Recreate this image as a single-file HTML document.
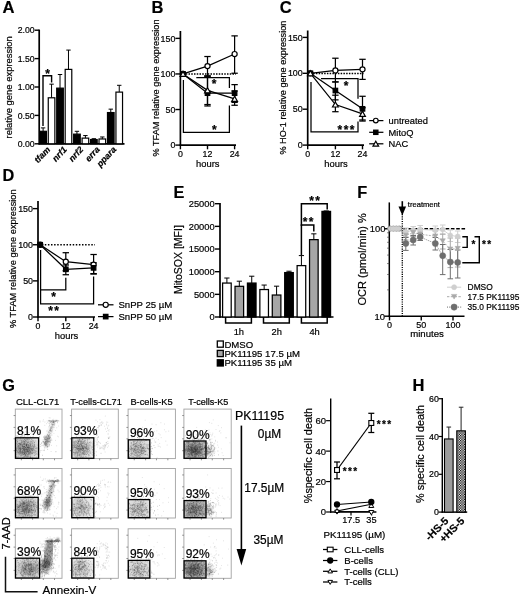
<!DOCTYPE html>
<html lang="en">
<head>
<meta charset="utf-8">
<title>Figure</title>
<style>
html,body{margin:0;padding:0;background:#fff;}
svg{display:block;font-family:"Liberation Sans", sans-serif;}
text{stroke:#000;stroke-width:0.2px;}
</style>
</head>
<body>
<svg width="520" height="595" viewBox="0 0 520 595">
<rect x="0" y="0" width="520" height="595" fill="#fff" stroke="none"/>
<defs>
<radialGradient id="rg"><stop offset="0" stop-color="#555" stop-opacity="0.95"/><stop offset="0.45" stop-color="#666" stop-opacity="0.6"/><stop offset="0.8" stop-color="#777" stop-opacity="0.18"/><stop offset="1" stop-color="#888" stop-opacity="0"/></radialGradient>
<filter id="bl" x="-5%" y="-5%" width="110%" height="110%"><feGaussianBlur stdDeviation="0.42"/></filter>
<filter id="bl2" x="-30%" y="-30%" width="160%" height="160%"><feGaussianBlur stdDeviation="1.1"/></filter>
<pattern id="chk" width="2.5" height="2.5" patternUnits="userSpaceOnUse"><rect width="2.5" height="2.5" fill="#fff"/><rect width="1.25" height="1.25" fill="#000"/><rect x="1.25" y="1.25" width="1.25" height="1.25" fill="#000"/></pattern>
</defs>
<text x="2.5" y="13.24" font-size="16.6" text-anchor="start" fill="#000" font-weight="bold">A</text>
<line x1="39.2" y1="29.6" x2="39.2" y2="144.5" stroke="#000" stroke-width="1.7"/>
<line x1="38.5" y1="143.8" x2="124.5" y2="143.8" stroke="#000" stroke-width="1.7"/>
<line x1="34.7" y1="143.8" x2="39.2" y2="143.8" stroke="#000" stroke-width="1.4"/>
<text x="34.6" y="146.91" font-size="8.7" text-anchor="end" fill="#000">0.00</text>
<line x1="34.7" y1="115.4" x2="39.2" y2="115.4" stroke="#000" stroke-width="1.4"/>
<text x="34.6" y="118.51" font-size="8.7" text-anchor="end" fill="#000">0.50</text>
<line x1="34.7" y1="87" x2="39.2" y2="87" stroke="#000" stroke-width="1.4"/>
<text x="34.6" y="90.11" font-size="8.7" text-anchor="end" fill="#000">1.00</text>
<line x1="34.7" y1="58.6" x2="39.2" y2="58.6" stroke="#000" stroke-width="1.4"/>
<text x="34.6" y="61.71" font-size="8.7" text-anchor="end" fill="#000">1.50</text>
<line x1="34.7" y1="30.2" x2="39.2" y2="30.2" stroke="#000" stroke-width="1.4"/>
<text x="34.6" y="33.31" font-size="8.7" text-anchor="end" fill="#000">2.00</text>
<text x="8.8" y="90.68" font-size="9.45" text-anchor="middle" fill="#000" transform="rotate(-90 8.8 87.3)">relative gene expression</text>
<line x1="43.1" y1="131.3" x2="43.1" y2="127.9" stroke="#000" stroke-width="1"/>
<line x1="40.9" y1="127.9" x2="45.3" y2="127.9" stroke="#000" stroke-width="1"/>
<rect x="39.8" y="131.3" width="6.6" height="12.5" fill="#000" stroke="#000" stroke-width="1.2"/>
<line x1="51.56" y1="97.79" x2="51.56" y2="84.16" stroke="#000" stroke-width="1"/>
<line x1="49.36" y1="84.16" x2="53.76" y2="84.16" stroke="#000" stroke-width="1"/>
<rect x="48.26" y="97.79" width="6.6" height="46.01" fill="#fff" stroke="#000" stroke-width="1.2"/>
<line x1="60.02" y1="88.14" x2="60.02" y2="74.5" stroke="#000" stroke-width="1"/>
<line x1="57.82" y1="74.5" x2="62.22" y2="74.5" stroke="#000" stroke-width="1"/>
<rect x="56.72" y="88.14" width="6.6" height="55.66" fill="#000" stroke="#000" stroke-width="1.2"/>
<line x1="68.48" y1="69.39" x2="68.48" y2="50.08" stroke="#000" stroke-width="1"/>
<line x1="66.28" y1="50.08" x2="70.68" y2="50.08" stroke="#000" stroke-width="1"/>
<rect x="65.18" y="69.39" width="6.6" height="74.41" fill="#fff" stroke="#000" stroke-width="1.2"/>
<line x1="76.94" y1="134.14" x2="76.94" y2="131.3" stroke="#000" stroke-width="1"/>
<line x1="74.74" y1="131.3" x2="79.14" y2="131.3" stroke="#000" stroke-width="1"/>
<rect x="73.64" y="134.14" width="6.6" height="9.66" fill="#000" stroke="#000" stroke-width="1.2"/>
<line x1="85.4" y1="138.12" x2="85.4" y2="135.56" stroke="#000" stroke-width="1"/>
<line x1="83.2" y1="135.56" x2="87.6" y2="135.56" stroke="#000" stroke-width="1"/>
<rect x="82.1" y="138.12" width="6.6" height="5.68" fill="#fff" stroke="#000" stroke-width="1.2"/>
<line x1="93.86" y1="139.54" x2="93.86" y2="138.69" stroke="#000" stroke-width="1"/>
<line x1="91.66" y1="138.69" x2="96.06" y2="138.69" stroke="#000" stroke-width="1"/>
<rect x="90.56" y="139.54" width="6.6" height="4.26" fill="#000" stroke="#000" stroke-width="1.2"/>
<line x1="102.32" y1="138.97" x2="102.32" y2="136.98" stroke="#000" stroke-width="1"/>
<line x1="100.12" y1="136.98" x2="104.52" y2="136.98" stroke="#000" stroke-width="1"/>
<rect x="99.02" y="138.97" width="6.6" height="4.83" fill="#fff" stroke="#000" stroke-width="1.2"/>
<line x1="110.78" y1="112.56" x2="110.78" y2="109.15" stroke="#000" stroke-width="1"/>
<line x1="108.58" y1="109.15" x2="112.98" y2="109.15" stroke="#000" stroke-width="1"/>
<rect x="107.48" y="112.56" width="6.6" height="31.24" fill="#000" stroke="#000" stroke-width="1.2"/>
<line x1="119.24" y1="92.11" x2="119.24" y2="85.3" stroke="#000" stroke-width="1"/>
<line x1="117.04" y1="85.3" x2="121.44" y2="85.3" stroke="#000" stroke-width="1"/>
<rect x="115.94" y="92.11" width="6.6" height="51.69" fill="#fff" stroke="#000" stroke-width="1.2"/>
<text x="50.73" y="150" font-size="8.8" font-style="italic" font-weight="bold" text-anchor="end" transform="rotate(-47 50.73 150)">tfam</text>
<text x="67.25" y="150" font-size="8.8" font-style="italic" font-weight="bold" text-anchor="end" transform="rotate(-47 67.25 150)">nrf1</text>
<text x="83.77" y="150" font-size="8.8" font-style="italic" font-weight="bold" text-anchor="end" transform="rotate(-47 83.77 150)">nrf2</text>
<text x="100.29" y="150" font-size="8.8" font-style="italic" font-weight="bold" text-anchor="end" transform="rotate(-47 100.29 150)">erra</text>
<text x="116.81" y="150" font-size="8.8" font-style="italic" font-weight="bold" text-anchor="end" transform="rotate(-47 116.81 150)">ppara</text>
<polyline points="43,126 43,75.8 51.6,75.8 51.6,82.5" fill="none" stroke="#000" stroke-width="1.4"/>
<text x="47.6" y="78.28" font-size="12" text-anchor="middle" fill="#000" font-weight="bold">*</text>
<text x="151.6" y="13.21" font-size="16.5" text-anchor="start" fill="#000" font-weight="bold">B</text>
<line x1="180.4" y1="31" x2="180.4" y2="145.8" stroke="#000" stroke-width="1.7"/>
<line x1="179.7" y1="145.1" x2="236" y2="145.1" stroke="#000" stroke-width="1.7"/>
<line x1="175.4" y1="145.1" x2="180.4" y2="145.1" stroke="#000" stroke-width="1.4"/>
<text x="175.4" y="148.29" font-size="8.9" text-anchor="end" fill="#000">0</text>
<line x1="175.4" y1="109.52" x2="180.4" y2="109.52" stroke="#000" stroke-width="1.4"/>
<text x="175.4" y="112.71" font-size="8.9" text-anchor="end" fill="#000">50</text>
<line x1="175.4" y1="73.95" x2="180.4" y2="73.95" stroke="#000" stroke-width="1.4"/>
<text x="175.4" y="77.14" font-size="8.9" text-anchor="end" fill="#000">100</text>
<line x1="175.4" y1="38.37" x2="180.4" y2="38.37" stroke="#000" stroke-width="1.4"/>
<text x="175.4" y="41.56" font-size="8.9" text-anchor="end" fill="#000">150</text>
<line x1="180.4" y1="145.1" x2="180.4" y2="149.3" stroke="#000" stroke-width="1.4"/>
<text x="180.4" y="157.45" font-size="8.8" text-anchor="middle" fill="#000">0</text>
<line x1="207.5" y1="145.1" x2="207.5" y2="149.3" stroke="#000" stroke-width="1.4"/>
<text x="207.5" y="157.45" font-size="8.8" text-anchor="middle" fill="#000">12</text>
<line x1="234.6" y1="145.1" x2="234.6" y2="149.3" stroke="#000" stroke-width="1.4"/>
<text x="234.6" y="157.45" font-size="8.8" text-anchor="middle" fill="#000">24</text>
<text x="207.8" y="166.57" font-size="9.4" text-anchor="middle" fill="#000">hours</text>
<text x="155.6" y="91.29" font-size="9.2" text-anchor="middle" fill="#000" transform="rotate(-90 155.6 88)">% TFAM relative gene expression</text>
<line x1="183" y1="73.95" x2="236" y2="73.95" stroke="#000" stroke-width="1.5" stroke-dasharray="1.5 1.25"/>
<polyline points="183.4,80 183.4,132.3 229.4,132.3 229.4,105.5" fill="none" stroke="#000" stroke-width="1.25"/>
<polyline points="196.3,77.6 229.4,77.6 229.4,88" fill="none" stroke="#000" stroke-width="1.25"/>
<text x="214.2" y="88.38" font-size="12" text-anchor="middle" fill="#000" font-weight="bold">*</text>
<text x="214.4" y="134.38" font-size="12" text-anchor="middle" fill="#000" font-weight="bold">*</text>
<polyline points="183,73.95 207.5,93.16 234.6,93.16" fill="none" stroke="#000" stroke-width="1.25"/>
<polyline points="183,73.95 207.5,90.31 234.6,98.85" fill="none" stroke="#000" stroke-width="1.25"/>
<polyline points="183,73.95 207.5,66.12 234.6,54.03" fill="none" stroke="#000" stroke-width="1.25"/>
<line x1="207.5" y1="76.08" x2="207.5" y2="104.54" stroke="#000" stroke-width="1.25"/>
<line x1="204.3" y1="76.08" x2="210.7" y2="76.08" stroke="#000" stroke-width="1.25"/>
<line x1="204.3" y1="104.54" x2="210.7" y2="104.54" stroke="#000" stroke-width="1.25"/>
<line x1="234.6" y1="84.62" x2="234.6" y2="102.41" stroke="#000" stroke-width="1.25"/>
<line x1="231.4" y1="84.62" x2="237.8" y2="84.62" stroke="#000" stroke-width="1.25"/>
<line x1="231.4" y1="102.41" x2="237.8" y2="102.41" stroke="#000" stroke-width="1.25"/>
<line x1="207.5" y1="76.08" x2="207.5" y2="105.97" stroke="#000" stroke-width="1.25"/>
<line x1="204.3" y1="76.08" x2="210.7" y2="76.08" stroke="#000" stroke-width="1.25"/>
<line x1="204.3" y1="105.97" x2="210.7" y2="105.97" stroke="#000" stroke-width="1.25"/>
<line x1="234.6" y1="91.03" x2="234.6" y2="105.26" stroke="#000" stroke-width="1.25"/>
<line x1="231.4" y1="91.03" x2="237.8" y2="91.03" stroke="#000" stroke-width="1.25"/>
<line x1="231.4" y1="105.26" x2="237.8" y2="105.26" stroke="#000" stroke-width="1.25"/>
<line x1="207.5" y1="56.52" x2="207.5" y2="76.08" stroke="#000" stroke-width="1.25"/>
<line x1="204.3" y1="56.52" x2="210.7" y2="56.52" stroke="#000" stroke-width="1.25"/>
<line x1="204.3" y1="76.08" x2="210.7" y2="76.08" stroke="#000" stroke-width="1.25"/>
<line x1="234.6" y1="35.88" x2="234.6" y2="73.24" stroke="#000" stroke-width="1.25"/>
<line x1="231.4" y1="35.88" x2="237.8" y2="35.88" stroke="#000" stroke-width="1.25"/>
<line x1="231.4" y1="73.24" x2="237.8" y2="73.24" stroke="#000" stroke-width="1.25"/>
<circle cx="183" cy="73.95" r="2.55" fill="#fff" stroke="#000" stroke-width="1.2"/>
<circle cx="207.5" cy="66.12" r="2.55" fill="#fff" stroke="#000" stroke-width="1.2"/>
<circle cx="234.6" cy="54.03" r="2.55" fill="#fff" stroke="#000" stroke-width="1.2"/>
<rect x="180.75" y="71.7" width="4.5" height="4.5" fill="#000" stroke="#000" stroke-width="1.2"/>
<rect x="205.25" y="90.91" width="4.5" height="4.5" fill="#000" stroke="#000" stroke-width="1.2"/>
<rect x="232.35" y="90.91" width="4.5" height="4.5" fill="#000" stroke="#000" stroke-width="1.2"/>
<polygon points="183,71.35 185.9,76.42 180.1,76.42" fill="#fff" stroke="#000" stroke-width="1.2"/>
<polygon points="207.5,87.71 210.4,92.79 204.6,92.79" fill="#fff" stroke="#000" stroke-width="1.2"/>
<polygon points="234.6,96.25 237.5,101.33 231.7,101.33" fill="#fff" stroke="#000" stroke-width="1.2"/>
<text x="279.8" y="13.21" font-size="16.5" text-anchor="start" fill="#000" font-weight="bold">C</text>
<line x1="307.7" y1="30.5" x2="307.7" y2="145.8" stroke="#000" stroke-width="1.7"/>
<line x1="307" y1="145.1" x2="364" y2="145.1" stroke="#000" stroke-width="1.7"/>
<line x1="302.7" y1="145.1" x2="307.7" y2="145.1" stroke="#000" stroke-width="1.4"/>
<text x="302.7" y="148.29" font-size="8.9" text-anchor="end" fill="#000">0</text>
<line x1="302.7" y1="109.2" x2="307.7" y2="109.2" stroke="#000" stroke-width="1.4"/>
<text x="302.7" y="112.39" font-size="8.9" text-anchor="end" fill="#000">50</text>
<line x1="302.7" y1="73.3" x2="307.7" y2="73.3" stroke="#000" stroke-width="1.4"/>
<text x="302.7" y="76.49" font-size="8.9" text-anchor="end" fill="#000">100</text>
<line x1="302.7" y1="37.4" x2="307.7" y2="37.4" stroke="#000" stroke-width="1.4"/>
<text x="302.7" y="40.59" font-size="8.9" text-anchor="end" fill="#000">150</text>
<line x1="307.7" y1="145.1" x2="307.7" y2="149.3" stroke="#000" stroke-width="1.4"/>
<text x="307.7" y="157.45" font-size="8.8" text-anchor="middle" fill="#000">0</text>
<line x1="335.4" y1="145.1" x2="335.4" y2="149.3" stroke="#000" stroke-width="1.4"/>
<text x="335.4" y="157.45" font-size="8.8" text-anchor="middle" fill="#000">12</text>
<line x1="362.5" y1="145.1" x2="362.5" y2="149.3" stroke="#000" stroke-width="1.4"/>
<text x="362.5" y="157.45" font-size="8.8" text-anchor="middle" fill="#000">24</text>
<text x="336" y="166.57" font-size="9.4" text-anchor="middle" fill="#000">hours</text>
<text x="283.1" y="90.88" font-size="9.15" text-anchor="middle" fill="#000" transform="rotate(-90 283.1 87.6)">% HO-1 relative gene expression</text>
<line x1="310.4" y1="73.4" x2="363.5" y2="73.4" stroke="#000" stroke-width="1.5" stroke-dasharray="1.5 1.25"/>
<polyline points="311,82 311,131.9 358,131.9 358,121.4" fill="none" stroke="#000" stroke-width="1.25"/>
<polyline points="321,78.6 358,78.6 358,98.8" fill="none" stroke="#000" stroke-width="1.25"/>
<text x="346" y="89.98" font-size="12" text-anchor="middle" fill="#000" font-weight="bold">*</text>
<text x="346.7" y="133.78" font-size="12" text-anchor="middle" fill="#000" font-weight="bold" letter-spacing="1.4">***</text>
<polyline points="310.4,73.3 335.4,90.53 362.5,108.84" fill="none" stroke="#000" stroke-width="1.25"/>
<polyline points="310.4,73.3 335.4,104.53 362.5,113.87" fill="none" stroke="#000" stroke-width="1.25"/>
<polyline points="310.4,73.3 335.4,70.43 362.5,69.35" fill="none" stroke="#000" stroke-width="1.25"/>
<line x1="335.4" y1="81.92" x2="335.4" y2="99.87" stroke="#000" stroke-width="1.25"/>
<line x1="332.2" y1="81.92" x2="338.6" y2="81.92" stroke="#000" stroke-width="1.25"/>
<line x1="332.2" y1="99.87" x2="338.6" y2="99.87" stroke="#000" stroke-width="1.25"/>
<line x1="362.5" y1="96.28" x2="362.5" y2="121.05" stroke="#000" stroke-width="1.25"/>
<line x1="359.3" y1="96.28" x2="365.7" y2="96.28" stroke="#000" stroke-width="1.25"/>
<line x1="359.3" y1="121.05" x2="365.7" y2="121.05" stroke="#000" stroke-width="1.25"/>
<line x1="335.4" y1="95.2" x2="335.4" y2="111.71" stroke="#000" stroke-width="1.25"/>
<line x1="332.2" y1="95.2" x2="338.6" y2="95.2" stroke="#000" stroke-width="1.25"/>
<line x1="332.2" y1="111.71" x2="338.6" y2="111.71" stroke="#000" stroke-width="1.25"/>
<line x1="362.5" y1="107.76" x2="362.5" y2="119.97" stroke="#000" stroke-width="1.25"/>
<line x1="359.3" y1="107.76" x2="365.7" y2="107.76" stroke="#000" stroke-width="1.25"/>
<line x1="359.3" y1="119.97" x2="365.7" y2="119.97" stroke="#000" stroke-width="1.25"/>
<line x1="335.4" y1="58.22" x2="335.4" y2="81.92" stroke="#000" stroke-width="1.25"/>
<line x1="332.2" y1="58.22" x2="338.6" y2="58.22" stroke="#000" stroke-width="1.25"/>
<line x1="332.2" y1="81.92" x2="338.6" y2="81.92" stroke="#000" stroke-width="1.25"/>
<line x1="362.5" y1="59.3" x2="362.5" y2="79.4" stroke="#000" stroke-width="1.25"/>
<line x1="359.3" y1="59.3" x2="365.7" y2="59.3" stroke="#000" stroke-width="1.25"/>
<line x1="359.3" y1="79.4" x2="365.7" y2="79.4" stroke="#000" stroke-width="1.25"/>
<circle cx="310.4" cy="73.3" r="2.55" fill="#fff" stroke="#000" stroke-width="1.2"/>
<circle cx="335.4" cy="70.43" r="2.55" fill="#fff" stroke="#000" stroke-width="1.2"/>
<circle cx="362.5" cy="69.35" r="2.55" fill="#fff" stroke="#000" stroke-width="1.2"/>
<rect x="308.15" y="71.05" width="4.5" height="4.5" fill="#000" stroke="#000" stroke-width="1.2"/>
<rect x="333.15" y="88.28" width="4.5" height="4.5" fill="#000" stroke="#000" stroke-width="1.2"/>
<rect x="360.25" y="106.59" width="4.5" height="4.5" fill="#000" stroke="#000" stroke-width="1.2"/>
<polygon points="310.4,70.7 313.3,75.77 307.5,75.77" fill="#fff" stroke="#000" stroke-width="1.2"/>
<polygon points="335.4,101.93 338.3,107.01 332.5,107.01" fill="#fff" stroke="#000" stroke-width="1.2"/>
<polygon points="362.5,111.27 365.4,116.34 359.6,116.34" fill="#fff" stroke="#000" stroke-width="1.2"/>
<line x1="369.2" y1="120.6" x2="383.4" y2="120.6" stroke="#000" stroke-width="1.25"/>
<circle cx="375.8" cy="120.6" r="2.35" fill="#fff" stroke="#000" stroke-width="1.2"/>
<text x="388.6" y="123.93" font-size="9.3" text-anchor="start" fill="#000">untreated</text>
<line x1="369.2" y1="132.3" x2="383.4" y2="132.3" stroke="#000" stroke-width="1.25"/>
<rect x="373.65" y="130.15" width="4.3" height="4.3" fill="#000" stroke="#000" stroke-width="1.2"/>
<text x="388.6" y="135.63" font-size="9.3" text-anchor="start" fill="#000">MitoQ</text>
<line x1="369.2" y1="143.8" x2="383.4" y2="143.8" stroke="#000" stroke-width="1.25"/>
<polygon points="375.8,141.2 378.6,146.1 373,146.1" fill="#fff" stroke="#000" stroke-width="1.2"/>
<text x="388.6" y="147.13" font-size="9.3" text-anchor="start" fill="#000">NAC</text>
<text x="2.6" y="181.34" font-size="16.3" text-anchor="start" fill="#000" font-weight="bold">D</text>
<line x1="38" y1="201" x2="38" y2="317.7" stroke="#000" stroke-width="1.7"/>
<line x1="37.3" y1="317" x2="95" y2="317" stroke="#000" stroke-width="1.7"/>
<line x1="33" y1="317" x2="38" y2="317" stroke="#000" stroke-width="1.4"/>
<text x="33" y="320.19" font-size="8.9" text-anchor="end" fill="#000">0</text>
<line x1="33" y1="280.88" x2="38" y2="280.88" stroke="#000" stroke-width="1.4"/>
<text x="33" y="284.06" font-size="8.9" text-anchor="end" fill="#000">50</text>
<line x1="33" y1="244.75" x2="38" y2="244.75" stroke="#000" stroke-width="1.4"/>
<text x="33" y="247.94" font-size="8.9" text-anchor="end" fill="#000">100</text>
<line x1="33" y1="208.62" x2="38" y2="208.62" stroke="#000" stroke-width="1.4"/>
<text x="33" y="211.81" font-size="8.9" text-anchor="end" fill="#000">150</text>
<line x1="38" y1="317" x2="38" y2="321.2" stroke="#000" stroke-width="1.4"/>
<text x="38" y="329.35" font-size="8.8" text-anchor="middle" fill="#000">0</text>
<line x1="65.8" y1="317" x2="65.8" y2="321.2" stroke="#000" stroke-width="1.4"/>
<text x="65.8" y="329.35" font-size="8.8" text-anchor="middle" fill="#000">12</text>
<line x1="93.6" y1="317" x2="93.6" y2="321.2" stroke="#000" stroke-width="1.4"/>
<text x="93.6" y="329.35" font-size="8.8" text-anchor="middle" fill="#000">24</text>
<text x="66.5" y="338.97" font-size="9.4" text-anchor="middle" fill="#000">hours</text>
<text x="13" y="262.03" font-size="9.3" text-anchor="middle" fill="#000" transform="rotate(-90 13 258.7)">% TFAM relative gene expression</text>
<line x1="41.7" y1="244.75" x2="95" y2="244.75" stroke="#000" stroke-width="1.5" stroke-dasharray="1.5 1.6"/>
<polyline points="40.6,250 40.6,303.8 93.6,303.8 93.6,276.5" fill="none" stroke="#000" stroke-width="1.25"/>
<polyline points="40.6,289.8 65.8,289.8 65.8,277.7" fill="none" stroke="#000" stroke-width="1.25"/>
<text x="53.6" y="301.18" font-size="12" text-anchor="middle" fill="#000" font-weight="bold">*</text>
<text x="54.3" y="314.78" font-size="12" text-anchor="middle" fill="#000" font-weight="bold" letter-spacing="1.4">**</text>
<polyline points="40.2,244.75 65.8,269.31 93.6,267.87" fill="none" stroke="#000" stroke-width="1.25"/>
<polyline points="40.2,244.75 65.8,261.73 93.6,264.62" fill="none" stroke="#000" stroke-width="1.25"/>
<line x1="65.8" y1="264.98" x2="65.8" y2="274.73" stroke="#000" stroke-width="1.25"/>
<line x1="62.6" y1="264.98" x2="69" y2="264.98" stroke="#000" stroke-width="1.25"/>
<line x1="62.6" y1="274.73" x2="69" y2="274.73" stroke="#000" stroke-width="1.25"/>
<line x1="93.6" y1="262.81" x2="93.6" y2="274.01" stroke="#000" stroke-width="1.25"/>
<line x1="90.4" y1="262.81" x2="96.8" y2="262.81" stroke="#000" stroke-width="1.25"/>
<line x1="90.4" y1="274.01" x2="96.8" y2="274.01" stroke="#000" stroke-width="1.25"/>
<line x1="65.8" y1="252.7" x2="65.8" y2="270.76" stroke="#000" stroke-width="1.25"/>
<line x1="62.6" y1="252.7" x2="69" y2="252.7" stroke="#000" stroke-width="1.25"/>
<line x1="62.6" y1="270.76" x2="69" y2="270.76" stroke="#000" stroke-width="1.25"/>
<line x1="93.6" y1="254.5" x2="93.6" y2="273.65" stroke="#000" stroke-width="1.25"/>
<line x1="90.4" y1="254.5" x2="96.8" y2="254.5" stroke="#000" stroke-width="1.25"/>
<line x1="90.4" y1="273.65" x2="96.8" y2="273.65" stroke="#000" stroke-width="1.25"/>
<circle cx="40.2" cy="244.75" r="2.55" fill="#fff" stroke="#000" stroke-width="1.2"/>
<circle cx="65.8" cy="261.73" r="2.55" fill="#fff" stroke="#000" stroke-width="1.2"/>
<circle cx="93.6" cy="264.62" r="2.55" fill="#fff" stroke="#000" stroke-width="1.2"/>
<rect x="37.95" y="242.5" width="4.5" height="4.5" fill="#000" stroke="#000" stroke-width="1.2"/>
<rect x="63.55" y="267.06" width="4.5" height="4.5" fill="#000" stroke="#000" stroke-width="1.2"/>
<rect x="91.35" y="265.62" width="4.5" height="4.5" fill="#000" stroke="#000" stroke-width="1.2"/>
<line x1="98" y1="304.8" x2="113.5" y2="304.8" stroke="#000" stroke-width="1.25"/>
<circle cx="105.7" cy="304.8" r="2.55" fill="#fff" stroke="#000" stroke-width="1.2"/>
<text x="118.4" y="308.24" font-size="9.6" text-anchor="start" fill="#000">SnPP 25 µM</text>
<line x1="98" y1="316.6" x2="113.5" y2="316.6" stroke="#000" stroke-width="1.25"/>
<rect x="103.45" y="314.35" width="4.5" height="4.5" fill="#000" stroke="#000" stroke-width="1.2"/>
<text x="118.4" y="320.04" font-size="9.6" text-anchor="start" fill="#000">SnPP 50 µM</text>
<text x="173.6" y="198.04" font-size="16.3" text-anchor="start" fill="#000" font-weight="bold">E</text>
<line x1="220" y1="203.1" x2="220" y2="317.7" stroke="#000" stroke-width="1.7"/>
<line x1="219.3" y1="317" x2="333.5" y2="317" stroke="#000" stroke-width="1.7"/>
<line x1="215" y1="317" x2="220" y2="317" stroke="#000" stroke-width="1.4"/>
<text x="214.6" y="320.33" font-size="9.3" text-anchor="end" fill="#000">0</text>
<line x1="215" y1="294.34" x2="220" y2="294.34" stroke="#000" stroke-width="1.4"/>
<text x="214.6" y="297.67" font-size="9.3" text-anchor="end" fill="#000">5000</text>
<line x1="215" y1="271.68" x2="220" y2="271.68" stroke="#000" stroke-width="1.4"/>
<text x="214.6" y="275.01" font-size="9.3" text-anchor="end" fill="#000">10000</text>
<line x1="215" y1="249.02" x2="220" y2="249.02" stroke="#000" stroke-width="1.4"/>
<text x="214.6" y="252.35" font-size="9.3" text-anchor="end" fill="#000">15000</text>
<line x1="215" y1="226.36" x2="220" y2="226.36" stroke="#000" stroke-width="1.4"/>
<text x="214.6" y="229.69" font-size="9.3" text-anchor="end" fill="#000">20000</text>
<line x1="215" y1="203.7" x2="220" y2="203.7" stroke="#000" stroke-width="1.4"/>
<text x="214.6" y="207.03" font-size="9.3" text-anchor="end" fill="#000">25000</text>
<text x="178.7" y="263.36" font-size="10.5" text-anchor="middle" fill="#000" transform="rotate(-90 178.7 259.6)">MitoSOX [MFI]</text>
<line x1="226.9" y1="283.06" x2="226.9" y2="278.02" stroke="#000" stroke-width="1"/>
<line x1="224.3" y1="278.02" x2="229.5" y2="278.02" stroke="#000" stroke-width="1"/>
<rect x="222.6" y="283.06" width="8.6" height="33.94" fill="#fff" stroke="#000" stroke-width="1.25"/>
<line x1="239.32" y1="286.32" x2="239.32" y2="281.2" stroke="#000" stroke-width="1"/>
<line x1="236.72" y1="281.2" x2="241.92" y2="281.2" stroke="#000" stroke-width="1"/>
<rect x="235.02" y="286.32" width="8.6" height="30.68" fill="#a6a6a6" stroke="#000" stroke-width="1.25"/>
<line x1="251.74" y1="283.06" x2="251.74" y2="276.21" stroke="#000" stroke-width="1"/>
<line x1="249.14" y1="276.21" x2="254.34" y2="276.21" stroke="#000" stroke-width="1"/>
<rect x="247.44" y="283.06" width="8.6" height="33.94" fill="#000" stroke="#000" stroke-width="1.25"/>
<line x1="264.16" y1="289.54" x2="264.16" y2="285.05" stroke="#000" stroke-width="1"/>
<line x1="261.56" y1="285.05" x2="266.76" y2="285.05" stroke="#000" stroke-width="1"/>
<rect x="259.86" y="289.54" width="8.6" height="27.46" fill="#fff" stroke="#000" stroke-width="1.25"/>
<line x1="276.58" y1="295.02" x2="276.58" y2="286.18" stroke="#000" stroke-width="1"/>
<line x1="273.98" y1="286.18" x2="279.18" y2="286.18" stroke="#000" stroke-width="1"/>
<rect x="272.28" y="295.02" width="8.6" height="21.98" fill="#a6a6a6" stroke="#000" stroke-width="1.25"/>
<line x1="289" y1="272.59" x2="289" y2="271.23" stroke="#000" stroke-width="1"/>
<line x1="286.4" y1="271.23" x2="291.6" y2="271.23" stroke="#000" stroke-width="1"/>
<rect x="284.7" y="272.59" width="8.6" height="44.41" fill="#000" stroke="#000" stroke-width="1.25"/>
<line x1="301.42" y1="265.61" x2="301.42" y2="255.59" stroke="#000" stroke-width="1"/>
<line x1="298.82" y1="255.59" x2="304.02" y2="255.59" stroke="#000" stroke-width="1"/>
<rect x="297.12" y="265.61" width="8.6" height="51.39" fill="#fff" stroke="#000" stroke-width="1.25"/>
<line x1="313.84" y1="239.64" x2="313.84" y2="233.84" stroke="#000" stroke-width="1"/>
<line x1="311.24" y1="233.84" x2="316.44" y2="233.84" stroke="#000" stroke-width="1"/>
<rect x="309.54" y="239.64" width="8.6" height="77.36" fill="#a6a6a6" stroke="#000" stroke-width="1.25"/>
<line x1="326.26" y1="211.4" x2="326.26" y2="210.95" stroke="#000" stroke-width="1"/>
<line x1="323.66" y1="210.95" x2="328.86" y2="210.95" stroke="#000" stroke-width="1"/>
<rect x="321.96" y="211.4" width="8.6" height="105.6" fill="#000" stroke="#000" stroke-width="1.25"/>
<polyline points="225.6,317 225.6,323 251.4,323 251.4,317" fill="none" stroke="#000" stroke-width="1.5"/>
<text x="238.8" y="334.63" font-size="9.3" text-anchor="middle" fill="#000">1h</text>
<polyline points="263.5,317 263.5,323 289.3,323 289.3,317" fill="none" stroke="#000" stroke-width="1.5"/>
<text x="276.7" y="334.63" font-size="9.3" text-anchor="middle" fill="#000">2h</text>
<polyline points="301.4,317 301.4,323 327.2,323 327.2,317" fill="none" stroke="#000" stroke-width="1.5"/>
<text x="314.6" y="334.63" font-size="9.3" text-anchor="middle" fill="#000">4h</text>
<rect x="217.3" y="341" width="6" height="6.2" fill="#fff" stroke="#000" stroke-width="1.3"/>
<text x="224.4" y="347.54" font-size="9.6" text-anchor="start" fill="#000">DMSO</text>
<rect x="217.3" y="350.4" width="6" height="6.2" fill="#a6a6a6" stroke="#000" stroke-width="1.3"/>
<text x="224.4" y="356.94" font-size="9.6" text-anchor="start" fill="#000">PK11195 17.5 µM</text>
<rect x="217.3" y="359.8" width="6" height="6.2" fill="#000" stroke="#000" stroke-width="1.3"/>
<text x="224.4" y="366.34" font-size="9.6" text-anchor="start" fill="#000">PK11195 35 µM</text>
<polyline points="301.4,255 301.4,225 313.8,225 313.8,231.4" fill="none" stroke="#000" stroke-width="1.5"/>
<polyline points="301.4,226 301.4,203.8 327.2,203.8 327.2,209.6" fill="none" stroke="#000" stroke-width="1.5"/>
<text x="308.7" y="226.38" font-size="12" text-anchor="middle" fill="#000" font-weight="bold" letter-spacing="1.4">**</text>
<text x="315.3" y="204.58" font-size="12" text-anchor="middle" fill="#000" font-weight="bold" letter-spacing="1.4">**</text>
<text x="357.2" y="198.04" font-size="16.3" text-anchor="start" fill="#000" font-weight="bold">F</text>
<line x1="389.3" y1="202.42" x2="389.3" y2="316.9" stroke="#000" stroke-width="1.5"/>
<line x1="388.6" y1="316.2" x2="464.5" y2="316.2" stroke="#000" stroke-width="1.6"/>
<line x1="384.3" y1="316.2" x2="389.3" y2="316.2" stroke="#000" stroke-width="1.4"/>
<line x1="384.3" y1="228.75" x2="389.3" y2="228.75" stroke="#000" stroke-width="1.4"/>
<line x1="387.1" y1="289.87" x2="389.3" y2="289.87" stroke="#444" stroke-width="0.7"/>
<line x1="387.1" y1="274.48" x2="389.3" y2="274.48" stroke="#444" stroke-width="0.7"/>
<line x1="387.1" y1="263.55" x2="389.3" y2="263.55" stroke="#444" stroke-width="0.7"/>
<line x1="387.1" y1="255.08" x2="389.3" y2="255.08" stroke="#444" stroke-width="0.7"/>
<line x1="387.1" y1="248.15" x2="389.3" y2="248.15" stroke="#444" stroke-width="0.7"/>
<line x1="387.1" y1="242.3" x2="389.3" y2="242.3" stroke="#444" stroke-width="0.7"/>
<line x1="387.1" y1="237.22" x2="389.3" y2="237.22" stroke="#444" stroke-width="0.7"/>
<line x1="387.1" y1="232.75" x2="389.3" y2="232.75" stroke="#444" stroke-width="0.7"/>
<text x="385.4" y="232.12" font-size="9.4" text-anchor="end" fill="#000">100</text>
<text x="384.9" y="319.57" font-size="9.4" text-anchor="end" fill="#000">10</text>
<line x1="389.5" y1="316.2" x2="389.5" y2="320.4" stroke="#000" stroke-width="1.4"/>
<text x="389.5" y="327.82" font-size="9" text-anchor="middle" fill="#000">0</text>
<line x1="421.25" y1="316.2" x2="421.25" y2="320.4" stroke="#000" stroke-width="1.4"/>
<text x="421.25" y="327.82" font-size="9" text-anchor="middle" fill="#000">50</text>
<line x1="453" y1="316.2" x2="453" y2="320.4" stroke="#000" stroke-width="1.4"/>
<text x="453" y="327.82" font-size="9" text-anchor="middle" fill="#000">100</text>
<text x="427" y="336.84" font-size="9.6" text-anchor="middle" fill="#000">minutes</text>
<text x="361.8" y="263.24" font-size="11" text-anchor="middle" fill="#000" transform="rotate(-90 361.8 259.3)">OCR (pmol/min) %</text>
<line x1="402.3" y1="214" x2="402.3" y2="316.2" stroke="#000" stroke-width="1.35" stroke-dasharray="1.15 1.15"/>
<line x1="403.2" y1="228.75" x2="466" y2="228.75" stroke="#000" stroke-width="1.65" stroke-dasharray="3.6 1.7"/>
<line x1="402.3" y1="201.2" x2="402.3" y2="209" stroke="#000" stroke-width="1.6"/>
<polygon points="398.5,206.4 406.1,206.4 402.3,215.4" fill="#000"/>
<text x="407.8" y="206.92" font-size="7.6" text-anchor="start" fill="#000">treatment</text>
<polyline points="401,228.7 405.8,243.5 413.2,240 420.2,237 435.3,243.5 442.7,255.7 450.3,262 457.7,262.4" fill="none" stroke="#6e6e6e" stroke-width="0.9" stroke-dasharray="1 1.2"/>
<polyline points="401,228.7 405.8,235.4 413.2,232.6 420.2,234.2 435.3,236.2 442.7,241 450.3,249.2 457.7,248.6" fill="none" stroke="#a9a9a9" stroke-width="0.9" stroke-dasharray="2 1.2"/>
<polyline points="401,228.7 405.8,232 413.2,230.2 420.2,229.4 435.3,230.3 442.7,229.6 450.3,235.4 457.7,236.5" fill="none" stroke="#cfcfcf" stroke-width="0.9"/>
<line x1="405.8" y1="228" x2="405.8" y2="236.5" stroke="#cfcfcf" stroke-width="1"/>
<line x1="403" y1="228" x2="408.6" y2="228" stroke="#cfcfcf" stroke-width="1"/>
<line x1="403" y1="236.5" x2="408.6" y2="236.5" stroke="#cfcfcf" stroke-width="1"/>
<line x1="413.2" y1="226.5" x2="413.2" y2="234" stroke="#cfcfcf" stroke-width="1"/>
<line x1="410.4" y1="226.5" x2="416" y2="226.5" stroke="#cfcfcf" stroke-width="1"/>
<line x1="410.4" y1="234" x2="416" y2="234" stroke="#cfcfcf" stroke-width="1"/>
<line x1="420.2" y1="225.5" x2="420.2" y2="233.5" stroke="#cfcfcf" stroke-width="1"/>
<line x1="417.4" y1="225.5" x2="423" y2="225.5" stroke="#cfcfcf" stroke-width="1"/>
<line x1="417.4" y1="233.5" x2="423" y2="233.5" stroke="#cfcfcf" stroke-width="1"/>
<line x1="435.3" y1="226" x2="435.3" y2="235" stroke="#cfcfcf" stroke-width="1"/>
<line x1="432.5" y1="226" x2="438.1" y2="226" stroke="#cfcfcf" stroke-width="1"/>
<line x1="432.5" y1="235" x2="438.1" y2="235" stroke="#cfcfcf" stroke-width="1"/>
<line x1="442.7" y1="225" x2="442.7" y2="234.5" stroke="#cfcfcf" stroke-width="1"/>
<line x1="439.9" y1="225" x2="445.5" y2="225" stroke="#cfcfcf" stroke-width="1"/>
<line x1="439.9" y1="234.5" x2="445.5" y2="234.5" stroke="#cfcfcf" stroke-width="1"/>
<line x1="450.3" y1="230" x2="450.3" y2="241.5" stroke="#cfcfcf" stroke-width="1"/>
<line x1="447.5" y1="230" x2="453.1" y2="230" stroke="#cfcfcf" stroke-width="1"/>
<line x1="447.5" y1="241.5" x2="453.1" y2="241.5" stroke="#cfcfcf" stroke-width="1"/>
<line x1="457.7" y1="231" x2="457.7" y2="242.5" stroke="#cfcfcf" stroke-width="1"/>
<line x1="454.9" y1="231" x2="460.5" y2="231" stroke="#cfcfcf" stroke-width="1"/>
<line x1="454.9" y1="242.5" x2="460.5" y2="242.5" stroke="#cfcfcf" stroke-width="1"/>
<line x1="405.8" y1="231" x2="405.8" y2="240" stroke="#a9a9a9" stroke-width="1"/>
<line x1="403" y1="231" x2="408.6" y2="231" stroke="#a9a9a9" stroke-width="1"/>
<line x1="403" y1="240" x2="408.6" y2="240" stroke="#a9a9a9" stroke-width="1"/>
<line x1="413.2" y1="229" x2="413.2" y2="236.5" stroke="#a9a9a9" stroke-width="1"/>
<line x1="410.4" y1="229" x2="416" y2="229" stroke="#a9a9a9" stroke-width="1"/>
<line x1="410.4" y1="236.5" x2="416" y2="236.5" stroke="#a9a9a9" stroke-width="1"/>
<line x1="420.2" y1="231" x2="420.2" y2="238" stroke="#a9a9a9" stroke-width="1"/>
<line x1="417.4" y1="231" x2="423" y2="231" stroke="#a9a9a9" stroke-width="1"/>
<line x1="417.4" y1="238" x2="423" y2="238" stroke="#a9a9a9" stroke-width="1"/>
<line x1="435.3" y1="231" x2="435.3" y2="242" stroke="#a9a9a9" stroke-width="1"/>
<line x1="432.5" y1="231" x2="438.1" y2="231" stroke="#a9a9a9" stroke-width="1"/>
<line x1="432.5" y1="242" x2="438.1" y2="242" stroke="#a9a9a9" stroke-width="1"/>
<line x1="442.7" y1="234" x2="442.7" y2="249" stroke="#a9a9a9" stroke-width="1"/>
<line x1="439.9" y1="234" x2="445.5" y2="234" stroke="#a9a9a9" stroke-width="1"/>
<line x1="439.9" y1="249" x2="445.5" y2="249" stroke="#a9a9a9" stroke-width="1"/>
<line x1="450.3" y1="238" x2="450.3" y2="267.6" stroke="#a9a9a9" stroke-width="1"/>
<line x1="447.5" y1="238" x2="453.1" y2="238" stroke="#a9a9a9" stroke-width="1"/>
<line x1="447.5" y1="267.6" x2="453.1" y2="267.6" stroke="#a9a9a9" stroke-width="1"/>
<line x1="457.7" y1="238" x2="457.7" y2="267" stroke="#a9a9a9" stroke-width="1"/>
<line x1="454.9" y1="238" x2="460.5" y2="238" stroke="#a9a9a9" stroke-width="1"/>
<line x1="454.9" y1="267" x2="460.5" y2="267" stroke="#a9a9a9" stroke-width="1"/>
<line x1="405.8" y1="237.5" x2="405.8" y2="250.4" stroke="#6e6e6e" stroke-width="1"/>
<line x1="403" y1="237.5" x2="408.6" y2="237.5" stroke="#6e6e6e" stroke-width="1"/>
<line x1="403" y1="250.4" x2="408.6" y2="250.4" stroke="#6e6e6e" stroke-width="1"/>
<line x1="413.2" y1="235.5" x2="413.2" y2="245" stroke="#6e6e6e" stroke-width="1"/>
<line x1="410.4" y1="235.5" x2="416" y2="235.5" stroke="#6e6e6e" stroke-width="1"/>
<line x1="410.4" y1="245" x2="416" y2="245" stroke="#6e6e6e" stroke-width="1"/>
<line x1="420.2" y1="233.5" x2="420.2" y2="240.5" stroke="#6e6e6e" stroke-width="1"/>
<line x1="417.4" y1="233.5" x2="423" y2="233.5" stroke="#6e6e6e" stroke-width="1"/>
<line x1="417.4" y1="240.5" x2="423" y2="240.5" stroke="#6e6e6e" stroke-width="1"/>
<line x1="435.3" y1="237.5" x2="435.3" y2="250" stroke="#6e6e6e" stroke-width="1"/>
<line x1="432.5" y1="237.5" x2="438.1" y2="237.5" stroke="#6e6e6e" stroke-width="1"/>
<line x1="432.5" y1="250" x2="438.1" y2="250" stroke="#6e6e6e" stroke-width="1"/>
<line x1="442.7" y1="244.5" x2="442.7" y2="274.6" stroke="#6e6e6e" stroke-width="1"/>
<line x1="439.9" y1="244.5" x2="445.5" y2="244.5" stroke="#6e6e6e" stroke-width="1"/>
<line x1="439.9" y1="274.6" x2="445.5" y2="274.6" stroke="#6e6e6e" stroke-width="1"/>
<line x1="450.3" y1="249.5" x2="450.3" y2="278.8" stroke="#6e6e6e" stroke-width="1"/>
<line x1="447.5" y1="249.5" x2="453.1" y2="249.5" stroke="#6e6e6e" stroke-width="1"/>
<line x1="447.5" y1="278.8" x2="453.1" y2="278.8" stroke="#6e6e6e" stroke-width="1"/>
<line x1="457.7" y1="250" x2="457.7" y2="278" stroke="#6e6e6e" stroke-width="1"/>
<line x1="454.9" y1="250" x2="460.5" y2="250" stroke="#6e6e6e" stroke-width="1"/>
<line x1="454.9" y1="278" x2="460.5" y2="278" stroke="#6e6e6e" stroke-width="1"/>
<circle cx="390.2" cy="228.6" r="2.6" fill="#cfcfcf" stroke="#8c8c8c" stroke-width="0.9"/>
<circle cx="393.4" cy="228.6" r="2.6" fill="#cfcfcf" stroke="#8c8c8c" stroke-width="0.9"/>
<circle cx="396.4" cy="228.6" r="2.6" fill="#cfcfcf" stroke="#8c8c8c" stroke-width="0.9"/>
<circle cx="399.2" cy="228.6" r="2.6" fill="#cfcfcf" stroke="#8c8c8c" stroke-width="0.9"/>
<rect x="390.2" y="226.4" width="9" height="4.4" fill="#cfcfcf" stroke="none" stroke-width="0"/>
<circle cx="405.8" cy="232" r="2.45" fill="#cfcfcf" stroke="#cfcfcf" stroke-width="0.6"/>
<circle cx="413.2" cy="230.2" r="2.45" fill="#cfcfcf" stroke="#cfcfcf" stroke-width="0.6"/>
<circle cx="420.2" cy="229.4" r="2.45" fill="#cfcfcf" stroke="#cfcfcf" stroke-width="0.6"/>
<circle cx="435.3" cy="230.3" r="2.45" fill="#cfcfcf" stroke="#cfcfcf" stroke-width="0.6"/>
<circle cx="442.7" cy="229.6" r="2.45" fill="#cfcfcf" stroke="#cfcfcf" stroke-width="0.6"/>
<circle cx="450.3" cy="235.4" r="2.45" fill="#cfcfcf" stroke="#cfcfcf" stroke-width="0.6"/>
<circle cx="457.7" cy="236.5" r="2.45" fill="#cfcfcf" stroke="#cfcfcf" stroke-width="0.6"/>
<polygon points="405.8,237.7 408.4,233.15 403.2,233.15" fill="#a9a9a9" stroke="#a9a9a9" stroke-width="0.5"/>
<polygon points="413.2,234.9 415.8,230.35 410.6,230.35" fill="#a9a9a9" stroke="#a9a9a9" stroke-width="0.5"/>
<polygon points="420.2,236.5 422.8,231.95 417.6,231.95" fill="#a9a9a9" stroke="#a9a9a9" stroke-width="0.5"/>
<polygon points="435.3,238.5 437.9,233.95 432.7,233.95" fill="#a9a9a9" stroke="#a9a9a9" stroke-width="0.5"/>
<polygon points="442.7,243.3 445.3,238.75 440.1,238.75" fill="#a9a9a9" stroke="#a9a9a9" stroke-width="0.5"/>
<polygon points="450.3,251.5 452.9,246.95 447.7,246.95" fill="#a9a9a9" stroke="#a9a9a9" stroke-width="0.5"/>
<polygon points="457.7,250.9 460.3,246.35 455.1,246.35" fill="#a9a9a9" stroke="#a9a9a9" stroke-width="0.5"/>
<circle cx="405.8" cy="243.5" r="3" fill="#6e6e6e" stroke="#6e6e6e" stroke-width="0.6"/>
<circle cx="413.2" cy="240" r="3" fill="#6e6e6e" stroke="#6e6e6e" stroke-width="0.6"/>
<circle cx="420.2" cy="237" r="3" fill="#6e6e6e" stroke="#6e6e6e" stroke-width="0.6"/>
<circle cx="435.3" cy="243.5" r="3" fill="#6e6e6e" stroke="#6e6e6e" stroke-width="0.6"/>
<circle cx="442.7" cy="255.7" r="3" fill="#6e6e6e" stroke="#6e6e6e" stroke-width="0.6"/>
<circle cx="450.3" cy="262" r="3" fill="#6e6e6e" stroke="#6e6e6e" stroke-width="0.6"/>
<circle cx="457.7" cy="262.4" r="3" fill="#6e6e6e" stroke="#6e6e6e" stroke-width="0.6"/>
<polyline points="462.3,236.8 467.2,236.8 467.2,247.4 462.3,247.4" fill="none" stroke="#000" stroke-width="1.4"/>
<polyline points="474.5,236.8 479.3,236.8 479.3,262.7 462.3,262.7" fill="none" stroke="#000" stroke-width="1.4"/>
<text x="473.4" y="248.18" font-size="10" text-anchor="middle" fill="#000" font-weight="bold">*</text>
<text x="487.3" y="248.18" font-size="10" text-anchor="middle" fill="#000" font-weight="bold" letter-spacing="1.4">**</text>
<line x1="447" y1="287.2" x2="461.2" y2="287.2" stroke="#cfcfcf" stroke-width="1"/>
<circle cx="454.1" cy="287.2" r="2.5" fill="#cfcfcf" stroke="#cfcfcf" stroke-width="0.6"/>
<text x="467.6" y="290.21" font-size="8.4" text-anchor="start" fill="#000">DMSO</text>
<line x1="447" y1="296.7" x2="461.2" y2="296.7" stroke="#a9a9a9" stroke-width="1" stroke-dasharray="2.4 1.4"/>
<polygon points="454.1,299.1 456.8,294.38 451.4,294.38" fill="#a9a9a9" stroke="#a9a9a9" stroke-width="0.5"/>
<text x="467.6" y="299.71" font-size="8.4" text-anchor="start" fill="#000">17.5 PK11195</text>
<line x1="447" y1="307.1" x2="461.2" y2="307.1" stroke="#6e6e6e" stroke-width="1" stroke-dasharray="1 1.2"/>
<circle cx="454.1" cy="307.1" r="3.1" fill="#6e6e6e" stroke="#6e6e6e" stroke-width="0.6"/>
<text x="467.6" y="310.11" font-size="8.4" text-anchor="start" fill="#000">35.0 PK11195</text>
<text x="2.2" y="390.94" font-size="16.3" text-anchor="start" fill="#000" font-weight="bold">G</text>
<text x="15.9" y="405.32" font-size="9.55" text-anchor="start" fill="#000">CLL-CL71</text>
<text x="70.2" y="405.19" font-size="9.2" text-anchor="start" fill="#000">T-cells-CL71</text>
<text x="130.4" y="405.21" font-size="9.25" text-anchor="start" fill="#000">B-cells-K5</text>
<text x="188.2" y="405.14" font-size="9.05" text-anchor="start" fill="#000">T-cells-K5</text>
<clipPath id="cp00"><rect x="15.8" y="409.6" width="45.7" height="48.5"/></clipPath>
<g clip-path="url(#cp00)" filter="url(#bl)">
<ellipse cx="24.55" cy="448.4" rx="15.38" ry="14.56" fill="url(#rg)" opacity="0.55"/>
<rect x="15.3" y="437.8" width="23.3" height="20.8" fill="#555" opacity="0.16"/>
<ellipse cx="46.9" cy="441.6" rx="4.8" ry="7.8" fill="url(#rg)" opacity="0.5" transform="rotate(12 46.9 441.6)"/>
<line x1="47.4" y1="438.6" x2="53.5" y2="422.7" stroke="#666" stroke-width="3.2" stroke-linecap="round" opacity="0.2" filter="url(#bl2)"/>
<line x1="48.8" y1="421.4" x2="57.8" y2="420.8" stroke="#666" stroke-width="2.4" stroke-linecap="round" opacity="0.28" filter="url(#bl2)"/>
<path d="M22.82 451.48h.01M23.02 446.5h.01M18.27 447.11h.01M32.06 450.96h.01M31.56 449.9h.01M27.22 449.52h.01M27.97 451.41h.01M18.54 445.58h.01M26.61 448.12h.01M28.07 444.53h.01M26.64 450.78h.01M28.31 455.62h.01M20.36 443.94h.01M22.23 447.76h.01M28.82 449.9h.01M21.53 442.63h.01M21.03 455.76h.01M19.09 449.88h.01M27.43 439.41h.01M24.88 456.28h.01M23.83 443.47h.01M27.91 448.02h.01M29.07 454.11h.01M34.28 450.59h.01M25.36 440.56h.01M28.71 444.71h.01M21.49 440.77h.01M18.01 445.2h.01M33.26 436.14h.01M34.3 451.89h.01M26.96 443.96h.01M16.98 454.3h.01M31.99 449.35h.01M26.21 451.02h.01M35.32 452.13h.01M28.05 451.7h.01M31 451.59h.01M30.24 437.47h.01M23.31 454.55h.01M28.28 447.49h.01M26.75 452.32h.01M25.36 455.31h.01M20.08 445.9h.01M31.59 448.56h.01M18.6 454.11h.01M34.45 445.72h.01M23.54 446.6h.01M34.04 442.21h.01M33.07 440.75h.01M19.23 452.21h.01M32.18 453.58h.01M26.88 449.26h.01M25.58 451.87h.01M23.36 450.07h.01M28.42 448.41h.01M29.71 451.81h.01M38.14 450.36h.01M21.66 446.15h.01M24.46 453.97h.01M22.28 450.73h.01M36.96 432.93h.01M16.96 449.87h.01M27.24 449.84h.01M21.64 452.35h.01M26.46 445.25h.01M40.97 450.54h.01M20.81 447.8h.01M23.03 448.02h.01M31.36 441.35h.01M24.1 454.15h.01M30.34 457.39h.01M22.25 452.16h.01M31.93 432.22h.01M31.91 439.67h.01M29.17 439.4h.01M25.74 455.61h.01M23.54 449.55h.01M29.94 449.25h.01M23.95 457.65h.01M31.63 446.63h.01M43.1 441.48h.01M30.73 446.8h.01M25.44 452.65h.01M26.05 452.25h.01M28.71 442.59h.01M17.61 439.53h.01M33.11 452.9h.01M34.5 442.74h.01M24.56 441.52h.01M31.23 447.33h.01M23.9 444.76h.01M27.25 450.87h.01M34.67 442.25h.01M32.23 457.37h.01M34.36 447.31h.01M19.52 454.54h.01M25.33 449.15h.01M34.17 446.81h.01M26.69 444.71h.01M24.49 453.42h.01M25.08 456.4h.01M24.14 454.68h.01M20.01 453.71h.01M16.23 448.32h.01M23.25 448.23h.01M20.55 449.81h.01M36.65 448.67h.01M28.14 454.44h.01M23.21 440.8h.01M20.8 454.88h.01M31.36 453.18h.01M24.6 453.26h.01M25.67 441.29h.01M30.78 444.99h.01M18.45 443.75h.01M16.58 450.6h.01M20.21 436.68h.01M29.45 446.74h.01M26.52 445.63h.01M29.82 452.91h.01M29.05 450.37h.01M33.56 452.38h.01M27.6 435.83h.01M30.61 456.3h.01M22.54 445.57h.01M37.66 437.79h.01M18.28 452.56h.01M37.3 447.67h.01M28.34 453.84h.01M18.43 447.86h.01M26.53 453.38h.01M24.32 447.22h.01M17.68 446.23h.01M30.58 449.01h.01M18.79 443.32h.01M42.57 455.28h.01M28.86 432.76h.01M28.75 451.3h.01M35.93 450.98h.01M24.09 451.55h.01M26.75 444.17h.01M26.52 449.51h.01M21.86 442.52h.01M38.88 454.66h.01M16.48 440.29h.01M36.06 454.37h.01M36.85 453.29h.01M18.66 449.97h.01M24.15 451.55h.01M19.63 447.65h.01M27.65 450.67h.01M28.86 449.66h.01M22.36 453.16h.01M24.88 443.42h.01M20.32 448.4h.01M23.81 449.35h.01M24.55 449.46h.01M23.64 440.81h.01M27.4 454.76h.01M27.49 447.26h.01M27.57 442.57h.01M18.26 452.86h.01M17.22 432.54h.01M21.97 440.14h.01M19.39 451.54h.01M27.91 449.47h.01M34.58 452.66h.01M24.41 452h.01M35.73 454.26h.01M31.47 441.87h.01M23.55 452.8h.01M22.55 454.85h.01M28.58 453.88h.01M32.93 447.1h.01M22.23 453.67h.01M31.17 448.44h.01M16.66 449.53h.01M26.98 455.21h.01M29.84 448.55h.01M30.32 451.66h.01M25.94 448.73h.01M22.91 452.54h.01M17.43 444.61h.01M24.58 439.57h.01M21.6 436.28h.01M19.94 451.83h.01M28.38 448.07h.01M22.98 439.85h.01M36.9 451.51h.01M31.94 443.08h.01M23.3 437.42h.01M29.82 454.04h.01M28.81 437.77h.01M20.3 439.94h.01M24.76 449.91h.01M28.83 452.63h.01M34.7 455.42h.01M17.39 441.91h.01M24 448.43h.01M27.86 438.83h.01M16.19 448.26h.01M23.2 446.52h.01M24.12 443.82h.01M29.29 450.54h.01M23.96 444.35h.01M23.37 431.98h.01M17.92 448.63h.01M25.55 440.09h.01M22.86 446.51h.01M27.66 452.09h.01M24.3 443.27h.01M23.58 448.01h.01M29.51 450.18h.01M19.67 440.23h.01M22.03 443.93h.01M17.04 447.7h.01M21.23 449.04h.01M28.09 445.91h.01M40.26 446.46h.01M31.99 449.13h.01M32.09 434.07h.01M19.47 449.89h.01M26.73 456.12h.01M29.73 454.11h.01M28 447.46h.01M27.99 441.9h.01M32.53 442.26h.01M23.04 448.52h.01M32.41 448.56h.01M19.09 449.96h.01M28.48 452.68h.01M35.81 448.51h.01M26.36 445.82h.01M34.11 444.15h.01M29.1 445.51h.01M19.86 452.73h.01M33.56 448.34h.01M19.97 453.29h.01M24.22 450.27h.01M34.84 455.23h.01M24.57 453.14h.01M20.18 448.13h.01M33.78 441.07h.01M32.49 445.63h.01M24.14 446.51h.01M23.73 441.84h.01M24.71 439.73h.01M24.07 450.26h.01M27.71 447h.01M18.44 449.36h.01M29.74 447.71h.01M21.37 444.16h.01M18.22 446.27h.01M26.54 451.51h.01M19.79 448.48h.01M43.43 437.14h.01M21.03 449.42h.01M25.59 450.86h.01M22.94 450.61h.01M24.91 453.05h.01M24.54 442.18h.01M17.49 452.19h.01M20.16 452.23h.01M29.59 450.25h.01M27.98 447.77h.01M27.62 445.21h.01M23.88 452.92h.01M18.62 452.26h.01M37.14 445.05h.01M25.54 447.49h.01M34.96 450.31h.01M30.62 444.24h.01M24.44 448.34h.01M30.63 437.85h.01M29.58 447.61h.01M27.58 450.61h.01M34.64 444.93h.01M17.64 440.2h.01M16.3 450.42h.01M35.99 450.99h.01M21.04 444.33h.01M28.12 451.71h.01M17.69 441.34h.01M26.52 449.89h.01M20.88 451.18h.01M23.76 447.88h.01M22.16 454.76h.01M33.95 446.19h.01M30.27 443.83h.01M25.04 452.92h.01M34.78 446.09h.01M24.05 449.58h.01M19.98 450.64h.01M16.91 436.48h.01M24.81 449.97h.01M20.84 453.76h.01M22.7 444.75h.01M27.78 438.94h.01M19.97 448.27h.01M30.29 447.42h.01M26.63 444.45h.01M20.2 448.5h.01M25.72 454.58h.01M16.19 435.73h.01M28.64 453.2h.01M25.93 449.93h.01M30.83 450.62h.01M35.79 440.93h.01M22.01 427.62h.01M30.04 446.15h.01M24.51 446.86h.01M21.17 443.35h.01M20.29 452.26h.01M24.8 448.8h.01M23.38 453.92h.01M27.89 447.54h.01M29.04 447.48h.01M16.76 457.18h.01M27.69 442.63h.01M31.84 450.48h.01M26.8 453.78h.01M25.89 447.5h.01M24.75 446.67h.01M26.92 448.87h.01M29.12 446.16h.01M24.3 435.5h.01M21.69 452.48h.01M33.58 446.2h.01M22.35 452.83h.01M35.89 448.64h.01M32.84 444.11h.01M25.95 447.93h.01M25.33 455.21h.01M40.7 444.39h.01M20.66 451.4h.01M17.42 451.4h.01M28.41 446.73h.01M28.14 439.05h.01M29.68 439.08h.01M19.84 445.05h.01M21.84 453.58h.01M25.1 446h.01M24.59 450.61h.01M32.93 450.02h.01M39.47 436.43h.01M24.29 450.92h.01M31.08 452.44h.01M22.71 442.04h.01M25.25 454.63h.01M17.19 442.2h.01M24.38 436.71h.01M22.79 445.77h.01M27.6 444.17h.01M18.59 446.02h.01M24.21 444.39h.01M24.63 452.93h.01M19.26 445.87h.01M19.65 448.2h.01M28.08 440.21h.01M27.68 448.24h.01M32.62 437.13h.01M30 449.66h.01M27.76 451.06h.01M33.36 447.05h.01M30.45 445.93h.01M29.47 443.49h.01M27.56 447.45h.01M16.81 443.63h.01M25.86 454.07h.01M27.43 451.56h.01M24.27 456.56h.01M21.91 445.08h.01M30.55 448.78h.01M22.67 444.92h.01M22.81 452.16h.01M26.94 441.1h.01M27.43 449.48h.01M17.79 453.06h.01M22.66 446.38h.01M29.93 456.37h.01M19.9 451.04h.01M21.21 455.61h.01M20.18 453.29h.01M39.54 433.07h.01M21.61 451.42h.01M23.92 444.37h.01M39.09 448.88h.01M20.65 449.27h.01M33.07 449.11h.01M32.54 452.87h.01M19.04 453.58h.01M27.91 452.31h.01M30.63 452.82h.01M30.51 433.58h.01M25.69 451.37h.01M41.79 442.65h.01M22.33 448.62h.01M30.54 445.73h.01M32.3 443.65h.01M26.35 445.22h.01M25.62 444.23h.01M26.6 445.03h.01M25.91 454.37h.01M17.95 447.73h.01M28.19 451.57h.01M22.28 435.69h.01M32.95 450.38h.01M24.64 446.72h.01M26.33 445.83h.01M17.63 443.94h.01M20.52 444.71h.01M16.72 452.24h.01M17.69 450.53h.01M33.83 449.63h.01M19.61 448.69h.01M25.55 437.94h.01M20.44 449.38h.01M21.38 448.88h.01M29.51 453.02h.01M30.67 451.95h.01M22.6 448.29h.01M22.72 446.51h.01M23.34 438h.01M22.3 448.25h.01M17.97 448.26h.01M28.03 447.41h.01M38.58 432.68h.01M23.16 437.39h.01M28.06 446.58h.01M28.28 434.87h.01M30.31 450.64h.01M24.7 444.86h.01M28.86 445.47h.01M26.06 445.32h.01M25.92 452.95h.01M18.63 448.2h.01M28.72 449.28h.01M18.41 436.81h.01M30.34 457.63h.01M30.78 453.31h.01M20.37 444.1h.01M30.55 442.9h.01M19.91 444h.01M26.11 443.88h.01M33.4 447.93h.01M17.21 456.3h.01M20.61 449.73h.01M24.46 446.5h.01M26.75 444.22h.01M24.39 448.73h.01M28.31 449.12h.01M19.19 444.12h.01M27.83 451.59h.01M23.73 447.35h.01M30.88 448.49h.01M29.54 451.91h.01M25.99 456.28h.01M20.68 446.24h.01M19.09 443.59h.01M24.7 451.83h.01M32.49 453.27h.01M32.69 440.78h.01M20.23 451.13h.01M34.25 449.03h.01M18.75 446.26h.01M20.09 443.22h.01M34.69 444.63h.01M32.56 450.43h.01M20.42 450.87h.01M35.51 452.16h.01M33.07 448.99h.01M28.04 447.19h.01M27.43 456.24h.01M26.17 444.96h.01M22.47 453.15h.01M38.08 452.2h.01M26.75 439.04h.01M37.57 448.86h.01M24.32 441.65h.01M24.17 441.79h.01M25.03 451.21h.01M24.76 450.09h.01M18.79 457.02h.01M20.14 437.43h.01M23.28 443.79h.01M17.73 446.26h.01M26.52 441.27h.01M23.62 457.01h.01M29.16 447.48h.01M25.41 447.68h.01M24.23 452.82h.01M23.92 433.9h.01M24.4 443.03h.01M28.95 444.72h.01M17.48 441.62h.01M20.24 437.13h.01M19.31 446.19h.01M26.78 456.58h.01M37.67 454.63h.01M25.52 449.51h.01M36.73 457.02h.01M22.45 451.16h.01M26.49 448.72h.01M21.17 440.4h.01M20.94 439.09h.01M32.82 451.64h.01M16.4 456.82h.01M30.58 436.89h.01M36.99 453.29h.01M38.5 440.97h.01M28.14 450.95h.01M25.91 449.43h.01M31.67 439.39h.01M16.16 439.99h.01M20.78 444.75h.01M27.03 450.01h.01M24.76 444.32h.01M21.56 454.15h.01M29.71 449.01h.01M22.37 457.77h.01M20.54 452.31h.01M32.34 446.8h.01M30.13 441.67h.01M31.39 449.6h.01M18.52 456.13h.01M19.96 447.41h.01M26.46 446.39h.01M26.3 445.06h.01M29.09 448.43h.01M25.98 431.8h.01M32.4 448.59h.01M27.71 454.86h.01M17.23 457.73h.01M23.56 452.5h.01M22.07 441.67h.01M31.96 453.87h.01M34.95 453.57h.01M20.68 438.37h.01M20.15 444.33h.01M19.04 451.91h.01M26.76 446.77h.01M25.72 447.52h.01M25.99 452.94h.01M31.03 444.26h.01M25.32 455.07h.01M24.73 439.7h.01M21.06 452.77h.01M18.71 439.95h.01M28.07 454.07h.01M25.85 440.55h.01M29.83 453.18h.01M28.29 445.46h.01M26.6 453.17h.01M20.77 437.28h.01M26.77 451.3h.01M24.64 453.76h.01M20.59 447.9h.01M22.49 451.85h.01M35.33 446.88h.01M38.44 457.62h.01M29.89 451.94h.01M36.52 447.31h.01M23.79 441.99h.01M27.74 456.51h.01M28.15 450.95h.01M23.19 449.42h.01M21.78 441.74h.01M19.47 443.43h.01M30.33 454.78h.01M30.55 444.91h.01M20.27 450.47h.01M22.13 436.17h.01M26.13 439.15h.01M30.67 441.12h.01M19.87 443.25h.01M20.88 456.23h.01M30.31 452.03h.01M26.71 439.06h.01M21.03 445.07h.01M17.95 451.47h.01M19.54 444.12h.01M17.49 435.99h.01M28.57 456.43h.01M25.73 442.51h.01M32.77 450.19h.01M30.81 457.32h.01M32.16 445.74h.01M31.66 453.08h.01M28.46 441.96h.01M27.1 457.27h.01M23.13 450.02h.01M23.51 454.42h.01M31.56 448.92h.01M45.95 443.98h.01M47.43 446.53h.01M49.19 439.24h.01M47.6 446.91h.01M45.82 443.41h.01M49.3 444.61h.01M47.95 436.99h.01M44.36 443.42h.01M47.68 449.36h.01M45.16 445.91h.01M48.45 435.67h.01M45.25 442.8h.01M45.91 441.51h.01M47.85 438.65h.01M47.84 439.2h.01M45.8 443.75h.01M45.74 442.98h.01M50.12 440.38h.01M46.61 444.05h.01M46.16 445.33h.01M44.31 444.61h.01M45.87 439.49h.01M50.47 437.45h.01M50.44 442.25h.01M49.83 437.31h.01M49.32 445.24h.01M46.67 441.29h.01M51.85 440.15h.01M46.05 439.95h.01M47.8 442.28h.01M47.26 446.91h.01M46.24 443.37h.01M49.84 437.22h.01M48.99 446.56h.01M44.17 439.23h.01M44.81 436.59h.01M47.81 435.34h.01M47.91 445.8h.01M43.64 441.92h.01M43.03 445.64h.01M45.41 441.36h.01M47.01 443.28h.01M46.2 441.93h.01M45.8 442.41h.01M44.54 442.76h.01M43 441.63h.01M50.76 440.28h.01M44.36 443.45h.01M44.94 437.16h.01M45.42 444.54h.01M47.67 440.98h.01M45.03 438.94h.01M49.62 441.27h.01M44.98 435.68h.01M44.14 450.57h.01M44.58 442.3h.01M47.32 440.93h.01M46.34 437.47h.01M44.78 447.82h.01M45.38 444.9h.01M43.49 442.12h.01M47.43 444.67h.01M44.64 444.41h.01M47.68 438.94h.01M47.86 438.36h.01M45.3 442.19h.01M41.43 443.48h.01M44.88 437.78h.01M46.04 444.37h.01M46.08 445.95h.01M44.56 438.39h.01M50.03 441.59h.01M48.81 438.2h.01M48.52 441.76h.01M48.21 441.15h.01M49.33 438.55h.01M44.96 437.7h.01M49.24 438.31h.01M44.8 439.47h.01M46 437.93h.01M46.31 439.85h.01M45.79 439.01h.01M46.97 440.11h.01M47.13 442.3h.01M47.59 434.38h.01M45.82 439.51h.01M48.46 435.96h.01M45.46 441.25h.01M46.22 445.02h.01M46.01 445.02h.01M43.95 437.05h.01M49.36 441.98h.01M47.88 441.59h.01M47.88 437.35h.01M48.81 439.14h.01M48.89 441.07h.01M54 427.36h.01M49.84 430.84h.01M51.49 428.35h.01M49.24 438.39h.01M48.63 436.44h.01M52.85 424.06h.01M51.88 428.31h.01M50.43 436.05h.01M52.9 425.07h.01M46.66 435.87h.01M51.01 430.45h.01M53.25 422.13h.01M46.25 436.63h.01M47.19 438.98h.01M49.27 434.78h.01M46.75 438.7h.01M49.79 430.61h.01M51.18 426.38h.01M50.25 428.52h.01M54.1 424.63h.01M50.75 429.41h.01M52.72 420.07h.01M46.93 431.03h.01M51.67 423.96h.01M50.87 430.63h.01M49.61 425.56h.01M52.31 425.02h.01M47.65 434.87h.01M52.63 424.59h.01M53.36 422.38h.01M50.55 431.16h.01M51.3 422.62h.01M50.78 433.48h.01M52.85 426.95h.01M53.24 424.42h.01M50.77 427.32h.01M48.97 432.25h.01M51.98 431.92h.01M52.27 427.06h.01M53.92 422.52h.01M49.68 430.15h.01M49.33 436.97h.01M48.54 432.01h.01M50.76 430.14h.01M53.1 422.14h.01M51.42 427.25h.01M50.26 429.66h.01M50.96 438.99h.01M51.2 424.09h.01M49.22 432.99h.01M53.4 420.49h.01M53.27 422.64h.01M48.83 435.64h.01M45.53 436.92h.01M52.59 430.03h.01M46.85 436.85h.01M48.99 436.35h.01M49.01 426.83h.01M50.5 428.06h.01M51.86 435.14h.01M49.61 435.07h.01M51.59 431.22h.01M54.44 425.04h.01M49.7 423.94h.01M50.13 422.43h.01M56.96 420.23h.01M54.14 420.67h.01M51.7 421.62h.01M53.42 421.63h.01M50.03 421.2h.01M55.33 421.17h.01M57.49 422.68h.01M56.94 420.6h.01M54.33 422.18h.01M55.77 420.26h.01M52.26 420.38h.01M54.81 421.47h.01M49.08 420.38h.01M50.54 420.86h.01M52.86 421.68h.01M56.11 421.31h.01M52.5 422.68h.01M50.1 421.29h.01M56.58 420.38h.01M52.96 421.72h.01M49 423.13h.01M58.11 420.64h.01M51.62 421.06h.01M54.74 423.1h.01M49.2 420.71h.01M51.57 421.33h.01M53.87 421.87h.01M57.21 421.87h.01M50.63 422.56h.01M55.31 421.28h.01M48.86 420.76h.01" stroke="#222" stroke-opacity="0.23" stroke-width="1.0" stroke-linecap="round" fill="none"/>
<path d="M44.78 425.34h.01M51.55 445.41h.01M55.53 440.42h.01M43.35 419.73h.01M53.95 433.42h.01M53.73 419.31h.01M55.51 430.51h.01M56.14 451.68h.01M49.16 417.72h.01M57.5 436.16h.01M56.74 427.75h.01M43.02 450.36h.01M46.64 423.64h.01M46.72 440.9h.01M39.39 437.89h.01M48.22 437.73h.01M41.72 445.68h.01M55.63 451.72h.01M45.72 445.55h.01M46.93 447.15h.01M40.52 452.01h.01M58.38 436.89h.01M49.57 438.32h.01M50.05 417.93h.01M58.65 426.05h.01M42.95 421.21h.01M44.31 449.79h.01M39.9 420.96h.01M53.28 424.9h.01M39.65 441.08h.01M50.83 438.02h.01M53.35 421.21h.01M56.69 445.78h.01M40.2 422.02h.01M49.17 437.13h.01M44.89 421.98h.01M47.41 422.58h.01M51.14 451.54h.01M42.24 440.01h.01M54.23 423.67h.01" stroke="#444" stroke-opacity="0.17" stroke-width="1.0" stroke-linecap="round" fill="none"/>
</g>
<rect x="15.3" y="409.1" width="46.7" height="49.5" fill="none" stroke="#a2a2a2" stroke-width="0.9"/>
<line x1="13.6" y1="415.54" x2="15.3" y2="415.54" stroke="#666" stroke-width="0.7"/>
<line x1="21.37" y1="458.6" x2="21.37" y2="460.3" stroke="#666" stroke-width="0.7"/>
<line x1="13.6" y1="427.42" x2="15.3" y2="427.42" stroke="#666" stroke-width="0.7"/>
<line x1="32.58" y1="458.6" x2="32.58" y2="460.3" stroke="#666" stroke-width="0.7"/>
<line x1="13.6" y1="438.8" x2="15.3" y2="438.8" stroke="#666" stroke-width="0.7"/>
<line x1="43.32" y1="458.6" x2="43.32" y2="460.3" stroke="#666" stroke-width="0.7"/>
<line x1="13.6" y1="450.68" x2="15.3" y2="450.68" stroke="#666" stroke-width="0.7"/>
<line x1="54.53" y1="458.6" x2="54.53" y2="460.3" stroke="#666" stroke-width="0.7"/>
<rect x="15.5" y="437.8" width="23.1" height="20.5" fill="none" stroke="#000" stroke-width="1.3"/>
<text x="17.1" y="435.4" font-size="12" text-anchor="start" fill="#000">81%</text>
<clipPath id="cp01"><rect x="15.8" y="469" width="45.7" height="48.5"/></clipPath>
<g clip-path="url(#cp01)" filter="url(#bl)">
<ellipse cx="25.95" cy="507.9" rx="15.11" ry="14.42" fill="url(#rg)" opacity="0.5"/>
<rect x="15.3" y="497.4" width="22.9" height="20.6" fill="#555" opacity="0.16"/>
<ellipse cx="47.2" cy="503.5" rx="5.6" ry="8.4" fill="url(#rg)" opacity="0.66" transform="rotate(12 47.2 503.5)"/>
<line x1="47.7" y1="500.5" x2="53.3" y2="482.7" stroke="#666" stroke-width="4.4" stroke-linecap="round" opacity="0.36" filter="url(#bl2)"/>
<line x1="48.3" y1="481.5" x2="58.8" y2="480.9" stroke="#666" stroke-width="2.4" stroke-linecap="round" opacity="0.5" filter="url(#bl2)"/>
<path d="M33.14 495.4h.01M20.64 511.92h.01M30.28 501.73h.01M26.97 502.55h.01M26.31 513.29h.01M30.86 495.47h.01M31.07 497.27h.01M33.52 510.28h.01M40.91 504.25h.01M25.98 514.16h.01M21.7 503.69h.01M23.48 507.46h.01M18.76 510.79h.01M29.56 508.33h.01M37.24 505.94h.01M34.63 504.63h.01M30.97 496.34h.01M27.26 506.85h.01M22.66 504.25h.01M23.64 503.6h.01M22.3 504.77h.01M18.93 507.09h.01M31.16 506.41h.01M22.68 516.01h.01M32.44 513.41h.01M33.62 505.95h.01M25.09 514.55h.01M22.27 507.19h.01M28.46 510.13h.01M24.11 513.78h.01M24.77 512.23h.01M33.06 511.84h.01M30.82 500.97h.01M17.24 504.2h.01M29.11 516.87h.01M17.83 509.73h.01M20.28 503.53h.01M24.11 512.03h.01M27.36 514.95h.01M19.4 513.21h.01M32.13 508.32h.01M29.12 504.53h.01M18.71 505.48h.01M27.29 509.76h.01M30.89 503.25h.01M32.04 510.15h.01M29.62 510.6h.01M36.48 505.42h.01M29.35 512.37h.01M19.97 515.07h.01M16.32 500.13h.01M29.42 501.39h.01M25.18 498.07h.01M26.41 501.13h.01M28.22 498.74h.01M28.93 506.31h.01M26.38 507.5h.01M26.82 500.01h.01M19.74 505.18h.01M28.78 496.04h.01M20.88 504.26h.01M18.93 509.85h.01M25.02 503h.01M19.41 512.72h.01M21.57 511.4h.01M28.93 496.59h.01M18.75 507.92h.01M28.22 512.56h.01M31.28 514.08h.01M23.47 506.64h.01M31.1 505.36h.01M32.97 498.41h.01M30.29 506.87h.01M28.02 508.03h.01M18.8 505.12h.01M35.99 502.96h.01M17.98 507.11h.01M23.34 502.45h.01M20.36 514.16h.01M22.34 501.37h.01M31.18 511.27h.01M19.02 512.37h.01M33.43 506.37h.01M17.3 510.97h.01M32.04 507.77h.01M28.73 512.49h.01M38.26 506.39h.01M22.75 507.67h.01M33.96 502.27h.01M34.62 491.48h.01M31.25 503.86h.01M29 512.01h.01M18.1 507.38h.01M27.55 511.41h.01M19.77 501.98h.01M24.67 506.57h.01M22.4 516.48h.01M31.61 508.03h.01M30.78 501.26h.01M23.79 504.46h.01M17.52 508h.01M24.99 516.48h.01M19.85 505.13h.01M28.75 510.31h.01M26.14 505.07h.01M29.23 510.05h.01M16.82 500.84h.01M26.92 508.26h.01M26.71 502.67h.01M24.61 502.45h.01M28.49 512.01h.01M37.61 515.46h.01M20.6 505.17h.01M19.72 509.73h.01M39.1 512.13h.01M17.37 510.98h.01M25.96 509.69h.01M37.78 502.96h.01M28.22 503.25h.01M26.24 513.83h.01M25.03 503.76h.01M26.12 511.58h.01M23.26 510.88h.01M31.37 507.02h.01M22.91 506.79h.01M19.54 506.66h.01M23.94 509.16h.01M34.82 515.71h.01M22.99 511.5h.01M27.91 512.45h.01M26.09 509.49h.01M22.84 503.21h.01M31.74 515.66h.01M30.35 510.5h.01M27.72 505.21h.01M27.27 504.59h.01M19.54 515.53h.01M21.18 507.77h.01M22.59 508.83h.01M24.56 503.43h.01M33.09 503.21h.01M22.58 511.21h.01M22.38 505.3h.01M28.31 505.7h.01M17.67 507.29h.01M18.66 513.69h.01M20.73 505.77h.01M23.78 509.52h.01M21.72 515.85h.01M32.56 512.75h.01M20.91 513.28h.01M25.24 510.01h.01M24.16 511.87h.01M33.35 514.66h.01M24.59 513.85h.01M35.59 502.31h.01M35.73 499.92h.01M29.55 511.45h.01M35.8 509.57h.01M22.76 503.14h.01M17.64 512.48h.01M24.38 503.61h.01M29.48 503.33h.01M23.05 505.16h.01M36.94 516.64h.01M24.9 498.51h.01M27.79 508.33h.01M28.27 511.28h.01M23.82 513.43h.01M31.51 509.16h.01M23.25 505.03h.01M30.55 501.33h.01M24.89 503.42h.01M16.7 511.51h.01M25.78 508.11h.01M31.76 498.98h.01M25.5 509.62h.01M31.48 501.42h.01M30.7 509.21h.01M34.95 514.7h.01M25.94 505.36h.01M23.69 502.28h.01M25.76 496.68h.01M25.39 510.44h.01M32.53 505.83h.01M35.17 504.01h.01M25.06 496.68h.01M20.89 503.17h.01M35.64 510.99h.01M18.79 511.01h.01M29.07 506.54h.01M26.1 506.12h.01M22.43 497.56h.01M25.36 515.39h.01M35.24 506.27h.01M21.11 506.67h.01M31.77 509.95h.01M22.16 510.01h.01M24.61 510.91h.01M23.31 499.32h.01M26.33 512.33h.01M18.78 507.27h.01M31.63 505.72h.01M31.32 513.88h.01M30.73 515.64h.01M19.94 504.04h.01M27.22 496.69h.01M30.08 511.15h.01M23.06 511.02h.01M30.96 509.7h.01M29.32 516.68h.01M22.87 508.84h.01M22.58 513.9h.01M23.32 510.65h.01M26.83 508.28h.01M37 507.41h.01M35.07 512.68h.01M34.44 506.95h.01M31.92 512.27h.01M22 509.46h.01M25.12 507.69h.01M34.31 503.74h.01M23.05 504.18h.01M26.04 511.16h.01M37.24 509.68h.01M28.92 503.66h.01M29.67 515.73h.01M34.54 496.64h.01M31.65 517.02h.01M31.24 499.29h.01M23.98 511.28h.01M28.61 503.23h.01M20.25 513.46h.01M17.41 516.15h.01M26.08 509.63h.01M17.42 504.47h.01M30.36 499.44h.01M39.19 499.83h.01M18.14 508.15h.01M29.03 512.11h.01M23.58 506.71h.01M24.44 504.6h.01M27.55 508.81h.01M21.94 509.34h.01M25.87 507.46h.01M33 498.01h.01M27.56 501.78h.01M23.92 516.5h.01M19.03 507.33h.01M22.18 513.35h.01M19.7 498.24h.01M29.23 505.87h.01M23.91 514.1h.01M20.29 505.76h.01M26.89 510.27h.01M22.65 513.84h.01M40.24 505.56h.01M37.87 495.8h.01M34.92 505.93h.01M26.83 505.95h.01M21.89 500.57h.01M23.43 515.34h.01M33.22 505.9h.01M22.58 503.87h.01M30.18 508.57h.01M22.82 502.04h.01M34.35 512.38h.01M19.88 513.57h.01M18.89 511.58h.01M19.82 505.52h.01M29.11 510.38h.01M32.4 503.1h.01M36.02 515.61h.01M25.88 510.57h.01M20.99 507.03h.01M17.53 508.41h.01M27.22 515.61h.01M31.99 512.57h.01M23.64 506.61h.01M23.78 509.17h.01M26.09 504.96h.01M36.55 507.34h.01M35.97 514.63h.01M22.78 510.2h.01M34.23 505.99h.01M26.51 504.7h.01M26.32 505.87h.01M26.48 513.65h.01M34.83 508.66h.01M27.24 512.81h.01M24.1 501.83h.01M33.03 502.54h.01M31.88 502.37h.01M37.62 501.91h.01M31.36 516.5h.01M19.82 516.42h.01M20.7 497.78h.01M30.55 511.92h.01M24.66 493.42h.01M25.6 506.15h.01M23.53 506.24h.01M37.43 516.77h.01M23.64 503.82h.01M28.48 513.99h.01M30.56 501.2h.01M26.98 508.7h.01M35.12 514.76h.01M29.29 514.87h.01M23.43 516.72h.01M23.23 510.17h.01M31.8 502.66h.01M21.47 497.82h.01M27 507.58h.01M23.87 510.76h.01M26.51 506.37h.01M23.11 502.51h.01M22.1 508.43h.01M29.69 502.96h.01M32.32 502.02h.01M31.22 510.35h.01M24.27 506.95h.01M28.99 512.85h.01M17.42 509.48h.01M21.22 511.51h.01M34.68 508.2h.01M25.27 508.95h.01M29.53 508.84h.01M23.43 503.71h.01M24.81 514.86h.01M25.3 515.63h.01M27.7 507.82h.01M33.92 500.49h.01M19.63 501.61h.01M22.43 511.59h.01M29.74 496.26h.01M35.26 504.5h.01M25.43 500.79h.01M21.88 503.73h.01M19.51 505.99h.01M31.54 509.91h.01M19.64 508.56h.01M26.15 512.27h.01M23.86 510.52h.01M39.38 508.45h.01M19.05 509.78h.01M20.83 505.78h.01M27.15 509.83h.01M24.14 512.77h.01M24.72 500.42h.01M31.55 505.81h.01M33.68 504.15h.01M29.6 509.71h.01M18.81 515.97h.01M32.91 510.74h.01M30.25 505.06h.01M25.88 509.19h.01M28.63 511.96h.01M24.63 503.88h.01M22.36 510.26h.01M23.32 504.73h.01M24.23 492.63h.01M23.78 506.46h.01M30.9 496.55h.01M24 510.62h.01M29.07 514.76h.01M32.68 501.88h.01M30.01 505.98h.01M20.83 516.7h.01M21.93 503h.01M23.35 503.01h.01M32.38 510.08h.01M34.89 510.26h.01M22.02 513.92h.01M21.77 505.24h.01M24.88 508.13h.01M33.58 504.42h.01M28.2 507.74h.01M17.91 501.61h.01M24.55 510.23h.01M28 510.66h.01M26.26 505.32h.01M28.68 502.13h.01M17.36 505.99h.01M16.8 504.94h.01M21.17 504.71h.01M25.66 503.29h.01M23.24 498.05h.01M26.88 502.83h.01M28.54 491.62h.01M20.82 509.3h.01M26.55 508.49h.01M16.37 509.22h.01M26.9 502.3h.01M30.72 507.62h.01M26.07 505.31h.01M29.46 508.46h.01M33.24 510.5h.01M21.99 506.61h.01M31.84 505.79h.01M28.4 510.91h.01M24.8 494.46h.01M26.8 509.13h.01M26.82 503.52h.01M33.71 507.12h.01M21.95 503.76h.01M28.25 501.6h.01M34.36 513.99h.01M34.72 511.34h.01M33.91 510.73h.01M34.73 505.06h.01M26.77 512.39h.01M25.4 514.25h.01M26.47 511.9h.01M26.5 499.34h.01M27.75 515.49h.01M29.52 504.45h.01M26.07 496.79h.01M24.74 513.15h.01M31.26 515.59h.01M19.98 504.12h.01M18.57 515.89h.01M28.7 505.03h.01M40.09 493.28h.01M25.51 509.17h.01M40.55 508.68h.01M32.28 515.82h.01M29.25 509.99h.01M24.77 505.53h.01M23.07 495.83h.01M27.65 507.7h.01M25.26 506.36h.01M21.13 507.77h.01M23.12 509.09h.01M46.12 510.18h.01M31.53 512.64h.01M30.57 512.66h.01M30.31 516.1h.01M32.45 515.74h.01M22.71 507.89h.01M21.24 513.47h.01M31.32 505.19h.01M33.94 501.41h.01M25.35 511.59h.01M25.72 510.15h.01M33.58 509.81h.01M18.85 512.06h.01M25.32 508.56h.01M22.29 499.86h.01M17.89 505.84h.01M19.03 492.1h.01M33.38 501.14h.01M21.26 510.99h.01M20.98 511.74h.01M22.83 509.68h.01M26.63 507.89h.01M25.68 516.1h.01M22.42 511h.01M27 510.71h.01M32.37 499.18h.01M27.73 506.87h.01M23.93 502.93h.01M20.86 501.91h.01M36.95 507.96h.01M30.75 502.22h.01M26.86 516.28h.01M25.68 502.08h.01M24.39 502.09h.01M16.93 506.55h.01M23.36 503.17h.01M20.22 502.49h.01M27.48 516.01h.01M18.47 506.96h.01M26.61 511.15h.01M33.26 504.67h.01M17.91 506.8h.01M27.85 503.83h.01M16.74 510.01h.01M32.53 496.71h.01M27.28 506.59h.01M16.74 515.56h.01M27.36 505.11h.01M28.82 511.64h.01M30.93 511.28h.01M28.6 501.05h.01M23.22 508.65h.01M23.49 501.76h.01M26.16 504.5h.01M23.25 502.73h.01M21.1 507.33h.01M21.78 511.85h.01M25.03 508.67h.01M28.57 515.3h.01M29.84 509.23h.01M24.89 503.21h.01M23.73 511.87h.01M27.42 505.64h.01M17.33 498.98h.01M28.03 513.88h.01M28.37 499.9h.01M24.57 509.19h.01M20.01 509.92h.01M24.65 503.04h.01M17.91 512.62h.01M28.26 502.73h.01M19.39 513.08h.01M29.81 506.13h.01M36.26 506.21h.01M19.12 514.26h.01M24.73 509.91h.01M26.2 502.07h.01M18.27 506.77h.01M35.04 502.06h.01M34.74 509.18h.01M18.76 509.45h.01M29.62 502.67h.01M18.77 510.46h.01M20.72 499.29h.01M24.39 508.9h.01M22.35 501.04h.01M27.32 497.73h.01M29.41 510.75h.01M36.79 513.03h.01M28.24 509.43h.01M26.13 500.2h.01M35.4 510.96h.01M24.1 501.24h.01M35.53 510.99h.01M18.3 511.8h.01M38.19 507.77h.01M28.53 505.49h.01M21.89 514.13h.01M45.82 508.58h.01M25.15 512.5h.01M23.98 512.13h.01M31.3 502h.01M19.03 507.47h.01M31.32 509.51h.01M33.95 499.92h.01M29.13 504.29h.01M26.6 509.77h.01M19.7 506.57h.01M18.45 509.44h.01M20.47 505.04h.01M27.36 504.11h.01M33.35 504.21h.01M31.42 509.54h.01M19.29 506.64h.01M20.56 505.8h.01M23.25 516.99h.01M28.83 500.33h.01M32.57 510.16h.01M24.6 506.45h.01M27.62 506.15h.01M22.51 505.76h.01M33.48 504.31h.01M28.39 501.24h.01M21.37 499.95h.01M24.68 511.85h.01M27.91 505.05h.01M29.88 505.89h.01M28.34 509.48h.01M29.43 493.57h.01M17.58 512.37h.01M24.44 504.71h.01M35.55 511.11h.01M38.15 510.85h.01M24.64 512.09h.01M20.89 505.32h.01M22.38 506.62h.01M30.95 505.12h.01M28.02 505.02h.01M31.62 491.98h.01M24.62 508.87h.01M44.75 507.77h.01M47.69 507.55h.01M49.39 504.8h.01M46.86 500.04h.01M46.7 502.17h.01M47.77 501.75h.01M54.15 495.62h.01M49.87 500.95h.01M46.65 506.76h.01M47.21 499.5h.01M48.14 502.5h.01M42.52 505.91h.01M44.8 501.94h.01M48.3 504.08h.01M46.54 510.91h.01M48.15 501.12h.01M47.74 502.9h.01M42.19 500.18h.01M44.04 511.5h.01M46.78 502.75h.01M45.92 507.22h.01M47.26 509.1h.01M48.99 508.25h.01M46.93 504.84h.01M46.22 503.31h.01M43.27 503.06h.01M45.04 502.16h.01M49.96 503.33h.01M49.98 505.28h.01M49.29 506.03h.01M45.83 506.66h.01M46.47 502.03h.01M49.91 509.61h.01M44.98 510.05h.01M49.08 500h.01M47.82 504.49h.01M48.05 502.01h.01M44.29 504.7h.01M49.15 505.35h.01M48.7 506.57h.01M44.95 504.2h.01M47.97 506.5h.01M47.55 505.07h.01M47.5 510.29h.01M42.25 505.27h.01M52.81 502.17h.01M43.05 505.5h.01M43.95 502.48h.01M47.71 508.95h.01M48.25 505.31h.01M49.51 503.29h.01M45.26 503.91h.01M47.96 502.3h.01M45.69 502.89h.01M43.8 501.4h.01M46.99 502.39h.01M47.28 508.09h.01M47.88 503.14h.01M44.54 500.95h.01M48.05 500.31h.01M48.17 499.6h.01M47.5 503.15h.01M49.46 501.36h.01M46.36 504.62h.01M47.32 509.01h.01M46.62 501.95h.01M46.48 505.33h.01M47.73 505.58h.01M44.07 512.82h.01M51.36 501.84h.01M44.46 505.04h.01M48.14 495.81h.01M47.23 498.63h.01M48.24 507.65h.01M49.54 497.67h.01M50.33 505.31h.01M46.38 505.46h.01M50.63 501.12h.01M47.16 501.67h.01M49.82 495.44h.01M50.41 499.11h.01M49.3 497.37h.01M45.08 502.33h.01M49.07 497.47h.01M48.56 500.9h.01M50.01 501.42h.01M48.3 502.52h.01M51.26 500.79h.01M47.14 510.04h.01M47.38 505.69h.01M45.53 504.78h.01M42.07 505.77h.01M45.74 499.11h.01M44 508.45h.01M48.17 498.15h.01M51.31 499.67h.01M46.37 504.62h.01M44.63 499.15h.01M45.51 508.02h.01M49.35 497.5h.01M49.92 502.59h.01M48.33 503.24h.01M48.14 499.86h.01M45.14 501.96h.01M46.37 505.85h.01M44.45 509.77h.01M45.77 502.1h.01M48.79 504.33h.01M46.43 500.27h.01M44.94 499.1h.01M49.79 506.09h.01M51.43 503.55h.01M47.95 505.71h.01M49.35 501.84h.01M48 510.28h.01M43.37 500.32h.01M45.02 506.79h.01M49.89 501.38h.01M48.72 502.77h.01M47.88 501.47h.01M47.14 503.51h.01M49.76 509.88h.01M43.09 506.79h.01M47.19 506.69h.01M49.6 505.17h.01M49.03 499.69h.01M43.34 510.44h.01M49.94 499.34h.01M50.12 504.6h.01M41.64 508.54h.01M44.96 508.17h.01M45.66 501.63h.01M43.7 504.1h.01M49.51 500.43h.01M42.99 512.14h.01M51.38 504.2h.01M45.98 499.97h.01M43.49 506.73h.01M52.34 481.13h.01M47.51 500.61h.01M53.72 482.03h.01M50.56 489.23h.01M49.86 490.86h.01M49.38 493.91h.01M46.9 492.36h.01M52.14 486.06h.01M52.26 492.77h.01M51.41 488.44h.01M52.21 487.19h.01M50.86 495.44h.01M53.97 486.21h.01M48.46 497.78h.01M46.3 497.68h.01M53.61 483.67h.01M53.44 484.08h.01M51.11 493.03h.01M46.84 495.78h.01M50.18 498.81h.01M51.4 490.11h.01M51.7 486.7h.01M49.95 486.64h.01M51.48 486.62h.01M51.42 492.72h.01M48.48 494.18h.01M54.89 486.76h.01M48.6 492.84h.01M49.21 496.11h.01M50.83 487.8h.01M50.28 492.02h.01M46.88 491.46h.01M50.28 486.03h.01M52.34 492.13h.01M47.38 495.87h.01M50.92 496.88h.01M48.34 490.19h.01M53.71 484.62h.01M46.47 500.23h.01M51.44 482.67h.01M48.83 492.34h.01M53.15 481.68h.01M47.29 495.32h.01M53.23 489.07h.01M52.85 484.46h.01M54.3 485.8h.01M50.67 486.44h.01M45.72 497.45h.01M49.49 496.46h.01M46.3 494.89h.01M50.63 487.32h.01M48.85 497.95h.01M47.12 499.81h.01M50.84 495.95h.01M50.97 489.65h.01M53.2 485.67h.01M50.46 489.87h.01M51.45 492.57h.01M50.4 494.13h.01M53.41 490.93h.01M46.2 499.92h.01M46.31 497.46h.01M49.44 490.62h.01M51.47 492.58h.01M54.62 477.97h.01M50.15 494.25h.01M51.54 492.81h.01M51.07 485.98h.01M50.21 495.57h.01M50.17 497.62h.01M49.62 491.19h.01M52.05 488.45h.01M49.55 485.91h.01M55.26 485.31h.01M51.64 486.36h.01M52 496.89h.01M50.9 486.02h.01M50.85 495.74h.01M53.09 482.31h.01M46.6 499.88h.01M51.5 485.58h.01M49.86 500.75h.01M53.82 491.43h.01M49.24 486h.01M50 499.38h.01M50.85 492.12h.01M49.91 498.75h.01M54.68 482.52h.01M49.64 488.66h.01M52.58 484.87h.01M47.57 495.69h.01M49.1 497.89h.01M54.78 481.67h.01M54.55 481.48h.01M55.55 480.52h.01M55.18 481.69h.01M57.53 481.21h.01M54.88 481.53h.01M52.11 480.64h.01M55.45 481.19h.01M56.76 481.36h.01M51.91 480.14h.01M50.09 480.36h.01M54.35 482.58h.01M55.14 481.37h.01M58.77 481.7h.01M57.08 480.01h.01M56.43 481.14h.01M58.62 480.7h.01M48.92 483.32h.01M49.74 479.74h.01M55.55 480.81h.01M51.25 481.56h.01M50.63 481.23h.01M50.43 480.94h.01M54.78 482.06h.01M57.69 480.94h.01M55.85 480.48h.01M52.79 480.46h.01M56.93 481.15h.01M53.82 481.95h.01M48.37 481.32h.01M57.35 480.18h.01M49.26 480.99h.01M54.49 482.64h.01M53.82 481.46h.01M56.88 479.8h.01M48.91 481.94h.01M56.96 481.92h.01M58.59 480.82h.01M50.02 482.26h.01M53.71 481.03h.01M51.69 480.51h.01M57.77 479.53h.01M58.55 479.87h.01M47.97 480.07h.01M53.19 480.89h.01M57.03 481.38h.01" stroke="#222" stroke-opacity="0.23" stroke-width="1.0" stroke-linecap="round" fill="none"/>
<path d="M44.35 488.52h.01M46.27 489.48h.01M41.19 494.22h.01M58.92 502.66h.01M57.94 506.99h.01M56.04 516.27h.01M54.35 487.47h.01M44.29 493h.01M39.72 485.73h.01M57.03 513.34h.01M45.87 507.32h.01M54.8 512.09h.01M55.19 497.78h.01M41.4 509.52h.01M45.57 501.58h.01M46.64 497.99h.01M58.61 482.94h.01M49.92 502.5h.01M50.07 514.02h.01M47.45 513.05h.01M53.1 515.2h.01M41.09 484.99h.01M45.05 512.76h.01M39.57 486.91h.01M53.62 516.09h.01M42.83 494.02h.01M53.04 504.13h.01M54.22 506.63h.01M44.27 486.79h.01M39.85 504.15h.01M43.48 486.88h.01M58.59 502.23h.01M51.12 502.74h.01M51.26 504.3h.01M45.38 479.06h.01M40.64 477.08h.01M46.53 482.19h.01M41.56 496.25h.01M58.69 504h.01M44.77 507.28h.01M42.86 480.5h.01M45.36 492.86h.01M53.09 494.3h.01M53.87 480.29h.01M57.95 490.19h.01M55.95 477.73h.01M55.88 485.55h.01M56.4 508.61h.01M52.71 487.61h.01M39.5 484.1h.01M57.4 482.82h.01M52.48 499.98h.01M52.52 483.72h.01M42.17 480.38h.01M58.95 491.82h.01M52.34 499.28h.01M43.77 479.09h.01" stroke="#444" stroke-opacity="0.17" stroke-width="1.0" stroke-linecap="round" fill="none"/>
</g>
<rect x="15.3" y="468.5" width="46.7" height="49.5" fill="none" stroke="#a2a2a2" stroke-width="0.9"/>
<line x1="13.6" y1="474.94" x2="15.3" y2="474.94" stroke="#666" stroke-width="0.7"/>
<line x1="21.37" y1="518" x2="21.37" y2="519.7" stroke="#666" stroke-width="0.7"/>
<line x1="13.6" y1="486.81" x2="15.3" y2="486.81" stroke="#666" stroke-width="0.7"/>
<line x1="32.58" y1="518" x2="32.58" y2="519.7" stroke="#666" stroke-width="0.7"/>
<line x1="13.6" y1="498.2" x2="15.3" y2="498.2" stroke="#666" stroke-width="0.7"/>
<line x1="43.32" y1="518" x2="43.32" y2="519.7" stroke="#666" stroke-width="0.7"/>
<line x1="13.6" y1="510.08" x2="15.3" y2="510.08" stroke="#666" stroke-width="0.7"/>
<line x1="54.53" y1="518" x2="54.53" y2="519.7" stroke="#666" stroke-width="0.7"/>
<rect x="15.5" y="497.4" width="22.7" height="20.3" fill="none" stroke="#000" stroke-width="1.3"/>
<text x="17.1" y="495" font-size="12" text-anchor="start" fill="#000">68%</text>
<clipPath id="cp02"><rect x="15.8" y="529.3" width="45.7" height="48.5"/></clipPath>
<g clip-path="url(#cp02)" filter="url(#bl)">
<ellipse cx="29.25" cy="568.45" rx="16.04" ry="14.07" fill="url(#rg)" opacity="0.45"/>
<rect x="15.3" y="558.2" width="24.3" height="20.1" fill="#555" opacity="0.16"/>
<ellipse cx="45.9" cy="565.3" rx="8.5" ry="10.5" fill="url(#rg)" opacity="0.72" transform="rotate(12 45.9 565.3)"/>
<line x1="46.4" y1="562.3" x2="51.1" y2="543.8" stroke="#666" stroke-width="9.5" stroke-linecap="round" opacity="0.62" filter="url(#bl2)"/>
<line x1="45.8" y1="541.3" x2="59.8" y2="540.7" stroke="#666" stroke-width="2.4" stroke-linecap="round" opacity="0.5" filter="url(#bl2)"/>
<circle cx="57.8" cy="539.3" r="3.2" fill="url(#rg)" opacity="0.45"/>
<path d="M42.98 569.51h.01M21.86 575.51h.01M37.26 576.29h.01M29.18 574.02h.01M25.86 568.04h.01M27.73 574.02h.01M29.72 564.32h.01M30.96 572.3h.01M24.23 572.15h.01M24.23 563.34h.01M30.8 567.08h.01M22.33 558.95h.01M29.41 569.87h.01M26.01 569.54h.01M18.49 570.74h.01M32.18 570.07h.01M24.93 568.91h.01M30.17 574.68h.01M31.2 569.93h.01M24.15 573.47h.01M37.51 565.57h.01M33.75 570.25h.01M28.92 560.96h.01M41.63 557.58h.01M31.38 566.26h.01M37.31 565.99h.01M29.53 572.01h.01M32.46 565.42h.01M34.05 570.73h.01M36.21 565.48h.01M28.93 566.17h.01M23.35 569.93h.01M32.13 576.71h.01M26.96 570.7h.01M37.29 567.79h.01M29.69 569.23h.01M24.4 562.7h.01M37.1 569.46h.01M28.73 561.23h.01M30.08 575.27h.01M21.17 563.27h.01M37.04 576.76h.01M40.15 565.24h.01M33.46 564.09h.01M32.91 566.33h.01M30.63 576.24h.01M31.62 567.05h.01M29.64 569.99h.01M25.65 569.65h.01M33.46 577.49h.01M20.58 573.53h.01M46.35 569.57h.01M30.1 575.05h.01M25.69 565.64h.01M31.63 565.07h.01M37.03 568.43h.01M26.11 573.81h.01M23.46 575.67h.01M36 569.26h.01M38.89 568.46h.01M28.87 574.86h.01M18.96 564.97h.01M32.64 571.74h.01M31.52 571h.01M20.04 567.38h.01M31.08 567.14h.01M29.67 571.96h.01M22.61 565.17h.01M16.84 575.06h.01M21.89 558.62h.01M34.62 567.22h.01M35.99 566.32h.01M44.07 572.57h.01M30.3 569.12h.01M27.82 573.12h.01M43.19 566.02h.01M21.67 571.89h.01M36.69 559.85h.01M24.43 562.71h.01M33.17 571.36h.01M24.14 561.96h.01M34.01 556.61h.01M33.73 567.56h.01M42.61 574.17h.01M25.22 566.87h.01M27.32 564.26h.01M29.82 574h.01M18.77 567.14h.01M39.63 572.72h.01M23.59 563.82h.01M23.31 559.23h.01M37.24 568.85h.01M24.41 560.21h.01M26.58 565.51h.01M41.2 565.81h.01M30.05 574.6h.01M33.88 567.41h.01M33.4 565.96h.01M28.63 562.97h.01M23.02 559.94h.01M32.73 571.42h.01M30.46 572.92h.01M32.97 569.15h.01M23.13 571.84h.01M37.47 572.07h.01M37.89 565.74h.01M22.47 575.62h.01M25.21 569.84h.01M27.93 568.58h.01M27.38 565.36h.01M30.66 557.44h.01M22.98 562.01h.01M24.12 553.88h.01M27.55 572.7h.01M33.4 561.33h.01M37.67 558.82h.01M25.28 566.4h.01M37.93 569.13h.01M28.39 563.86h.01M29.87 568.69h.01M34.29 576.42h.01M34.34 568.55h.01M30.64 568.36h.01M41.65 577.4h.01M33.18 567.83h.01M24.87 574.54h.01M26.12 573.93h.01M23.85 569.05h.01M32.03 569.28h.01M30.86 570.63h.01M21.51 562.12h.01M28.39 563.17h.01M24.7 568.64h.01M37.4 565.22h.01M33.11 569.52h.01M26.8 563.07h.01M28.2 564.33h.01M32.95 558.42h.01M37.02 572.77h.01M33.24 576.98h.01M33.4 558.72h.01M29.62 571.01h.01M24.55 562.01h.01M32.23 571.36h.01M26.32 567.07h.01M25.76 565.22h.01M28.85 574.56h.01M18.18 566.51h.01M40.35 570.26h.01M30.31 573.2h.01M22.35 561.57h.01M17.84 560.16h.01M30.96 573.28h.01M26.39 564.59h.01M32.03 571.94h.01M31.01 557.63h.01M25.51 554.06h.01M30.92 563.63h.01M24.75 576.99h.01M38.33 571.19h.01M31.14 569.43h.01M25.23 568.16h.01M42.37 563.48h.01M24.71 569.37h.01M35.37 573.18h.01M22.62 567.71h.01M27.43 561.45h.01M29.78 565.72h.01M35.56 570.91h.01M23.9 568.91h.01M26.8 564.85h.01M25.91 574.49h.01M26.42 558.73h.01M23.94 573.03h.01M44 562.48h.01M26.81 566.59h.01M19.61 570.73h.01M28.9 570.03h.01M44.59 566.94h.01M34.69 573.18h.01M24.89 565.09h.01M39.92 572.51h.01M30.23 562.25h.01M35.3 571.44h.01M44.31 576.81h.01M34.76 569.97h.01M29.68 565.33h.01M31.37 569.83h.01M33.72 574.61h.01M31.39 565.37h.01M34.78 577.25h.01M23.53 570.83h.01M33.01 571.49h.01M32.71 567.94h.01M41.12 560.51h.01M24.63 565.52h.01M18.33 570.45h.01M28.88 565.39h.01M39.35 575.1h.01M26.43 572.18h.01M28.99 575.01h.01M33.24 568.25h.01M33.04 564.39h.01M34.68 576.97h.01M26.78 571.6h.01M17.85 573.76h.01M35.26 562.67h.01M41.19 569.1h.01M17.41 560.7h.01M35.24 566.91h.01M36.81 559.67h.01M28.58 573.99h.01M24.61 572.3h.01M26.79 570.4h.01M20.77 572.86h.01M38.23 562.09h.01M36.44 551.66h.01M27.63 558.77h.01M31.33 564.34h.01M25.41 563.71h.01M31.27 565.81h.01M23.06 567.17h.01M32.03 563.6h.01M36.86 559.05h.01M32.04 566.25h.01M40.02 564.81h.01M24.71 560.85h.01M42.85 571.95h.01M21.82 566.55h.01M22.7 577.08h.01M32.11 556.92h.01M30.69 573.63h.01M29.26 571.13h.01M28.5 569.63h.01M30.71 564.44h.01M31.63 569.39h.01M28.99 564.58h.01M22.31 569.85h.01M34.91 554.76h.01M25.59 576.12h.01M35.52 564.41h.01M38.51 562.86h.01M26.26 567.22h.01M17.95 562.72h.01M21.2 567.67h.01M16.68 574.47h.01M26.81 565.02h.01M24.91 572.66h.01M39.76 566.14h.01M38.45 570.14h.01M19.04 572.27h.01M26.45 569.55h.01M16.34 566.85h.01M30.85 563.14h.01M30.83 564.57h.01M45.6 556.24h.01M22.95 570.77h.01M25.2 555.44h.01M31.03 573.17h.01M23.8 576.77h.01M32.68 575.21h.01M18.78 568.43h.01M38.29 568.45h.01M30.51 564.89h.01M36.79 564.5h.01M30.1 556.73h.01M29.66 569.67h.01M43.48 559.95h.01M25.6 567.26h.01M20.61 560.74h.01M20.76 572.09h.01M28.92 573.13h.01M21.83 571.81h.01M26.21 568.96h.01M35.67 568.64h.01M26.83 558.98h.01M29.69 572.91h.01M24.9 568.07h.01M17.07 560.84h.01M32.03 575.84h.01M27.11 558.92h.01M26.63 559.53h.01M31.31 567.58h.01M36.4 566.28h.01M31.54 569.59h.01M32.33 560.06h.01M34.16 573.49h.01M23.06 576.98h.01M29.39 572.33h.01M33.08 573.53h.01M24.84 565.1h.01M31.85 571.93h.01M33.22 570.39h.01M25.9 574.78h.01M32.51 574.54h.01M24.64 569.14h.01M25.95 566.67h.01M30.59 570.44h.01M23.71 553.93h.01M23.84 571.56h.01M23.4 570.91h.01M26.69 563.03h.01M28.53 568.16h.01M35.91 560.82h.01M23.19 574.96h.01M35.51 565.61h.01M23.84 570.47h.01M19.46 565.58h.01M27.64 554.28h.01M33.36 572.85h.01M36.68 560.17h.01M20.3 563.75h.01M22.44 566.64h.01M30.69 571.08h.01M39.37 562.17h.01M35.39 569.31h.01M21.07 569.32h.01M24.15 574.27h.01M38.34 564.88h.01M22.98 569.21h.01M21.92 573.65h.01M30.48 564.04h.01M24.46 572.65h.01M23.76 567.32h.01M35.02 575.99h.01M33.82 568.97h.01M41.12 572.3h.01M32.31 571.79h.01M34.41 570.07h.01M28.08 559.2h.01M43.69 560.91h.01M42.82 575.53h.01M25.03 569.99h.01M29.08 556.92h.01M26.9 570.15h.01M37.48 561.46h.01M31.57 568.92h.01M30.3 569.31h.01M26.67 560.51h.01M32.44 570.7h.01M33.31 575.7h.01M20.53 554.84h.01M22.82 570.77h.01M29.14 572.69h.01M51.85 565.44h.01M28.05 564.97h.01M30.98 571.48h.01M22.42 576.12h.01M37.33 571.04h.01M28.47 567.07h.01M17.67 572.27h.01M22.38 565.52h.01M36.27 563.09h.01M25.57 573.45h.01M42.33 564.43h.01M37.03 564.64h.01M31.98 571.27h.01M21.23 574.43h.01M41.93 568.75h.01M31.15 561.62h.01M41.85 568.82h.01M20.26 572.91h.01M18.95 564.45h.01M44.83 564.75h.01M24.64 565.08h.01M25.27 571.68h.01M39.53 562.58h.01M32.35 557.94h.01M39.99 567.94h.01M24.32 577.37h.01M28.5 576.43h.01M23.61 568.78h.01M31.85 567.32h.01M39.98 564.29h.01M36.31 576.4h.01M22.88 565.27h.01M32 567.44h.01M29.81 565.77h.01M28.67 571.27h.01M34.5 563.9h.01M28.45 564.01h.01M27.99 560.08h.01M35.98 572.36h.01M28.39 564.46h.01M26.03 564.57h.01M52.43 561.28h.01M21.03 571.82h.01M33.52 559.28h.01M25.76 568.95h.01M29.23 565.19h.01M28.25 566.7h.01M38.02 567.92h.01M29.02 565.36h.01M24.78 564.16h.01M37.11 569.83h.01M41.01 574.36h.01M30.71 567.49h.01M21.52 569.9h.01M27.02 559.21h.01M30.76 571.35h.01M30.66 565.74h.01M32.5 574.77h.01M27.07 571.44h.01M36.47 565.63h.01M30.44 564.14h.01M33.5 566.3h.01M37.33 564h.01M41.15 566.64h.01M23.33 563.18h.01M33.92 563.46h.01M41.97 575.93h.01M32.9 560.16h.01M29.08 564.22h.01M16.48 570.93h.01M44.76 565.33h.01M34.95 575.93h.01M22.48 566.47h.01M31.14 571.2h.01M21.18 569.71h.01M28.5 574h.01M17.99 565.16h.01M25.7 566.6h.01M34.34 564.79h.01M48.54 564.33h.01M35.17 574.39h.01M36.05 567.26h.01M23.4 566.96h.01M33.94 569.16h.01M33.35 571.8h.01M23.02 563h.01M39.41 565.62h.01M23.38 563.01h.01M36.07 561.85h.01M23.11 574.56h.01M30.16 568.77h.01M24.73 567.15h.01M25.72 568.31h.01M34.69 561.04h.01M22.78 556.25h.01M39.85 568.02h.01M29.15 568.11h.01M36.33 570.32h.01M35.24 567.47h.01M28.4 568.13h.01M16.13 574.8h.01M18.13 562.65h.01M33.98 568.77h.01M42.37 576.51h.01M23.05 567.95h.01M36.27 567.21h.01M28.4 566.39h.01M38.87 554.07h.01M38.22 574.63h.01M28.74 571.72h.01M22.43 574.92h.01M50.82 563.09h.01M39.09 568.12h.01M26.87 565.61h.01M27.91 561.15h.01M29.13 571.67h.01M31.44 571.23h.01M18.5 562.92h.01M33.71 574.27h.01M21.18 565.08h.01M21.72 572.26h.01M31.68 568.64h.01M24.67 570.45h.01M29.48 564.12h.01M31.6 564.58h.01M35.96 572.1h.01M24.4 571.87h.01M29.72 564.34h.01M22.81 558.76h.01M21.28 570.47h.01M37.76 564.79h.01M30.37 570.46h.01M34.75 571.03h.01M37.9 572.92h.01M23.88 570.76h.01M29.39 571.83h.01M27.12 573.3h.01M38.56 563.56h.01M25.42 569.97h.01M32.71 569.29h.01M35.11 561.56h.01M34.72 575.25h.01M37.07 570.94h.01M27.58 570.78h.01M28.72 559.2h.01M24.98 568.21h.01M25.62 563.01h.01M27.62 566.28h.01M29.74 568.17h.01M30.46 574.24h.01M30.21 570.82h.01M20.64 551.27h.01M26.43 572.4h.01M26.86 564.82h.01M20.51 573.65h.01M25.53 569.88h.01M37.22 571.57h.01M45.06 567.68h.01M35.99 572.49h.01M24.63 568.73h.01M25.27 562.48h.01M31.36 563.93h.01M41.09 564.13h.01M25.41 568.98h.01M25.6 568.76h.01M24.97 560.16h.01M39.97 571.04h.01M30.33 565.74h.01M28.23 570.19h.01M19.46 563.8h.01M22.97 575.79h.01M21.8 575.28h.01M28.7 568.64h.01M38.77 573.55h.01M35.87 562.22h.01M28.53 565.63h.01M21.56 574.38h.01M31.32 568.49h.01M35.42 568.33h.01M39.65 562.9h.01M35.46 562.63h.01M39.19 566.85h.01M37.87 566.03h.01M32.06 575.11h.01M22.89 569.01h.01M23.34 573.42h.01M25 566.28h.01M27.82 575.24h.01M21.91 568.3h.01M26.93 565.25h.01M23.7 567.52h.01M30.63 559.43h.01M30.9 561.55h.01M22.43 568.07h.01M27.46 574.17h.01M25.91 558.04h.01M17.9 569.48h.01M31.03 574.67h.01M25.47 572.33h.01M42.1 572h.01M45.65 562.48h.01M46.54 572.54h.01M42.88 560.94h.01M42.28 561.49h.01M45.72 566.85h.01M45.31 566.32h.01M50.13 562.76h.01M41.43 556.92h.01M46.76 562.13h.01M45.01 567.32h.01M47.55 558.1h.01M42.48 566.67h.01M45.39 570.36h.01M44.11 557.04h.01M50.08 557.03h.01M42.44 568.03h.01M42.12 577.09h.01M46.75 567.32h.01M44.34 575.25h.01M47.83 561.64h.01M50.38 556.7h.01M43.81 567.18h.01M46.39 561.05h.01M51.54 569.84h.01M42.56 567.92h.01M43.64 564.15h.01M49.42 564.75h.01M45.51 565.86h.01M41.72 571.81h.01M43.22 571.72h.01M44.26 563.86h.01M51.2 564.48h.01M43.62 563.72h.01M48.06 572.62h.01M48.09 562.94h.01M41.9 563.66h.01M45.48 566.48h.01M43.56 571.49h.01M42.48 563.31h.01M47.68 566.81h.01M44.51 569.84h.01M40.87 573.83h.01M53.71 571.23h.01M46.33 573.57h.01M46.09 570.92h.01M45.19 566.35h.01M47.77 557.26h.01M45.16 572.86h.01M35.47 570.17h.01M49.19 565.68h.01M46.59 571.01h.01M47.1 556.85h.01M42.53 565.08h.01M46.42 563.23h.01M45.53 572.54h.01M35.43 573.45h.01M49.24 566.84h.01M45.95 565.56h.01M47.2 565.93h.01M43.32 569.43h.01M42.95 566.04h.01M44.62 560.78h.01M48.06 564.34h.01M41.74 566.25h.01M40.98 572.94h.01M47.74 573.2h.01M43.88 568.93h.01M42.45 562.74h.01M45.58 567.15h.01M49.19 563.14h.01M49.83 568.2h.01M42.78 565.5h.01M42.64 573.57h.01M43.94 569.67h.01M49.15 563.21h.01M44.17 567.3h.01M43.14 560.77h.01M42.46 567.8h.01M46.58 572.59h.01M39.4 569.45h.01M41.8 571.48h.01M48.37 565.08h.01M51.14 562.1h.01M44.02 561.41h.01M43.57 566.51h.01M48.29 570h.01M44.95 562.49h.01M44.71 563.85h.01M44.24 564.1h.01M42.81 566.03h.01M44.08 565.15h.01M40.98 567.43h.01M47.93 567.42h.01M43.95 561.06h.01M41.28 561.75h.01M43.62 564.69h.01M39.61 570.08h.01M40.45 564.08h.01M43.34 569.6h.01M52.42 561.79h.01M44.93 563.94h.01M45.19 564.8h.01M54.64 557.99h.01M45.51 562.08h.01M47.16 562.71h.01M47.94 560.1h.01M53.37 563.88h.01M39.65 570.19h.01M44.24 560.93h.01M47.46 562.63h.01M48.51 562.18h.01M49.09 564.94h.01M47.16 565.58h.01M44.61 564.17h.01M47.5 567.8h.01M44.46 575.19h.01M51.87 558.62h.01M49.74 563.82h.01M46.72 561.72h.01M51.73 560.03h.01M45.61 562.34h.01M52.72 568.48h.01M41.25 564.84h.01M47.19 563.09h.01M44.65 561.16h.01M46.78 560.44h.01M48.84 574.49h.01M44.75 572.58h.01M47.22 562.08h.01M44.69 561.64h.01M46.31 568.12h.01M49.18 563.12h.01M41.7 566.29h.01M51.79 564.67h.01M45.68 556.65h.01M44.38 568.06h.01M42.57 572h.01M43.91 562.26h.01M43.86 565.55h.01M49.42 561.85h.01M39.63 566.92h.01M47.74 571.21h.01M41.95 572.74h.01M48.28 566.48h.01M43.2 562.44h.01M42.54 570.26h.01M46.67 569.55h.01M52.29 563.42h.01M45.73 573.4h.01M41.31 564.85h.01M44.6 564.13h.01M46.41 561.65h.01M49.98 558.34h.01M43.04 559.12h.01M40.98 569.3h.01M48.11 563.81h.01M48.87 566.99h.01M43.87 565.78h.01M47.19 573.33h.01M44.35 567.35h.01M47.82 569.82h.01M47.39 569.35h.01M42.16 565.37h.01M39.1 567.21h.01M54.09 563.8h.01M46.21 566.34h.01M46.41 559.63h.01M43.47 565.34h.01M46.49 561.53h.01M45.53 562.37h.01M41.27 564h.01M43.07 569.7h.01M50.6 566.29h.01M45.16 563.23h.01M40.39 564.83h.01M51.39 568.45h.01M46.69 564.06h.01M45.91 567.08h.01M45.87 567.12h.01M43.2 566.35h.01M44.67 570.2h.01M41.55 572.08h.01M45.6 563.32h.01M45.98 565.82h.01M45.08 567.35h.01M43.87 558.9h.01M48.34 564.47h.01M51.75 565.13h.01M38.88 572.67h.01M43.49 568.36h.01M53.69 567.47h.01M42.06 566.13h.01M40.26 569.85h.01M47.87 560.45h.01M47.49 568.73h.01M48.73 561.67h.01M43.47 561.42h.01M41.37 568.04h.01M46.04 570.71h.01M46.86 563.69h.01M40.9 573.3h.01M46.48 565.03h.01M42.38 562.06h.01M48.12 560.6h.01M47.95 567.31h.01M44.56 559.01h.01M47.34 570.73h.01M43.01 560.98h.01M49.72 564.75h.01M43.71 571.11h.01M44.93 567.51h.01M44.49 562.65h.01M46.67 561.53h.01M39.68 565.02h.01M50.23 568.56h.01M53.52 567.11h.01M51.56 564.63h.01M44.38 567.74h.01M42.57 569.42h.01M44.33 566.9h.01M42.91 565.71h.01M49.33 563.38h.01M43.54 567.24h.01M48.99 563.61h.01M41.81 560.15h.01M41.21 571.2h.01M45.59 567.42h.01M49.66 565.36h.01M47.59 562.73h.01M40.26 569.69h.01M45.56 567.83h.01M42.17 565.91h.01M52.96 559.69h.01M46.24 570.66h.01M45.09 566.11h.01M38.44 570.86h.01M44.36 571.14h.01M45.58 563.9h.01M47.43 563.89h.01M44.1 572.28h.01M49.34 564.74h.01M48.73 567.88h.01M47.93 564.91h.01M46.15 566.96h.01M47.88 566.2h.01M43.97 565.64h.01M47.5 560.81h.01M45.87 568.48h.01M46.49 564h.01M45.82 563.39h.01M49.34 562.75h.01M40.08 562.19h.01M46.95 565.89h.01M44.25 560.48h.01M45.38 562.07h.01M43.61 566.06h.01M43.22 567.46h.01M43.32 564.25h.01M45.1 571.6h.01M51.41 567.53h.01M43.33 566.18h.01M49.09 567.68h.01M40.21 566.89h.01M42 558.79h.01M54.86 556.1h.01M53.53 542.07h.01M48.47 544.93h.01M47.35 537.86h.01M55.01 554.69h.01M46.95 563.6h.01M42.05 559.78h.01M46 559.07h.01M45.56 548.82h.01M49.74 569.55h.01M45.29 556.18h.01M49.37 543.78h.01M44.56 552.71h.01M55.69 555.87h.01M53.88 546.96h.01M50.67 551.56h.01M55.76 545.92h.01M49.87 551.14h.01M47.38 556.06h.01M53.79 541.21h.01M50.5 550.99h.01M49.8 554.23h.01M49.94 564.79h.01M49.21 555.44h.01M49.51 548.3h.01M51.9 554.88h.01M54.96 555.43h.01M56.85 555.01h.01M47.46 558.6h.01M45.74 555.99h.01M48.84 555.28h.01M43.79 550.81h.01M55.27 549.69h.01M44.99 555.85h.01M43.71 546.81h.01M44.52 558.62h.01M50.21 559.52h.01M49.97 546.39h.01M54.74 547.67h.01M45.45 558.21h.01M50.61 556.91h.01M54.19 546.46h.01M54.99 547.1h.01M42.88 554.99h.01M51.56 559.13h.01M50.26 551.71h.01M51.88 546.22h.01M44.49 559.9h.01M45.36 544.9h.01M53.6 558.08h.01M50.55 560.62h.01M42.98 562.38h.01M45.18 547.13h.01M47.91 545.79h.01M44.41 556.54h.01M46.42 549.61h.01M51.55 550.42h.01M49.49 555.87h.01M40.9 564.25h.01M56.05 547.32h.01M48.68 550.61h.01M47.85 559.57h.01M43.51 560.15h.01M47.4 553.6h.01M51.27 543.65h.01M41.32 556h.01M51.09 542.02h.01M49.13 542.8h.01M54.07 537.91h.01M44.61 555.92h.01M48.13 551.81h.01M40.39 553.73h.01M52.85 548.96h.01M54.8 543.64h.01M47.69 542.62h.01M44.53 550.81h.01M46.59 543.94h.01M43.47 568.35h.01M46.89 560.31h.01M50.23 547.26h.01M48.98 560.15h.01M46.49 550.12h.01M54.86 549.18h.01M50.95 547.86h.01M44.71 559.86h.01M41.72 556.77h.01M53.5 544.37h.01M50.6 551.89h.01M46.91 548.5h.01M53.57 545.41h.01M49.07 561.43h.01M48.17 547.79h.01M48.27 546.58h.01M51.28 544.14h.01M51.73 541.69h.01M50.7 557.55h.01M47.47 554.54h.01M54.28 541.35h.01M51.82 549.25h.01M45.77 551.44h.01M47.88 544.63h.01M45.8 556.9h.01M52.39 543.91h.01M48.87 547.16h.01M50.36 544.21h.01M45.69 566.15h.01M49.4 551.35h.01M42.8 565.94h.01M52.28 561.69h.01M46.12 559.28h.01M43.97 551.53h.01M47.51 554.59h.01M48.3 561.68h.01M50.66 544.26h.01M52.04 551.08h.01M46.65 562.08h.01M46.14 560.6h.01M47.94 542.46h.01M55.32 551.06h.01M42.29 550.75h.01M47.52 558.89h.01M48.99 550.53h.01M52.34 553.64h.01M52.04 548.74h.01M51.64 558.37h.01M54.33 545.53h.01M45.04 556.04h.01M41.1 555.1h.01M54.15 542.89h.01M55.88 549.4h.01M51.87 547.28h.01M57.61 544.02h.01M45.73 550.88h.01M47.46 554.29h.01M50.35 560.08h.01M57.85 553.06h.01M44.93 560.48h.01M55.47 545.82h.01M48.29 551.17h.01M42.23 560.42h.01M52.01 553.19h.01M46.22 556.49h.01M47.22 541.67h.01M48.4 556.97h.01M39.73 555.83h.01M49.35 552.41h.01M43.77 564.12h.01M51.09 550.89h.01M44.37 552.7h.01M51.24 563.52h.01M44.04 554.1h.01M49.85 547.52h.01M47.62 549.5h.01M45.71 561.52h.01M47.91 545.97h.01M48.73 555.79h.01M48.76 555.32h.01M46.19 553.42h.01M47.26 547.87h.01M52.4 559.94h.01M44.78 548.2h.01M45.62 562.48h.01M54.06 546.16h.01M51.59 540.03h.01M48.41 561.73h.01M47.27 553.35h.01M44.34 544.68h.01M43.78 550.02h.01M47.05 561.52h.01M44.49 555.45h.01M49.43 561.94h.01M49.13 547.61h.01M46.89 559.21h.01M51.27 553.11h.01M49.96 544.47h.01M51.88 539.85h.01M47.63 540.94h.01M56.23 541.52h.01M51.21 541.51h.01M55.58 540.63h.01M57.03 541.75h.01M48.37 541.56h.01M52.8 542.64h.01M58.66 542.04h.01M54.97 540.65h.01M59.22 540.7h.01M50.19 541.58h.01M51.96 540.94h.01M57.45 540.92h.01M58.32 541.31h.01M47.16 541.53h.01M48.32 542.24h.01M51.72 541.95h.01M56.52 540.11h.01M58.92 539.76h.01M52.25 541.39h.01M57.91 540.54h.01M58.92 540.61h.01M55.68 541.87h.01M56.92 541.56h.01M55.51 541.95h.01M52.27 540.99h.01M56.37 541.04h.01M48.03 542.02h.01M48.34 540.85h.01M54.79 540.61h.01M48.93 540.27h.01M58.43 541.43h.01M58.05 542.46h.01M58.58 541.72h.01M60.13 541.78h.01M56.63 539.75h.01M47.56 541.14h.01M56.65 540.14h.01M54.26 541.6h.01M47.13 540.95h.01M55.6 541.08h.01M49.84 541.07h.01M54.04 541.76h.01M53.35 541.88h.01M59.37 540.64h.01M55.5 539.8h.01M46.78 540.89h.01M54.38 540.35h.01M46.77 540.99h.01M48.07 543.24h.01M56.27 541.29h.01M57.83 539.85h.01M45.98 542.22h.01M45.61 541.43h.01M57.55 540.56h.01M54.61 540.92h.01M46.4 541.1h.01M48.24 540.63h.01M49.59 542.03h.01M53.34 540.2h.01M50.57 540.8h.01M49.52 541.25h.01M50.78 541.7h.01M47.09 540.84h.01M57.68 539.55h.01M56.01 542.07h.01M47.67 540.81h.01M57.02 541.47h.01M58.08 538.72h.01M47.55 541.6h.01M55.9 539.71h.01M55.69 540.73h.01M58 539.81h.01M52.7 541h.01M54.4 541.57h.01M50.76 541.47h.01M50.21 541.62h.01M51.34 541.02h.01M45.89 540.5h.01M51.44 540.61h.01M50.77 541.31h.01M58.75 541.61h.01M51.91 541.71h.01M57.54 541.41h.01M55.84 540.02h.01M51.37 542.49h.01" stroke="#222" stroke-opacity="0.23" stroke-width="1.0" stroke-linecap="round" fill="none"/>
<path d="M56.57 571.12h.01M41.59 560.55h.01M59 565.41h.01M48.48 542.6h.01M40.51 566.07h.01M40.67 569.16h.01M52.61 555.74h.01M57.13 574.1h.01M51.63 540.79h.01M51.07 553.64h.01M44.29 573.95h.01M53.91 541.67h.01M43.88 550.5h.01M50.76 549.79h.01M48.09 569.34h.01M42.94 565.6h.01M45.91 574.58h.01M58.34 549.9h.01M51.42 541.23h.01M47.51 561.73h.01M52.06 550.5h.01M39.98 541.77h.01M50.51 543.65h.01M45.42 561.54h.01M57.31 557.41h.01M44.39 560.24h.01M44.81 568.09h.01M42.42 547.28h.01M48.07 573.13h.01M42.61 544.49h.01M41.93 545.35h.01M45.94 552.6h.01M54.49 552.95h.01M48.8 552.66h.01M54.78 572.93h.01M47.81 573.65h.01M44.31 575.91h.01M49.81 564.08h.01M46.93 547.66h.01M42 572.21h.01M46.49 564.74h.01M48.51 557.87h.01M43.44 543.88h.01M46.03 564.06h.01M50.17 536.9h.01M53.52 554.13h.01M40.68 547.2h.01M43.53 569.71h.01M50.3 549.87h.01M44.27 548.45h.01M44.9 550.65h.01M55.11 568.34h.01M53.26 572.2h.01M52.38 541.34h.01M40.19 543.37h.01M44.46 557.93h.01M55.74 560.23h.01M47.89 546.49h.01M58.93 566.93h.01M46.12 538.64h.01M58.94 547.04h.01M56.25 541.49h.01M52.36 551.06h.01M57.08 548.68h.01M41.32 544.75h.01M55.41 575.94h.01M52.16 564.07h.01M44.94 547.7h.01M41.03 576.19h.01M40.17 561.3h.01M46.3 544.27h.01M48.02 574.03h.01M44.25 543.38h.01M51.89 563.08h.01M49.51 543.98h.01M56.78 541.23h.01M42.78 546.47h.01M49.58 555.85h.01M50.37 565.88h.01M57.18 555.53h.01M40.14 570.03h.01M39.67 549.52h.01M42.16 560.89h.01M54.94 541.95h.01M45.19 570.84h.01M53.08 541.14h.01M53.03 568.56h.01M47.47 543.01h.01M52.48 549.57h.01M41.98 543.39h.01M47.35 541.88h.01M47 558.86h.01M50.34 552.95h.01M55.3 540.31h.01M45.9 574.13h.01M56.59 573.63h.01M54.61 558.23h.01M55.05 559.7h.01M41.65 547.02h.01M41.25 571.81h.01M45.74 553.1h.01M50.06 540.84h.01M53.42 568.62h.01M55.22 572.04h.01M45.65 542.62h.01M54.53 564.53h.01M46.73 550.53h.01M42.37 570.08h.01M48.51 569.28h.01M46.09 549.65h.01" stroke="#444" stroke-opacity="0.17" stroke-width="1.0" stroke-linecap="round" fill="none"/>
</g>
<rect x="15.3" y="528.8" width="46.7" height="49.5" fill="none" stroke="#a2a2a2" stroke-width="0.9"/>
<line x1="13.6" y1="535.23" x2="15.3" y2="535.23" stroke="#666" stroke-width="0.7"/>
<line x1="21.37" y1="578.3" x2="21.37" y2="580" stroke="#666" stroke-width="0.7"/>
<line x1="13.6" y1="547.12" x2="15.3" y2="547.12" stroke="#666" stroke-width="0.7"/>
<line x1="32.58" y1="578.3" x2="32.58" y2="580" stroke="#666" stroke-width="0.7"/>
<line x1="13.6" y1="558.5" x2="15.3" y2="558.5" stroke="#666" stroke-width="0.7"/>
<line x1="43.32" y1="578.3" x2="43.32" y2="580" stroke="#666" stroke-width="0.7"/>
<line x1="13.6" y1="570.38" x2="15.3" y2="570.38" stroke="#666" stroke-width="0.7"/>
<line x1="54.53" y1="578.3" x2="54.53" y2="580" stroke="#666" stroke-width="0.7"/>
<rect x="15.5" y="558.2" width="24.1" height="19.8" fill="none" stroke="#000" stroke-width="1.3"/>
<text x="17.1" y="555.8" font-size="12" text-anchor="start" fill="#000">39%</text>
<clipPath id="cp10"><rect x="72.1" y="409.6" width="45.7" height="48.5"/></clipPath>
<g clip-path="url(#cp10)" filter="url(#bl)">
<ellipse cx="80.4" cy="448.4" rx="14.65" ry="14.56" fill="url(#rg)" opacity="0.45"/>
<rect x="71.6" y="437.8" width="22.2" height="20.8" fill="#555" opacity="0.1"/>
<path d="M84.85 444.62h.01M78.12 442.65h.01M87.41 440.61h.01M74.66 446.45h.01M82.13 443.51h.01M84.05 450.42h.01M82.18 448.02h.01M83.31 441.52h.01M72.84 445.9h.01M73.45 452.52h.01M92.61 455.66h.01M83.21 450.39h.01M76.09 440.77h.01M83.85 439.72h.01M82.3 447.57h.01M85.12 448.7h.01M81.07 444.99h.01M84.78 454.54h.01M89.07 442.56h.01M74.51 452.52h.01M82.38 439.48h.01M76.91 457.62h.01M77.59 442.35h.01M94.12 448.98h.01M78.73 441.58h.01M82.55 445.63h.01M75.07 456.53h.01M83.17 443.18h.01M89.71 448.08h.01M83.57 449.27h.01M87.82 452.02h.01M78.21 452.62h.01M77.94 449.19h.01M90.73 442.16h.01M73.89 446.04h.01M77.26 456.05h.01M90.38 445.76h.01M81.57 446.28h.01M84.63 452.29h.01M85.14 452.9h.01M92.56 447.4h.01M84.81 447.31h.01M80.65 449.69h.01M80.07 450.43h.01M75.04 447.5h.01M76.59 441.53h.01M75.95 445.48h.01M79.46 439.22h.01M78.78 441.76h.01M75.25 449.51h.01M87.38 450.08h.01M77.32 445.82h.01M88.84 438.85h.01M87.58 439.57h.01M76.41 448.67h.01M83.51 448.12h.01M86.41 448.62h.01M75.33 455.01h.01M89.84 455.94h.01M77.78 452.92h.01M87.83 451.31h.01M78.43 431.17h.01M83.18 447.3h.01M80.37 449.77h.01M85.15 446.83h.01M74.75 446.28h.01M92.85 444.35h.01M87.04 449.12h.01M85.03 446.81h.01M74.69 454.3h.01M78.75 446.19h.01M82.57 447.28h.01M78.44 443.13h.01M82.01 450.31h.01M91.94 448.25h.01M94.84 445.8h.01M75.35 447.42h.01M79.21 439.49h.01M84.04 443.24h.01M88.29 449.55h.01M77.17 446.86h.01M86.51 445.35h.01M83.03 454.1h.01M74.68 444.93h.01M83.23 448.45h.01M79.62 445.28h.01M88.98 438.88h.01M80.7 448.95h.01M80.63 440.25h.01M79.58 449.28h.01M76.1 450.25h.01M81.04 450.71h.01M79.35 445.69h.01M81.57 454.79h.01M86.08 447.93h.01M77.46 454.67h.01M83.82 453.61h.01M78.65 443.32h.01M81.58 444.71h.01M87.66 453.45h.01M88.82 454.53h.01M77.41 443.32h.01M86.53 454.39h.01M80.78 441.59h.01M75.18 444.38h.01M83.21 454.6h.01M88.61 448.15h.01M78.23 452.17h.01M73.2 441.18h.01M80.54 457.64h.01M86.82 448.37h.01M86.79 445.98h.01M72.95 438.51h.01M82.11 453.72h.01M82.75 448.18h.01M77.87 454.84h.01M80.11 439.89h.01M89.07 444.57h.01M82.88 448.42h.01M87.06 449.86h.01M88.15 449.65h.01M77.49 445.4h.01M84.51 443.5h.01M86.27 446.99h.01M74.53 443.24h.01M85.28 448.52h.01M78.64 448.39h.01M77.72 456.28h.01M81.52 445.7h.01M81.57 442.5h.01M73.75 447.45h.01M92.97 441.83h.01M79.51 439.08h.01M81.49 449.66h.01M85.08 440.52h.01M76.6 444.58h.01M79.14 448.16h.01M77.19 453.11h.01M96.61 455.27h.01M90.09 442.06h.01M87.09 448.57h.01M88.31 454.66h.01M84.54 438.49h.01M81.25 445.44h.01M83.23 448.62h.01M87.04 438.92h.01M75.72 447.95h.01M82.43 446.01h.01M80.22 448.73h.01M87.03 447.73h.01M81.93 437.65h.01M82.66 434.76h.01M82.99 447.83h.01M80.42 444.08h.01M77.74 453.32h.01M82.66 448.25h.01M77.31 449.66h.01M87.94 448.29h.01M78.08 441.42h.01M81.03 442.97h.01M76.45 436.34h.01M79.72 440.55h.01M73.42 452.66h.01M82.98 449.67h.01M79.16 451.27h.01M90.15 451.29h.01M79.36 440.11h.01M83.22 457.68h.01M84.5 440.95h.01M81.57 456.1h.01M76.38 451.33h.01M82.77 452.57h.01M78.16 448.28h.01M77.81 455.52h.01M80.25 448.56h.01M91.73 447.09h.01M82.59 450.5h.01M82.03 457.1h.01M81.28 449.29h.01M79.69 448.42h.01M80.05 454.31h.01M80.53 448.81h.01M80.1 452.9h.01M77.4 453.97h.01M76.77 452.52h.01M92.58 449.78h.01M79.85 441.39h.01M85.09 448.48h.01M86.17 444.5h.01M82.95 446.46h.01M84.58 451.96h.01M73.31 442.29h.01M74.2 442.34h.01M78.65 449.98h.01M92.61 449.56h.01M89.63 438.57h.01M90.19 453.15h.01M83.2 453.3h.01M85.52 438.05h.01M79.87 456.27h.01M78.22 444.5h.01M78.22 450.28h.01M81.59 444.71h.01M83.81 452.07h.01M74.57 441.77h.01M80.47 444.26h.01M76.57 447.61h.01M80.59 451.8h.01M85.69 451.01h.01M87.51 442.63h.01M84.26 450.62h.01M73.76 444.37h.01M83.22 448.85h.01M72.41 445.11h.01M90.1 453.42h.01M80.92 456.43h.01M74.63 447.38h.01M86.5 446.4h.01M73.29 451.89h.01M90.59 433.28h.01M81.38 440.95h.01M78.5 439.99h.01M96.94 444.35h.01M80.68 444.2h.01M74.1 445.69h.01M82.23 457.73h.01M73.62 448.83h.01M77.62 439.07h.01M104.12 446.95h.01M81.96 443.91h.01M76.74 442.23h.01M86.92 446h.01M79.48 449.48h.01M72.6 449.79h.01M79.31 451.06h.01M77.95 448.63h.01M83.7 454.16h.01M76.02 454.19h.01M74.13 447.27h.01M81.23 449.27h.01M79.23 453.91h.01M75.92 457.41h.01M83.83 448.51h.01M82.08 453.97h.01M75.27 451.92h.01M87.16 447.01h.01M74.97 442.09h.01M83.14 443.6h.01M96.18 451.8h.01M90.12 452.45h.01M73.92 454.57h.01M76.89 451.96h.01M83.99 445.75h.01M79.42 455.31h.01M83.57 448.04h.01M86.33 451.24h.01M82.5 439.08h.01M81.26 445.5h.01M85.06 444.78h.01M83.25 442.13h.01M86.1 444.06h.01M80.22 451.84h.01M78.34 448.44h.01M84.7 454h.01M77.38 448.96h.01M79.13 441.3h.01M88.69 446.08h.01M92.8 452.2h.01M82.84 452.24h.01M85.43 453.88h.01M74.19 445.08h.01M76.91 449.02h.01M78.81 441.06h.01M93.9 443.3h.01M82.82 448.18h.01M75.02 452.65h.01M83.31 446.55h.01M85.8 444.15h.01M86.02 452.47h.01M82.44 452.89h.01M81.38 448.31h.01M78.2 446.67h.01M80.42 442.07h.01M84.48 446.46h.01M83.72 445.38h.01M83.01 449.16h.01M86.07 451.15h.01M86.33 447.41h.01M80.05 446.84h.01M72.42 447.65h.01M87.32 452.99h.01M74.99 450.19h.01M85.18 440.31h.01M82.62 450.36h.01M85.16 449.92h.01M93.02 446.05h.01M88.5 455.93h.01M80.96 441.6h.01M89.1 448.18h.01M83.71 451.25h.01M86.47 454.43h.01M81.3 448.45h.01M85.35 447.6h.01M89.14 455.29h.01M86.99 443.71h.01M79.86 447.99h.01M73.44 443.23h.01M81.42 441.18h.01M83.85 451.21h.01M78.9 446.39h.01M84.23 451.25h.01M82.72 441.13h.01M76.25 446.23h.01M75.74 453.14h.01M77.78 445.48h.01M75.47 445.78h.01M88 449.31h.01M76.99 455.9h.01M83.5 442.29h.01M76.76 444.78h.01M80.11 455.6h.01M75.92 447.53h.01M81.12 441.33h.01M77.37 452.04h.01M87.6 437.29h.01M84.9 446.67h.01M88.6 452.09h.01M92.93 450.24h.01M77.88 443.47h.01M83.68 453.26h.01M82.63 439.53h.01M77.82 446.96h.01M81.42 452.95h.01M89.42 450.09h.01M72.78 449.82h.01M78.99 455.01h.01M87.27 445.7h.01M86.41 448.48h.01M83.3 456.38h.01M73.1 448h.01M90.19 443.88h.01M81.77 449.18h.01M77.76 440.66h.01M76.04 442.59h.01M87.28 449.87h.01M84.87 441.37h.01M83.59 449.25h.01M87.07 444.13h.01M85.56 456.52h.01M91.87 442.9h.01M73.26 439.74h.01M86.52 451.92h.01M82.58 443.28h.01M80.18 447.69h.01M87.97 451.4h.01M88.96 446.01h.01M82.56 446.4h.01M76.78 446.65h.01M78.6 451.39h.01M78.47 448.82h.01M75.26 441.16h.01M89.49 442.59h.01M91.94 453.96h.01M77.75 448.52h.01M79.27 444.83h.01M88.37 447.65h.01M86.53 444.35h.01M76.02 456.28h.01M78.61 441.92h.01M79.32 454.62h.01M79.38 444.16h.01M84.45 454.21h.01M79.09 446.52h.01M79.47 450.8h.01M80.74 446.53h.01M77.81 440.36h.01M76.35 447.88h.01M79.26 445.42h.01M73.39 445.4h.01M78.53 441.6h.01M74.31 453.49h.01M86.33 449.18h.01M101.02 453.29h.01M88.25 443.59h.01M75.29 441.72h.01M80.13 443.65h.01M84.47 441.89h.01M80.95 436.87h.01M80.21 454.6h.01M78.74 450.25h.01M87.35 441.94h.01M82.18 446.83h.01M74.25 455.56h.01M73.03 446.87h.01M80.15 452.68h.01M77.58 443.57h.01M93.22 443.42h.01M85.49 447.5h.01M77.39 448.14h.01M78.79 450.24h.01M80.88 442.68h.01M92.16 452.18h.01M81.9 446.61h.01M89.24 445.77h.01M75.21 452.48h.01M74.28 443.75h.01M89.63 438.94h.01M80.01 449.11h.01M82.07 439.83h.01M78.98 446.44h.01M92.64 454.32h.01M75.62 453.55h.01M84.58 447.74h.01M78.88 446.79h.01M86.37 456.91h.01M92.21 446.19h.01M84.34 434.24h.01M78.72 440.97h.01M85.66 438.64h.01M73.81 441.9h.01M82.94 453.34h.01M81.45 443.5h.01M82.65 448.32h.01M85.71 450.43h.01M94.34 455.29h.01M76.37 453.04h.01M85.27 442.52h.01M75.67 443.65h.01M79.06 455.66h.01M76.88 448.85h.01M85.04 454.1h.01M82.46 442.28h.01M94.43 453.52h.01M89.35 450.85h.01M83.44 452.12h.01" stroke="#222" stroke-opacity="0.23" stroke-width="1.0" stroke-linecap="round" fill="none"/>
<path d="M97.52 439.57h.01M96.89 438.22h.01M105.67 446.74h.01M108.5 438.38h.01M108.12 430.41h.01M100.89 448.42h.01M102.38 423.25h.01M99.12 426.6h.01M107 444.35h.01M99.64 447.88h.01M103.24 446.08h.01M103.1 448.2h.01M96.01 441.55h.01M100.38 443.56h.01M99.13 425.46h.01M97.92 445.04h.01M105.24 445.61h.01M108.89 431.08h.01M105.48 429.06h.01M98.1 427.64h.01M98.52 441.76h.01M104.41 426.16h.01M100.69 448.62h.01M98.5 425.97h.01M108.32 443.38h.01M104.14 449.8h.01M102.94 448.68h.01M97.74 437.45h.01M109.05 429.62h.01M108.77 438h.01M100.53 447.32h.01M97.46 443.75h.01M105.1 451.94h.01M109.39 437.71h.01M95.94 420.19h.01M109.81 436.77h.01M107.73 422.28h.01M99.9 442.77h.01M102.94 445.78h.01M101.84 421.62h.01M100.94 422.73h.01M96.87 430.38h.01M108.07 434.55h.01M106.5 422.07h.01M97.13 440.15h.01M108.9 438.57h.01M106.23 443.1h.01M106.14 442.56h.01M96.68 445.08h.01M96.66 433.68h.01M101.25 425.27h.01M96.87 433.29h.01M108.49 446.05h.01M102.97 422.83h.01M106.61 424.97h.01M97.47 442.27h.01M98.68 441.42h.01M98.91 442.69h.01M108.15 433.42h.01M104.74 448.55h.01M104.85 447.51h.01M98.18 436.49h.01M107.45 428.5h.01M97.44 434.21h.01M98.94 430.01h.01M97.55 427.56h.01M100.92 425.01h.01M98.46 437.04h.01M101.63 424.78h.01M95.68 437.66h.01M104.55 444.64h.01M108.24 437.33h.01M107.78 441.44h.01M105.29 445.51h.01M106.43 442.41h.01M99.67 425.72h.01M107.99 426.21h.01M97.36 435.11h.01M104.88 446.35h.01M96.61 428.73h.01M106.39 424.02h.01M96.61 442.71h.01M107.58 447.33h.01M97.87 431.84h.01M95.82 439.98h.01M101.62 447.31h.01M106.04 444.53h.01M101.81 422.61h.01M108.54 438.27h.01M96.47 435.4h.01M106.5 431.51h.01M99.62 448.86h.01M108.73 425.3h.01M97.65 421.77h.01M105.29 416.12h.01M98.95 426.13h.01M98.6 437.21h.01M99.87 419.68h.01M98.38 427.85h.01M103.84 448.92h.01M102.22 447.31h.01M107.35 427.8h.01M97.69 447.03h.01M107.35 443.46h.01M105.89 445.18h.01M104.22 445.46h.01M96.42 433.88h.01M99.94 423.27h.01M99.21 446h.01M97.59 438.01h.01" stroke="#444" stroke-opacity="0.17" stroke-width="1.0" stroke-linecap="round" fill="none"/>
</g>
<rect x="71.6" y="409.1" width="46.7" height="49.5" fill="none" stroke="#a2a2a2" stroke-width="0.9"/>
<line x1="69.9" y1="415.54" x2="71.6" y2="415.54" stroke="#666" stroke-width="0.7"/>
<line x1="77.67" y1="458.6" x2="77.67" y2="460.3" stroke="#666" stroke-width="0.7"/>
<line x1="69.9" y1="427.42" x2="71.6" y2="427.42" stroke="#666" stroke-width="0.7"/>
<line x1="88.88" y1="458.6" x2="88.88" y2="460.3" stroke="#666" stroke-width="0.7"/>
<line x1="69.9" y1="438.8" x2="71.6" y2="438.8" stroke="#666" stroke-width="0.7"/>
<line x1="99.62" y1="458.6" x2="99.62" y2="460.3" stroke="#666" stroke-width="0.7"/>
<line x1="69.9" y1="450.68" x2="71.6" y2="450.68" stroke="#666" stroke-width="0.7"/>
<line x1="110.83" y1="458.6" x2="110.83" y2="460.3" stroke="#666" stroke-width="0.7"/>
<rect x="71.8" y="437.8" width="22" height="20.5" fill="none" stroke="#000" stroke-width="1.3"/>
<text x="73.4" y="435.4" font-size="12" text-anchor="start" fill="#000">93%</text>
<clipPath id="cp11"><rect x="72.1" y="469" width="45.7" height="48.5"/></clipPath>
<g clip-path="url(#cp11)" filter="url(#bl)">
<ellipse cx="80.4" cy="507.9" rx="14.65" ry="14.42" fill="url(#rg)" opacity="0.3"/>
<rect x="71.6" y="497.4" width="22.2" height="20.6" fill="#555" opacity="0.1"/>
<path d="M77.12 508.89h.01M82.99 505.88h.01M80.35 497.27h.01M77.18 514.74h.01M89.31 507.49h.01M77.92 513.71h.01M76.65 515.85h.01M87.67 501.75h.01M79.1 500.91h.01M82.2 505.59h.01M82 499.09h.01M87.18 510.51h.01M79.36 516.02h.01M74.74 511.88h.01M84.45 504.81h.01M79.76 511.67h.01M89.92 515.45h.01M83.32 506.4h.01M92.1 495.42h.01M85.87 507.66h.01M84.86 509.74h.01M79.27 507.88h.01M80.23 514.66h.01M78.85 504.75h.01M84.52 511.64h.01M83.17 509.55h.01M89.6 514.37h.01M81.78 506.69h.01M84.56 497.06h.01M77.23 503.8h.01M81.53 505.67h.01M95.73 512.19h.01M80.45 506.05h.01M88.1 512.72h.01M86.2 514.93h.01M78.21 504.07h.01M76 508.5h.01M86.67 501.8h.01M77.15 500.14h.01M92.85 512.55h.01M81.82 500.84h.01M74.08 504.15h.01M80.67 500.53h.01M79.06 514.99h.01M80.54 508.48h.01M79.56 503.88h.01M74.12 504.73h.01M86.09 503.01h.01M82.47 499.09h.01M84.04 511.06h.01M78.06 513.05h.01M75.03 508.18h.01M90.88 507.77h.01M73.51 514.61h.01M83.78 506.29h.01M82.27 502.95h.01M87.59 516.43h.01M75.24 510.71h.01M91.69 499.69h.01M80.81 504.2h.01M79.88 508.41h.01M82.19 513.09h.01M83.63 514h.01M86.73 514.3h.01M76.29 510.29h.01M78.15 503h.01M92.55 509.6h.01M80.74 495.64h.01M79.03 512.4h.01M79.2 504.73h.01M89.56 506.09h.01M78.4 507.32h.01M79 514.03h.01M83.97 507.49h.01M78.23 506.59h.01M90.9 506.12h.01M84.49 498.72h.01M82.44 511.91h.01M88.3 509.75h.01M84.03 509.78h.01M81.7 503.15h.01M84.13 507.26h.01M84.41 512.42h.01M81.4 505.34h.01M82.35 500.63h.01M82.15 502.74h.01M83.24 508.61h.01M79.12 500.9h.01M80.77 503.94h.01M79.59 511.95h.01M86.34 500.39h.01M86.23 515.84h.01M87.4 509.51h.01M78.49 499.01h.01M81.02 509.57h.01M74.08 500.81h.01M92.67 508.56h.01M85.27 504.5h.01M88.73 504.01h.01M78.74 508h.01M74.04 506.09h.01M77.11 513.05h.01M81.4 512.98h.01M80.15 495.47h.01M85.87 513h.01M80.01 497.49h.01M77.44 510.26h.01M88.96 505.9h.01M77.01 503.38h.01M86.74 512.97h.01M74.8 499.33h.01M72.81 503.98h.01M81.44 510.33h.01M77.53 498.66h.01M77.93 503.93h.01M89.82 513.39h.01M89.39 508.6h.01M77.93 507.4h.01M82.13 506.13h.01M90.5 516.35h.01M85.87 505.85h.01M81.32 511.14h.01M81.67 514.01h.01M76.37 494.37h.01M87.11 507.91h.01M83.79 508.35h.01M81.54 505.15h.01M77.98 514.85h.01M78.82 507.66h.01M87.84 513.64h.01M78.06 509.38h.01M74.24 508.67h.01M82.42 507.89h.01M81.48 510.03h.01M80.94 505.03h.01M74.53 506.52h.01M90.39 506.57h.01M76.47 505.1h.01M73.14 510.73h.01M74.4 513.22h.01M86.08 511.25h.01M86.88 507.4h.01M84.41 498.88h.01M72.94 514.3h.01M83.18 515.77h.01M84.59 508.29h.01M83.12 512.86h.01M80.3 506.68h.01M82.41 506.06h.01M95.35 503.43h.01M86.94 505.54h.01M81.46 506.65h.01M82.19 499.43h.01M81.01 504.55h.01M87.19 511.53h.01M72.7 502.25h.01M83.99 514.88h.01M85.22 507.01h.01M87.35 494.13h.01M77.17 502.21h.01M74.1 511.19h.01M82.2 509.56h.01M79.66 511.52h.01M85.33 504.56h.01M86.27 502.48h.01M91.39 500.29h.01M78.71 501.58h.01M80.73 515.59h.01M89.23 510.15h.01M76.83 513.19h.01M86.45 507.67h.01M95.9 503.95h.01M88.34 503.96h.01M77.65 500.81h.01M85.25 512.76h.01M84.16 509.34h.01M86.65 507.19h.01M84.95 512.69h.01M88.58 510.91h.01M81.01 512.04h.01M90.56 508.71h.01M73.93 504.5h.01M79.55 508.32h.01M75.72 513.74h.01M84.66 498.03h.01M72.84 508.26h.01M82.19 505.41h.01M80.56 508.85h.01M73.33 508.26h.01M94.71 504.11h.01M74.14 511.8h.01M88.91 514.02h.01M76.53 507.47h.01M81.76 506.67h.01M82.99 514.27h.01M83.92 507.84h.01M85.11 508.42h.01M88.12 513.26h.01M93.59 497.35h.01M81.12 506.09h.01M75.91 508.34h.01M83.86 510.99h.01M79.61 500.12h.01M84 511.48h.01M93.85 513.39h.01M80.59 501.15h.01M97.67 503.93h.01M81.73 512.31h.01M83.66 515.74h.01M73.96 503.84h.01M81.59 500.65h.01M76.62 516.06h.01M82.36 507.3h.01M76.88 508.18h.01M80.28 501.55h.01M85.48 500.36h.01M88.6 505.91h.01M82.31 502.77h.01M91.96 516.06h.01M93.84 513.17h.01M89.06 504.33h.01M88.75 505.32h.01M80.17 499.86h.01M80.85 510.28h.01M80.09 501.36h.01M86.24 513.3h.01M79.93 512.54h.01M86.76 502.08h.01M80.26 496.89h.01M73.9 510.44h.01M74.89 510.23h.01M82.79 495.69h.01M77.39 516.89h.01M80.57 508.63h.01M75.99 498.41h.01M79.31 502.74h.01M81.19 496.41h.01M75.68 509.82h.01M74.72 512.99h.01M75.1 507.05h.01M88.85 511.01h.01M78.39 498.88h.01M83.77 508.24h.01M88.53 508.77h.01M75.82 507.28h.01M79.86 507.82h.01M96.47 511.35h.01M82.24 506.41h.01M76.12 501.99h.01M74.45 495.83h.01M89.31 515.32h.01M84.72 492.87h.01M80.61 501.96h.01M87.89 510.55h.01M75.59 514.73h.01M79.85 502.07h.01M74.6 496.16h.01M75.04 513.24h.01M79.74 512.77h.01M73.1 513.33h.01M79.11 508.64h.01M74.09 513.02h.01M95.58 516.89h.01M74.3 504.45h.01M85.16 508.71h.01M75.54 515.28h.01M83.8 514.02h.01M79.32 515.54h.01M77.45 501.22h.01M80.41 499.56h.01M88.54 512.28h.01M85.93 505.76h.01M83.14 504.41h.01M80 507.39h.01M83.57 502.11h.01M73.15 509.87h.01M77.16 511h.01M77.19 500.06h.01M85.22 509.49h.01M85.17 505.87h.01M78.12 515.46h.01M83.77 507.56h.01M81.02 511.51h.01M75.45 509.56h.01M74.27 496.84h.01M81.74 508.5h.01M84.63 511.23h.01M84.96 512.63h.01M73.61 515.18h.01M97.76 504.51h.01M86.36 513.96h.01M90.36 499.6h.01M82.87 510.68h.01M88.52 502.56h.01M80.59 505.68h.01M79.38 507.03h.01M79.45 497.31h.01M80.19 508.31h.01M77.93 486.64h.01M75.93 503.98h.01M86.42 506.79h.01M74.15 510.74h.01M76.54 516.81h.01M87.6 507.16h.01M84.39 503.13h.01M91.02 506.08h.01M77.02 497.15h.01M94.33 500.71h.01M74.15 506.73h.01M88.27 508.22h.01M80.3 508.02h.01M85.91 507.68h.01M81.44 507.46h.01M73.23 515.96h.01M75.93 499.99h.01M77.59 508.09h.01M85.73 499.08h.01M82.9 501.32h.01M73.08 508.95h.01M79.49 498.19h.01" stroke="#222" stroke-opacity="0.23" stroke-width="1.0" stroke-linecap="round" fill="none"/>
<path d="M99.23 503.92h.01M108.94 486.84h.01M99.42 503.49h.01M98.37 492.29h.01M108.38 481.87h.01M102.29 480.36h.01M105.34 484.77h.01M95.55 495.54h.01M95.97 502.67h.01M104.94 504.04h.01M96.33 486.01h.01M98.23 504.75h.01M98.99 488.63h.01M96.91 491.66h.01M110.72 482.33h.01M104.93 484.86h.01M99.86 504.71h.01M107.87 492.9h.01M100.88 487.32h.01M97.15 496.68h.01M105.09 484.96h.01M107.06 497.31h.01M104.7 507.22h.01M97.98 505.08h.01M97.68 505.32h.01M98.49 483.98h.01M108.96 493.58h.01M107.54 486.71h.01M98.82 486.16h.01M105.24 486.92h.01M108.42 494.83h.01M104.8 507.05h.01M100.01 485.62h.01M98.23 489.5h.01M106.85 500.71h.01M105.3 506.27h.01M109.72 505.1h.01M97.72 484.6h.01M99.23 484.93h.01M96.81 499h.01M99.68 506.82h.01M104.49 484.31h.01M100.32 511.76h.01M103.87 505.42h.01M104.28 504.2h.01M108.08 482.3h.01M98.81 499.09h.01M99.54 504.68h.01M101.03 505.41h.01M104.27 479.85h.01M103.59 508.85h.01M100.62 483.27h.01M108.26 503.34h.01M98.9 485.82h.01M95.85 503.7h.01M95.49 489.13h.01M100.52 482.94h.01M100.47 490.7h.01M98.4 497.59h.01M100.67 481.21h.01" stroke="#444" stroke-opacity="0.17" stroke-width="1.0" stroke-linecap="round" fill="none"/>
</g>
<rect x="71.6" y="468.5" width="46.7" height="49.5" fill="none" stroke="#a2a2a2" stroke-width="0.9"/>
<line x1="69.9" y1="474.94" x2="71.6" y2="474.94" stroke="#666" stroke-width="0.7"/>
<line x1="77.67" y1="518" x2="77.67" y2="519.7" stroke="#666" stroke-width="0.7"/>
<line x1="69.9" y1="486.81" x2="71.6" y2="486.81" stroke="#666" stroke-width="0.7"/>
<line x1="88.88" y1="518" x2="88.88" y2="519.7" stroke="#666" stroke-width="0.7"/>
<line x1="69.9" y1="498.2" x2="71.6" y2="498.2" stroke="#666" stroke-width="0.7"/>
<line x1="99.62" y1="518" x2="99.62" y2="519.7" stroke="#666" stroke-width="0.7"/>
<line x1="69.9" y1="510.08" x2="71.6" y2="510.08" stroke="#666" stroke-width="0.7"/>
<line x1="110.83" y1="518" x2="110.83" y2="519.7" stroke="#666" stroke-width="0.7"/>
<rect x="71.8" y="497.4" width="22" height="20.3" fill="none" stroke="#000" stroke-width="1.3"/>
<text x="73.4" y="495" font-size="12" text-anchor="start" fill="#000">90%</text>
<clipPath id="cp12"><rect x="72.1" y="529.3" width="45.7" height="48.5"/></clipPath>
<g clip-path="url(#cp12)" filter="url(#bl)">
<ellipse cx="80.4" cy="568.45" rx="14.65" ry="14.07" fill="url(#rg)" opacity="0.3"/>
<rect x="71.6" y="558.2" width="22.2" height="20.1" fill="#555" opacity="0.1"/>
<path d="M85.84 570.26h.01M85.12 575.55h.01M80.69 569.82h.01M83.01 571.18h.01M73.53 566.84h.01M79.42 568.65h.01M75.55 567.66h.01M82.25 569.53h.01M84.2 573.24h.01M83.99 574.08h.01M85.82 576.58h.01M84.45 564.83h.01M95.41 575.04h.01M88.46 572.71h.01M80.7 561.76h.01M83.22 566.37h.01M77.81 555.96h.01M90.39 561.62h.01M73.3 571.16h.01M84.06 563.81h.01M80.35 569.92h.01M81.41 571.53h.01M85.4 566.3h.01M77.91 562.65h.01M85.24 571.87h.01M80.15 570.25h.01M82.45 567.09h.01M82.45 560.83h.01M86.07 566.06h.01M76.66 559.67h.01M79.62 567.4h.01M76.26 559.32h.01M81.4 570.9h.01M87.76 571.45h.01M90.21 575.45h.01M79.72 562.32h.01M83.19 574.05h.01M84.84 565.21h.01M89.81 569.71h.01M76.84 560.68h.01M84.26 558.38h.01M78.96 566.2h.01M84.92 575.73h.01M79.06 575.06h.01M79.01 560.99h.01M93 564.44h.01M80.37 561.13h.01M84.77 569.57h.01M78.53 566.09h.01M76.7 564.24h.01M86.17 560.31h.01M72.87 570.83h.01M95.03 567.25h.01M78.36 566.97h.01M82 567.42h.01M87.4 574.19h.01M78.9 565.22h.01M99.64 557.14h.01M82.7 562.19h.01M87.25 556.17h.01M79.51 566.15h.01M73.41 574.98h.01M77.81 571.08h.01M76.98 569.32h.01M77.5 568.88h.01M79.75 564.46h.01M83.22 567.36h.01M74.12 562.3h.01M83.25 576.22h.01M83.31 574.54h.01M85 561.51h.01M80.63 573.7h.01M81.94 567.13h.01M72.75 569.41h.01M79.98 568.63h.01M90.11 575.39h.01M75.26 569.8h.01M78.39 569.02h.01M90.95 573.8h.01M80.66 564.6h.01M79.34 570.57h.01M77.17 574.89h.01M80.53 561.53h.01M93.62 551.48h.01M78.65 567.74h.01M86.79 574.96h.01M82.45 569.11h.01M86.98 568.29h.01M84.68 572.02h.01M73.25 575.45h.01M82.4 559.66h.01M83.42 574.33h.01M83.84 566.63h.01M75.22 575.01h.01M81.86 568.41h.01M77.81 562.4h.01M87.56 572.91h.01M75.99 577.38h.01M78.92 562.56h.01M86.72 576.55h.01M77.88 561.3h.01M79.98 554.24h.01M80.74 577.36h.01M82.17 564.16h.01M84.98 565.56h.01M88.58 566.35h.01M93.58 566.39h.01M81.63 562.95h.01M82.67 562.76h.01M84.02 566.03h.01M76.83 568.02h.01M82.95 572.7h.01M88.39 570.68h.01M75.69 564.44h.01M82.79 561.45h.01M79.29 566.2h.01M79.76 569.51h.01M86.11 574.35h.01M73.49 574.51h.01M88.77 560.53h.01M96.72 565.13h.01M80.81 563.76h.01M76.7 574.71h.01M82.06 566.25h.01M87.84 562.96h.01M74.91 565.16h.01M75.57 572.48h.01M78.91 562.29h.01M77.43 556.84h.01M81.47 569.04h.01M84.34 567.07h.01M82.97 562.99h.01M80.56 569.35h.01M72.55 571.87h.01M81.32 568.75h.01M80.4 563.96h.01M74.91 571.9h.01M79.04 563.84h.01M75.72 573.9h.01M80.95 574.6h.01M80.29 561.54h.01M86 570.31h.01M76.17 566.64h.01M74.13 573.29h.01M77.71 571.24h.01M82.08 566.93h.01M82.79 567h.01M72.78 566.02h.01M72.79 572.85h.01M84.6 565.03h.01M84.4 569.88h.01M86.68 563h.01M80.56 562.66h.01M75.99 576.43h.01M83.54 572.97h.01M75.34 556.61h.01M87.51 573.74h.01M75.67 576.33h.01M79.19 572.03h.01M77.06 555.93h.01M78.37 569.56h.01M82.19 564.26h.01M78.91 561.83h.01M78.89 568.95h.01M83.18 561.7h.01M80.85 568.41h.01M73.94 572.65h.01M92.69 572.37h.01M85.4 574.66h.01M79.57 574.12h.01M75.2 569.49h.01M84.93 576.06h.01M78.55 566.75h.01M83.41 567.98h.01M81.28 573.12h.01M75.48 573.54h.01M82.84 566.91h.01M80.11 573.91h.01M81.64 561.88h.01M85.9 570.75h.01M83.2 562.77h.01M73.29 573.72h.01M89.4 570.57h.01M79.16 565.83h.01M79.79 575.59h.01M75.78 574.55h.01M75.82 571.84h.01M89.2 564.37h.01M86.21 568.41h.01M74.39 569.61h.01M84.53 564.31h.01M78.69 565.16h.01M75.48 567.24h.01M85.67 565.58h.01M88.36 566.25h.01M75.99 574.65h.01M89.38 564.68h.01M84.14 561.72h.01M77.8 566.28h.01M84.92 561.19h.01M77.13 564.47h.01M81.04 561.34h.01M81.76 559.75h.01M85.72 560.85h.01M88.37 563.6h.01M73.44 571.19h.01M93.35 571.91h.01M84.61 561.6h.01M86.85 569.24h.01M80.37 576.43h.01M75.04 574.77h.01M85.69 564.85h.01M81.18 569.08h.01M84.1 562.82h.01M78.92 568.97h.01M80.58 568.57h.01M81.99 567.34h.01M77.22 574.39h.01M76.31 566.61h.01M74.8 561.85h.01M83.24 568.2h.01M79.55 571.05h.01M79.3 572.36h.01M91.87 570.45h.01M84.88 558.88h.01M88.85 569.66h.01M85.81 561.82h.01M75.02 564.72h.01M83.9 561.99h.01M75.9 573.92h.01M76.32 569.12h.01M74.7 558.68h.01M79.87 567.76h.01M85.59 573.52h.01M77.16 561.87h.01M79.82 569.39h.01M79.29 565.08h.01M74.09 564.23h.01M79.87 565.65h.01M90.94 566.86h.01M83.26 565.78h.01M79.23 562.86h.01M77.33 559.87h.01M73.72 570.92h.01M79.6 565.19h.01M84.99 565.26h.01M83.14 566.33h.01M86.53 573.92h.01M80.81 574.72h.01M83.58 577.35h.01M79.62 559.6h.01M81.73 569.8h.01M78.1 567.26h.01M78.69 561.28h.01M91.23 564.01h.01M73.63 559.4h.01M75.07 568.22h.01M89.7 571.87h.01M75.8 561.33h.01M73.33 567.97h.01M85.87 565.7h.01M81.39 556.07h.01M87.27 567.88h.01M84.6 574.08h.01M74.04 568.81h.01M81.5 564.14h.01M84.77 567.7h.01M79.41 574.36h.01M75.64 569.28h.01M87.2 556.03h.01M83.77 566.89h.01M87.24 569.46h.01M79.91 561.13h.01M98.89 564.23h.01M78.35 564.31h.01M78.47 569.69h.01M78.73 571.86h.01M78.51 566.22h.01M76.18 570.2h.01M82.94 562.84h.01M78.36 574.54h.01M85.87 567.84h.01M75.79 575.52h.01M77.59 570.55h.01M76.66 572.36h.01M91.38 569.35h.01M73.12 567.42h.01M79.73 566.38h.01M87.6 575.03h.01M92.96 571.42h.01M84.57 563.83h.01M76.59 573.62h.01M81.27 562.01h.01M76.7 550.84h.01M80.34 561.45h.01M80.03 561.65h.01M74.53 565.49h.01M97.86 561.65h.01M72.91 565.36h.01M87.03 572.99h.01M84.73 566.58h.01M81.16 564.03h.01M79.22 563.83h.01M92.48 570.7h.01M75.64 567.81h.01M77.52 575.39h.01M80.17 564.81h.01M84.62 570.25h.01M76.06 564.02h.01M81.24 559.09h.01" stroke="#222" stroke-opacity="0.23" stroke-width="1.0" stroke-linecap="round" fill="none"/>
<path d="M98.76 562.74h.01M102.83 568.25h.01M109.71 552.2h.01M101.26 542.79h.01M99.46 546.9h.01M107.67 547.01h.01M108.21 555.4h.01M106.62 569.3h.01M107.63 557h.01M97.01 557.76h.01M106.76 548.12h.01M98.32 554.1h.01M105.07 547.62h.01M108.4 561.04h.01M97.82 552.29h.01M97.96 565.1h.01M103.13 565.12h.01M105.03 568.61h.01M98.18 565.21h.01M102.5 544.11h.01M106.79 548.68h.01M105.9 542.93h.01M100.12 543.92h.01M102.79 565.48h.01M105.75 548.66h.01M105.21 545.74h.01M108.73 557.92h.01M99.6 548.77h.01M106.49 546.31h.01M106.28 560.84h.01M103.59 567.02h.01M98.31 551.5h.01M99.31 549.74h.01M105.51 563.2h.01M95.75 553.31h.01M104.92 544.78h.01M107.89 547.64h.01M103.71 565.52h.01M103.5 544.35h.01M106.46 557.94h.01M103.47 545.65h.01M105.39 545.64h.01M97.28 554.94h.01M104.12 562.84h.01M97.94 550.35h.01M98.79 565.74h.01M107.81 547.14h.01M106.85 551.19h.01M102.98 566.19h.01M97.74 551.03h.01M99.82 547.89h.01M109.07 565.92h.01M107.88 547.11h.01M106.4 558.35h.01M101.1 546.33h.01M102.07 564.44h.01M105.17 567.08h.01M96.48 561.57h.01M101.23 569.73h.01M96.96 549.97h.01M105.08 566.54h.01M106.13 552.19h.01M105.86 549h.01M104.69 567.38h.01M98.79 552.11h.01M109.42 556.16h.01M107.27 555.75h.01M98.24 555.89h.01M106.3 554.95h.01M96.5 554.3h.01M106.02 560.58h.01M100.6 566.95h.01M107.62 544.05h.01M97.75 565.8h.01M107.97 552.14h.01M99.37 541.27h.01M102.09 546.08h.01M105.16 568.09h.01M98.28 567.06h.01M96.93 561.27h.01M96.63 554.33h.01M107.2 562.73h.01M97.9 561.7h.01M96.55 547.23h.01M100.93 543.64h.01M97.76 567.65h.01M108.48 555.19h.01M97.23 562.31h.01M103.64 543.94h.01M107.49 558.22h.01M107.4 549.78h.01M98.19 563.68h.01M103.37 563.7h.01M106.91 557.46h.01M97.47 547.89h.01M96.81 548.62h.01M95.45 551.43h.01M97.24 543.68h.01M99.71 574.87h.01" stroke="#444" stroke-opacity="0.17" stroke-width="1.0" stroke-linecap="round" fill="none"/>
</g>
<rect x="71.6" y="528.8" width="46.7" height="49.5" fill="none" stroke="#a2a2a2" stroke-width="0.9"/>
<line x1="69.9" y1="535.23" x2="71.6" y2="535.23" stroke="#666" stroke-width="0.7"/>
<line x1="77.67" y1="578.3" x2="77.67" y2="580" stroke="#666" stroke-width="0.7"/>
<line x1="69.9" y1="547.12" x2="71.6" y2="547.12" stroke="#666" stroke-width="0.7"/>
<line x1="88.88" y1="578.3" x2="88.88" y2="580" stroke="#666" stroke-width="0.7"/>
<line x1="69.9" y1="558.5" x2="71.6" y2="558.5" stroke="#666" stroke-width="0.7"/>
<line x1="99.62" y1="578.3" x2="99.62" y2="580" stroke="#666" stroke-width="0.7"/>
<line x1="69.9" y1="570.38" x2="71.6" y2="570.38" stroke="#666" stroke-width="0.7"/>
<line x1="110.83" y1="578.3" x2="110.83" y2="580" stroke="#666" stroke-width="0.7"/>
<rect x="71.8" y="558.2" width="22" height="19.8" fill="none" stroke="#000" stroke-width="1.3"/>
<text x="73.4" y="555.8" font-size="12" text-anchor="start" fill="#000">84%</text>
<clipPath id="cp20"><rect x="128.6" y="409.6" width="46.3" height="48.5"/></clipPath>
<g clip-path="url(#cp20)" filter="url(#bl)">
<ellipse cx="138.15" cy="449.4" rx="14.32" ry="13.16" fill="url(#rg)" opacity="0.22"/>
<rect x="128.1" y="439.8" width="21.7" height="18.8" fill="#555" opacity="0.17"/>
<path d="M130.8 448.26h.01M141.87 444.44h.01M141.49 445.58h.01M140.15 442.33h.01M139.15 455.81h.01M143.67 448.51h.01M134.13 449.41h.01M139.91 441.35h.01M139.83 443.22h.01M142.57 448.1h.01M136.99 455.52h.01M140.63 456.99h.01M133.66 445.42h.01M139.78 454.71h.01M144.84 449.9h.01M131.89 453.18h.01M140.74 446.91h.01M145.86 448.48h.01M139.03 452.62h.01M150.84 448.76h.01M135.57 448.16h.01M144.29 448.17h.01M138.32 455.32h.01M134.5 449.28h.01M139.74 437.98h.01M131.83 447.29h.01M131.51 453.81h.01M140.06 444.48h.01M134.94 449.82h.01M140.46 454.77h.01M131.17 447.54h.01M144.91 451.52h.01M135.63 446.66h.01M134.83 457.49h.01M131.79 454.47h.01M136.17 444.6h.01M137.89 441.38h.01M134.33 454.7h.01M134.17 443.05h.01M144.09 450.7h.01M133.23 444.1h.01M145.59 451.56h.01M142.3 450.3h.01M131.42 449.2h.01M140.9 452.22h.01M141.52 446.55h.01M143.07 447.21h.01M134.21 450.26h.01M150.93 451.93h.01M134.07 439.1h.01M139.06 450.76h.01M133.9 442.17h.01M139.07 453.46h.01M138.48 448.97h.01M140.82 444.45h.01M137.15 457.12h.01M143.44 450.22h.01M131.49 450.65h.01M137.77 454.99h.01M135.69 450.95h.01M143 456.89h.01M143.57 446.59h.01M143.34 447.97h.01M149.49 446.49h.01M134.05 449.2h.01M134.13 451.78h.01M130.03 450.15h.01M129.48 457.77h.01M137.27 442.3h.01M140.04 445.32h.01M136.05 446.02h.01M148.72 455.25h.01M131.28 442.67h.01M144.18 441.66h.01M131.96 449.11h.01M140.03 450.49h.01M131.62 447.99h.01M139.43 437.75h.01M138.55 447.87h.01M148.38 449.85h.01M128.92 446h.01M135.45 446.1h.01M130.73 455.82h.01M136.58 442.16h.01M148.99 445.87h.01M134.1 447.55h.01M135.22 453.65h.01M150.26 439.85h.01M140.74 450.75h.01M145.08 450.19h.01M149.44 444.93h.01M134.54 446.59h.01M141.03 451.45h.01M147.49 448.42h.01M140.88 444.89h.01M142.69 454.76h.01M137.69 437.43h.01M147.76 448.31h.01M131.29 446.28h.01M140.84 452.94h.01M143.97 447.76h.01M135.85 446.07h.01M138.72 445.38h.01M134.7 444.59h.01M141.64 452.71h.01M140.21 442.26h.01M151.31 453.86h.01M135.07 441.5h.01M135.86 446.91h.01M143.43 448.29h.01M131.02 442.93h.01M141.27 453.98h.01M142.89 448.49h.01M141.81 441.01h.01M136.65 443.07h.01M136.95 446.64h.01M132.38 453.16h.01M137.65 456.46h.01M138.57 447.6h.01M132.33 445.38h.01M141.57 449.82h.01M149.29 452.28h.01M134.29 443.84h.01M135.39 455.41h.01M145.68 433.06h.01M130.85 449.2h.01M141.18 450.36h.01M135.35 448.1h.01M134.54 448.9h.01M144.77 443.46h.01M136.23 450.7h.01M147.88 444.82h.01M142.78 447.89h.01M142.32 447.98h.01M142.9 453.56h.01M150.02 444.33h.01M143.71 452.48h.01M129.37 456.87h.01M133.15 444.48h.01M148.55 448.54h.01M136.92 443.34h.01M144.93 436.66h.01M133.95 452.02h.01M137.44 449.72h.01M137.91 450.1h.01M135.58 443.52h.01M138.17 456.38h.01M142.05 450.31h.01M133.8 449.68h.01M148.95 448.36h.01M137.93 444.84h.01M152.3 448.67h.01M143.28 438.56h.01M142.13 451.36h.01M132.37 448.75h.01M136.86 454.23h.01M140.56 447.4h.01M141.43 450.12h.01M140.09 451.3h.01M139.46 447.8h.01M146.22 446.92h.01M133.85 444.52h.01M137.61 447.1h.01M136.7 449.31h.01M138.05 452.7h.01M136.14 446.08h.01M136.79 445.38h.01M139.84 443.4h.01M129.68 457.65h.01M140.35 446.73h.01M142.32 434.75h.01M141.73 446.15h.01M145.77 448.55h.01M148.13 444.7h.01M138.28 448.9h.01M146.09 454.17h.01M141.28 448.68h.01M136.65 452.77h.01M136.35 455.05h.01M136.58 443.04h.01M133.74 454.89h.01M142.11 449.37h.01M142.8 447.83h.01M138.05 449.65h.01M135.24 445.45h.01M136.2 456.4h.01M151.42 442.95h.01M131.14 443.89h.01M133.12 450.77h.01M136.52 446.63h.01M141.21 444.91h.01M134.56 452.89h.01M135.96 447.94h.01M152.1 448.35h.01M131.6 443.19h.01M145.46 454.59h.01M146.24 450.84h.01M144.39 450.18h.01M137.08 455.89h.01M149.92 451.3h.01M133.41 451.66h.01M130.28 449.56h.01M147.75 446.8h.01M139.93 454.55h.01M130.1 449.63h.01M144.79 447.25h.01M132.62 449.08h.01M145.84 451.72h.01M137.29 449.33h.01M136.26 457.2h.01M138.63 451.8h.01M141.42 453.62h.01M137.49 441.57h.01M148.12 448.6h.01M135.86 452.94h.01M135.22 452.28h.01M137.7 454.69h.01M133.71 445.95h.01M137.77 440.22h.01M138.93 435.07h.01M132.05 437.87h.01M135.22 455.35h.01M145.8 440.26h.01M130.5 446.27h.01M144.17 451.01h.01M133.69 442.1h.01M146.95 445.63h.01M139.2 445.94h.01M140.51 447.16h.01M140.4 454.66h.01M136.15 452.43h.01M143.75 449.64h.01M138.14 447.7h.01M141.14 451.49h.01M142.58 447.91h.01M136.55 453.28h.01M133.2 450.57h.01M140.72 444.41h.01M137.25 446.79h.01M138.13 445.43h.01M144.05 454.95h.01M141.9 453.33h.01M131.07 454.7h.01M144.6 452.02h.01M139.88 456.09h.01M138.61 451.34h.01M147.33 454.4h.01M145.61 451.46h.01M131.7 445.14h.01M135.34 452.87h.01M129.45 456.91h.01M142.76 453.36h.01M143.72 451.95h.01M144.77 444.43h.01M129.68 448.57h.01M140.03 437.9h.01M142.44 442.22h.01M135.34 450.16h.01M133.2 448.69h.01M141.99 447.65h.01M130.1 455.49h.01M129.88 447.76h.01M141.51 447.95h.01M135.6 445.02h.01M138.31 442.94h.01M143.48 444.35h.01M143.1 446.07h.01M132.25 456.29h.01M131.42 448.37h.01M139.65 452.49h.01M133.05 450.84h.01M144.73 454.36h.01M129.28 451.9h.01M141.24 451.76h.01M148.2 449.34h.01M151.34 446.37h.01M140.32 446.82h.01M139.9 450.26h.01M137.21 444.79h.01M141.22 453.15h.01M137.3 439.67h.01M131.37 448.35h.01M130.1 440.77h.01M137.43 437.62h.01M150.34 449.59h.01M131.35 451.99h.01M133.93 443.85h.01M143.36 453.39h.01M137.27 453.98h.01M130.61 453.44h.01M135.59 443.5h.01M131.66 453.53h.01M130.61 446.03h.01M136.82 434.53h.01M136.15 450.91h.01M137.54 448.07h.01M142.54 451.29h.01M134.81 449.75h.01M134.01 441.58h.01M152.4 454.48h.01M144.04 447.98h.01M148.59 456.88h.01M142.02 448.75h.01M153.94 445.54h.01M140.83 441.33h.01M135.93 449.19h.01M131.99 452.89h.01M150.76 446.8h.01M133.15 456.5h.01M142.13 453.15h.01M139.85 452.6h.01M139.31 449.34h.01M133.19 453.79h.01M137.71 452.11h.01M131.42 455.93h.01M147.25 455.33h.01M134.53 450.29h.01M140.61 448.86h.01M154.96 447.59h.01M142.81 447.97h.01M137.89 451.73h.01M139.6 457.43h.01M131.4 449.73h.01M133.84 456.88h.01M141.68 448.29h.01M134.35 455.08h.01M132.76 448.55h.01M137.02 451.6h.01M149.01 452.97h.01M138.51 455.93h.01M141.67 455.59h.01M146.55 440.32h.01M129.44 451.26h.01M143.74 450.74h.01M132.71 453.97h.01M135.99 446.47h.01M134.69 448.65h.01M133.09 441.69h.01M142.89 450.81h.01M135.1 451.15h.01M142 450.29h.01M145.48 454.48h.01M138.33 445.99h.01M135.25 450.45h.01M133.97 441.67h.01M141.55 450.82h.01M147.29 448.01h.01M139.31 455.65h.01M143.78 453.02h.01M129.62 454.66h.01M131.08 451.26h.01M133.78 451.51h.01M142.07 451.67h.01M139.72 445.88h.01M141.44 439.95h.01M133.6 448.03h.01M151.4 451.19h.01M134.6 446.34h.01M135.92 452.93h.01M139.91 449.59h.01M139.98 456.61h.01M138.76 452.7h.01M133.39 444.63h.01M146.23 444.62h.01M137.07 450.98h.01M140.67 446.61h.01" stroke="#222" stroke-opacity="0.23" stroke-width="1.0" stroke-linecap="round" fill="none"/>
<path d="M153.46 432.1h.01M151.12 428.5h.01M152.74 438.71h.01M156.08 424.75h.01M159.22 446.32h.01M159.69 443.45h.01M142.44 427.29h.01M167.17 445.1h.01M160.85 422.69h.01M156.81 430.79h.01M145.19 420.24h.01M150.55 436.22h.01M155.48 442.11h.01M164.5 423.96h.01M147.24 428.62h.01M154.85 442.03h.01M168.74 431.04h.01M156.01 438.23h.01M136 449.41h.01M151.96 424.15h.01M158.98 433.71h.01M154.55 431.48h.01M153.04 438.37h.01M165.85 431.74h.01M161.2 437.65h.01M155.82 442.12h.01M138.55 435.65h.01M141.56 443.96h.01M160.49 446.96h.01M139.95 428.41h.01M145.99 440.55h.01M154.47 440.08h.01M150.83 438.9h.01M160.18 434.82h.01M140.34 452.99h.01M138.4 438.18h.01M158.1 444.89h.01M157.07 457.42h.01M164.37 429.78h.01M158.33 439.59h.01M165.8 441.11h.01M158.2 446.35h.01" stroke="#444" stroke-opacity="0.17" stroke-width="1.0" stroke-linecap="round" fill="none"/>
</g>
<rect x="128.1" y="409.1" width="47.3" height="49.5" fill="none" stroke="#a2a2a2" stroke-width="0.9"/>
<line x1="126.4" y1="415.54" x2="128.1" y2="415.54" stroke="#666" stroke-width="0.7"/>
<line x1="134.25" y1="458.6" x2="134.25" y2="460.3" stroke="#666" stroke-width="0.7"/>
<line x1="126.4" y1="427.42" x2="128.1" y2="427.42" stroke="#666" stroke-width="0.7"/>
<line x1="145.6" y1="458.6" x2="145.6" y2="460.3" stroke="#666" stroke-width="0.7"/>
<line x1="126.4" y1="438.8" x2="128.1" y2="438.8" stroke="#666" stroke-width="0.7"/>
<line x1="156.48" y1="458.6" x2="156.48" y2="460.3" stroke="#666" stroke-width="0.7"/>
<line x1="126.4" y1="450.68" x2="128.1" y2="450.68" stroke="#666" stroke-width="0.7"/>
<line x1="167.83" y1="458.6" x2="167.83" y2="460.3" stroke="#666" stroke-width="0.7"/>
<rect x="128.3" y="439.8" width="21.5" height="18.5" fill="none" stroke="#000" stroke-width="1.3"/>
<text x="129.9" y="437.4" font-size="12" text-anchor="start" fill="#000">96%</text>
<clipPath id="cp21"><rect x="128.6" y="469" width="46.3" height="48.5"/></clipPath>
<g clip-path="url(#cp21)" filter="url(#bl)">
<ellipse cx="138.15" cy="509" rx="14.32" ry="12.88" fill="url(#rg)" opacity="0.18"/>
<rect x="128.1" y="499.6" width="21.7" height="18.4" fill="#555" opacity="0.17"/>
<path d="M144.06 507.52h.01M146.15 508.17h.01M133.75 513.35h.01M143.72 504.31h.01M142.19 506.83h.01M140.93 515.17h.01M145.22 503.59h.01M130.98 504.88h.01M132.37 512.9h.01M151.31 503.22h.01M136.73 508.63h.01M144.26 514.41h.01M137.38 509.91h.01M135.09 505.55h.01M135.23 509.45h.01M143.48 502.9h.01M143.63 500.14h.01M145.02 514.9h.01M148.38 500.28h.01M142.48 505.75h.01M141.13 514.98h.01M132.64 507.88h.01M130.61 505.71h.01M142.44 516.51h.01M130.17 513.36h.01M133.82 497.91h.01M146.04 509.95h.01M141.78 511.14h.01M142.86 504.44h.01M141.21 507.61h.01M138.57 505.53h.01M144.43 514.77h.01M140.56 515.43h.01M134 507.9h.01M138.2 515.51h.01M141.16 511.63h.01M133.43 515.1h.01M145.96 503.18h.01M136.43 513.71h.01M143.9 501.48h.01M133.72 510.73h.01M136.71 511.29h.01M133.31 504.77h.01M141.07 511.03h.01M131.8 514.45h.01M141.24 509.57h.01M139.05 513.96h.01M140.08 508.81h.01M138.22 516.51h.01M148.42 494.63h.01M133.36 496.21h.01M134.04 507.1h.01M132.34 511.87h.01M139.25 511.07h.01M129.2 508.07h.01M141.74 501.16h.01M159.57 505.44h.01M137.24 512.47h.01M147.19 512.24h.01M136.3 509.22h.01M141.64 509.98h.01M142.5 505.58h.01M140.45 506.94h.01M134.17 508.43h.01M144.67 509.84h.01M139.93 509.44h.01M138.48 508.22h.01M136.38 497.9h.01M139.84 505.57h.01M134.61 504.4h.01M141.98 508.24h.01M140.04 510.65h.01M141.06 510.25h.01M143.6 514.9h.01M143.38 510.98h.01M145.3 506.81h.01M131.24 508.48h.01M139.55 516.91h.01M140.7 506.02h.01M142.01 511.91h.01M140.14 513.69h.01M133.67 514.9h.01M142.65 511.97h.01M135.13 498.79h.01M129.59 503.52h.01M134.84 516.5h.01M133.78 509.27h.01M140.08 498.34h.01M134.68 512.79h.01M136.93 513.19h.01M137.21 510.83h.01M137.73 505.33h.01M143.93 513.3h.01M134.57 509.71h.01M145.65 515.73h.01M134.66 511.45h.01M135.15 497.1h.01M137.51 500.44h.01M133.34 511.04h.01M131.79 505.95h.01M129.19 502.99h.01M140.98 513.06h.01M137.65 505.98h.01M131.03 511.36h.01M134.41 504.98h.01M139.15 511.76h.01M138.27 513.49h.01M144.69 509.77h.01M132.44 515.22h.01M142.15 504.74h.01M133.75 508.36h.01M143.91 510.08h.01M149.6 502.79h.01M144.89 505.33h.01M136.77 507.53h.01M147.36 516.78h.01M142.16 511.81h.01M140.53 502.58h.01M144.7 515.16h.01M133.91 512.16h.01M143 511.68h.01M142.15 503.38h.01M134.8 511.02h.01M142.61 514.98h.01M132.76 505.22h.01M134.85 506.26h.01M148.3 516.74h.01M139.01 516.29h.01M135.72 510.34h.01M138.64 509.74h.01M134.22 502.16h.01M142.45 507.01h.01M133.53 504.12h.01M139.4 504.73h.01M147.56 509.67h.01M141.19 501.99h.01M150.9 507.73h.01M130.24 509.23h.01M132.29 509.87h.01M136.07 510.92h.01M138.29 506.99h.01M142.18 512.68h.01M132.85 512.67h.01M132.29 505.62h.01M142.27 514.62h.01M133.07 511.2h.01M136.96 499.55h.01M142.39 510.11h.01M140.05 509.61h.01M140.69 508.48h.01M138 506.23h.01M136.75 512.12h.01M139.85 507.23h.01M134.91 506.2h.01M139.55 514.15h.01M142.09 499.03h.01M134.93 513.99h.01M138.29 515.09h.01M141.64 511.43h.01M143.01 516.58h.01M136.4 505.43h.01M130.67 511.43h.01M147.27 511.27h.01M137.64 511.6h.01M133.25 511.35h.01M146.91 510.91h.01M135.09 511.05h.01M145.16 510.79h.01M145.33 510.21h.01M138.06 505.78h.01M140 512.56h.01M145.41 514.69h.01M135.85 501.28h.01M141.56 515.3h.01M133.86 511.23h.01M135.77 509.65h.01M135.09 510.83h.01M140.51 505.42h.01M143.12 502.1h.01M141.69 504.56h.01M141.44 508.95h.01M138.79 508.69h.01M148.23 511.46h.01M129.02 503.88h.01M140.5 510.49h.01M142.5 516.1h.01M138.03 503.56h.01M142.57 504.55h.01M138.39 504.08h.01M130.26 507.6h.01M144.89 511.3h.01M153.46 513.01h.01M143.59 514.91h.01M138.68 508.12h.01M138.42 512.64h.01M144.19 504.52h.01M139.02 513.45h.01M140.01 507.56h.01M140.56 505.95h.01M135.55 500.77h.01M136.19 515.24h.01M138.81 501.63h.01M134.32 512.48h.01M142.3 504.83h.01M144.29 509.94h.01M134.51 508.07h.01M141.7 510.07h.01M148.17 498.52h.01M137.62 508.17h.01M145.1 509.14h.01M146.55 507.15h.01M130.23 505.03h.01M135.41 510.01h.01M137.78 512.96h.01M136.08 509.29h.01M153.22 502.31h.01M140.35 504.55h.01M128.9 504.47h.01M150.31 505.75h.01M146.89 513.16h.01M145.66 503.63h.01M157.45 506.31h.01M132.79 511.57h.01M137.41 508.85h.01M129.05 514.89h.01M155.63 515.14h.01M143.39 506.34h.01M137.28 515.39h.01M134.85 505.93h.01M134.82 511.69h.01M142.75 512.49h.01M139.06 503.69h.01M138.31 509.19h.01M134.68 510.76h.01M145.52 507.22h.01M133.1 509.74h.01M141.28 505.59h.01M142.8 510.15h.01M133.69 504.25h.01M146.92 509.4h.01M135.73 507.24h.01M142.85 505.45h.01M139.23 511.53h.01M131.97 515.71h.01M146.7 516.29h.01M154.43 510.55h.01M131.95 508.75h.01M132.92 514.9h.01M141.09 514.25h.01M141.32 513.22h.01M131.56 508.63h.01M142.47 503.05h.01M135.47 511.69h.01M135.95 503.32h.01M139.61 506.55h.01M140.97 504.04h.01M143.42 510.62h.01M143.34 496.52h.01M135.64 504.11h.01M138.78 515.3h.01M139.78 507.52h.01M140.74 501.71h.01M139.56 503.83h.01M146.4 507.7h.01M136.48 515.21h.01M140.49 503.63h.01M133.22 509.64h.01M143.88 507.92h.01M131.95 505.22h.01M137.33 504.8h.01M138.34 514.15h.01M134.68 504.9h.01M139.17 507.4h.01M131.87 507.82h.01M140.96 502.38h.01M132.05 509.37h.01M134.56 511.12h.01M146.75 516.64h.01M147.69 515.76h.01M134.24 508.51h.01M146.22 509.5h.01M132.39 504.73h.01M131.26 516.75h.01M132.24 505.74h.01M131.25 514.58h.01M132.69 507.28h.01M133.12 514.32h.01M143.17 511.43h.01M154.54 511.04h.01M151.31 507.26h.01M141.7 504.84h.01M135.56 516.39h.01M137.81 512.7h.01M141.36 513.75h.01M142.89 504.42h.01M137.2 506.3h.01M132.11 512.42h.01M129.56 508.45h.01M149.98 512.84h.01M140.89 499.01h.01M135.48 511.33h.01M137.98 509.88h.01M137.39 506.13h.01M146.91 509.66h.01M130.81 508.39h.01M141.79 514.91h.01M141.77 505.6h.01M137.52 506.87h.01M137.66 506.46h.01M147.02 512.77h.01M144.38 516.36h.01M147.84 511.97h.01M130.15 507.37h.01M145.31 508.48h.01M136.54 510.63h.01M140.42 501.76h.01M150.25 510.15h.01M132.73 509.28h.01M137.3 503.91h.01M144.61 499.35h.01M131.4 513.22h.01M143.29 514.44h.01M133.29 505.17h.01M132.82 508.49h.01M138.9 509.67h.01M142.11 510.5h.01M139.29 509.61h.01M150.01 501.33h.01M146.57 509.34h.01M143.44 505.26h.01M137.4 508.54h.01M148.27 512.72h.01" stroke="#222" stroke-opacity="0.23" stroke-width="1.0" stroke-linecap="round" fill="none"/>
<path d="M129.95 493.78h.01M145.96 486.78h.01M154.15 481.7h.01M142.29 477.54h.01M143.75 488.81h.01M153.31 506.34h.01M153.38 497.13h.01M152.23 494.35h.01M153.57 496.45h.01M168.61 502.33h.01M150.1 489.65h.01M147.26 505.64h.01M154.32 489.25h.01M150.3 495.49h.01M150.85 489.12h.01M144.93 502.81h.01M161.72 515.85h.01M145.32 490.39h.01M145.61 498.48h.01M143.3 496.17h.01M144.66 484.73h.01M147.68 487.98h.01M146.55 492.26h.01M157.04 493.02h.01M144.9 490.31h.01M154.93 495.31h.01M162.95 502.77h.01M148.45 491.97h.01M144.14 489.85h.01M143.14 497.44h.01M152.78 491.36h.01M159.45 484.37h.01M138.8 491.32h.01M142.37 489.05h.01M163.59 511.36h.01M164.2 488.63h.01M152.67 494.49h.01M142.75 503.06h.01M151.99 509.64h.01M156.29 499.46h.01M157.78 509.55h.01M151.99 496.21h.01M159.44 499.55h.01M158.13 514.81h.01M168.52 497.69h.01" stroke="#444" stroke-opacity="0.17" stroke-width="1.0" stroke-linecap="round" fill="none"/>
</g>
<rect x="128.1" y="468.5" width="47.3" height="49.5" fill="none" stroke="#a2a2a2" stroke-width="0.9"/>
<line x1="126.4" y1="474.94" x2="128.1" y2="474.94" stroke="#666" stroke-width="0.7"/>
<line x1="134.25" y1="518" x2="134.25" y2="519.7" stroke="#666" stroke-width="0.7"/>
<line x1="126.4" y1="486.81" x2="128.1" y2="486.81" stroke="#666" stroke-width="0.7"/>
<line x1="145.6" y1="518" x2="145.6" y2="519.7" stroke="#666" stroke-width="0.7"/>
<line x1="126.4" y1="498.2" x2="128.1" y2="498.2" stroke="#666" stroke-width="0.7"/>
<line x1="156.48" y1="518" x2="156.48" y2="519.7" stroke="#666" stroke-width="0.7"/>
<line x1="126.4" y1="510.08" x2="128.1" y2="510.08" stroke="#666" stroke-width="0.7"/>
<line x1="167.83" y1="518" x2="167.83" y2="519.7" stroke="#666" stroke-width="0.7"/>
<rect x="128.3" y="499.6" width="21.5" height="18.1" fill="none" stroke="#000" stroke-width="1.3"/>
<text x="129.9" y="497.2" font-size="12" text-anchor="start" fill="#000">95%</text>
<clipPath id="cp22"><rect x="128.6" y="529.3" width="46.3" height="48.5"/></clipPath>
<g clip-path="url(#cp22)" filter="url(#bl)">
<ellipse cx="138.15" cy="569.55" rx="14.32" ry="12.53" fill="url(#rg)" opacity="0.16"/>
<rect x="128.1" y="560.4" width="21.7" height="17.9" fill="#555" opacity="0.17"/>
<path d="M148.98 571.34h.01M136.36 574.02h.01M132.31 575.12h.01M137.51 568.93h.01M138.47 566.15h.01M136.01 572.26h.01M135.11 573.02h.01M134.35 572.41h.01M134.8 566.96h.01M141.93 569.78h.01M141.07 568.17h.01M143.39 569.82h.01M137.49 563.37h.01M138.05 573.9h.01M146.26 571.82h.01M148.16 574.72h.01M149.45 568.67h.01M140.74 571.61h.01M141.6 572.59h.01M142.18 574.49h.01M137.03 562.73h.01M144.66 571.54h.01M139.36 572.71h.01M134.07 571.06h.01M141.72 568.97h.01M144.04 566.15h.01M139.16 567.68h.01M143.41 569.53h.01M149.33 573.87h.01M141.51 569.42h.01M136.52 576.53h.01M136.18 567.6h.01M134.79 572.44h.01M149.75 570.44h.01M137.98 570.97h.01M134.32 575.74h.01M144.94 571.93h.01M133.86 573.37h.01M144.11 569.54h.01M136.4 568.8h.01M135.05 567.3h.01M140.77 575.16h.01M141.94 566.06h.01M151.33 576.43h.01M132.4 562.08h.01M137.48 566.65h.01M144.3 564.36h.01M136.21 560.01h.01M137.44 572.34h.01M133.98 572.84h.01M140.16 560.72h.01M138.16 568.39h.01M132.94 575.15h.01M140.61 564.51h.01M149.29 574.9h.01M133.78 570.8h.01M134.88 555.77h.01M130.13 574.83h.01M146.82 565.2h.01M136.43 574.33h.01M144.09 571.74h.01M145.64 564.88h.01M138.68 572.54h.01M133.83 575.37h.01M135.93 567.7h.01M138.16 563.41h.01M141.84 571.44h.01M138.05 568.66h.01M136.53 572.98h.01M137.41 567.01h.01M129.77 571.14h.01M144.89 566.67h.01M139.99 568.06h.01M139.53 565.91h.01M136.5 566.67h.01M137.84 569h.01M141.87 575.33h.01M142.88 571.82h.01M145.36 566.61h.01M135.59 568.37h.01M131.63 572.41h.01M144.24 570.5h.01M137.68 567.5h.01M130.68 573.91h.01M133.34 569.61h.01M150.43 575.71h.01M144.2 569.08h.01M140.16 574.54h.01M148.81 575.96h.01M149.9 576.71h.01M149.7 576.76h.01M141.14 562.72h.01M136.34 572.87h.01M136.11 576.29h.01M137.81 570.98h.01M137.97 565.97h.01M138.94 574.36h.01M137.28 569.48h.01M148.46 569.03h.01M135.37 571.73h.01M139.38 571.26h.01M148.64 570.42h.01M149.06 571.71h.01M141.84 565.79h.01M139.92 568.68h.01M132.59 565.6h.01M135.51 563.46h.01M135.81 575.31h.01M148.1 572.99h.01M140.65 569.51h.01M140.17 565.21h.01M139.01 562.91h.01M145.63 565.9h.01M147.05 568.64h.01M137.42 559.14h.01M137.32 563.47h.01M139.75 572.37h.01M148.16 567.45h.01M147.1 569.01h.01M137.18 566.06h.01M134.45 569.42h.01M147.21 567.12h.01M134.93 569.05h.01M137.81 563.76h.01M134.91 557.41h.01M134.85 574.98h.01M136.75 571.48h.01M145.61 561.18h.01M143.46 575.92h.01M134.04 575.14h.01M141.98 574h.01M143.8 572.8h.01M129.6 566.57h.01M132.81 567.85h.01M138.3 567.21h.01M132.45 565.51h.01M141.84 569.1h.01M141.57 565.87h.01M131.99 561.7h.01M142.56 566.47h.01M138.09 568.8h.01M146.15 565.86h.01M130.44 569.43h.01M132.23 570.27h.01M129.87 569.48h.01M141.41 562.48h.01M134.62 572.61h.01M130.61 569.67h.01M143.42 572.23h.01M134.31 563.03h.01M138.94 572.06h.01M138.49 572.41h.01M148.82 570.04h.01M153.9 574.25h.01M147.9 560.54h.01M131.56 569.36h.01M135.31 570.55h.01M142.05 568.02h.01M144.93 563.02h.01M136.91 567.82h.01M137.16 573.38h.01M132.05 574.55h.01M142.46 571.6h.01M144.36 567.88h.01M142.55 576.71h.01M136.4 572.35h.01M146.09 569.58h.01M140.62 568.17h.01M135.58 574.52h.01M145.46 571.47h.01M137.65 569.53h.01M134.66 570.44h.01M139.44 570.25h.01M137.59 570.5h.01M139.74 565.73h.01M141.21 572.95h.01M148.96 575.37h.01M143.59 574.24h.01M145.34 571.91h.01M141.18 573.63h.01M137.81 562.28h.01M140.95 576.1h.01M138.1 575.3h.01M144.39 566.76h.01M130.53 562.34h.01M145.86 575.57h.01M141.21 558.38h.01M134.32 570.25h.01M133.57 564.37h.01M143.83 568.19h.01M139.7 575.26h.01M137.83 571.45h.01M139.46 573.82h.01M134.5 565.98h.01M135.36 565.21h.01M142.52 563.6h.01M142.64 574.89h.01M132.77 568.66h.01M148.21 571h.01M140.58 576.34h.01M138.64 564.44h.01M134.83 566.39h.01M136.8 571.25h.01M146.24 564.53h.01M142.37 574.56h.01M134.54 569.48h.01M135.92 567.83h.01M138.27 570.62h.01M142.01 567.27h.01M140.61 573.57h.01M136.01 568.88h.01M140.43 563.37h.01M146.23 559.02h.01M134.34 564.02h.01M132.07 560.71h.01M143.44 566.85h.01M139.22 571.04h.01M149.25 572.61h.01M139.56 564.06h.01M131.33 562.18h.01M140.11 563.48h.01M142.2 574.74h.01M139.71 576.25h.01M136.81 565.63h.01M145.55 575.3h.01M137.1 561.22h.01M144.02 571.75h.01M134.52 567.4h.01M133.53 563.89h.01M147.18 562.06h.01M148.75 559.16h.01M139.24 573.19h.01M140.77 574.16h.01M133.51 556.11h.01M141.81 566.19h.01M141.67 577.11h.01M148.88 571.6h.01M130.86 568.28h.01M135.52 563.29h.01M139.17 567.47h.01M134.92 570.77h.01M147.54 572.1h.01M138.02 566.42h.01M131.74 572.54h.01M139.02 566.85h.01M147.24 572.92h.01M142.66 563.22h.01M137.83 571.95h.01M145.66 564.38h.01M133.22 565.37h.01M134.6 570.13h.01M147.46 575.05h.01M131.34 562.41h.01M146.38 573.07h.01M130.05 575.76h.01M138.21 570.97h.01M134.28 557.95h.01M149.23 563.32h.01M140.39 561.28h.01M131.11 558.87h.01M141.85 568.08h.01M132.03 566.26h.01M134.63 575.22h.01M140.47 573.75h.01M139.66 577.17h.01M141.74 566.12h.01M143.64 575.47h.01M147.02 573.11h.01M144.69 568.51h.01M147.14 574.06h.01M143.05 570.1h.01M137.2 570.25h.01M140.43 573.53h.01M130.11 570.1h.01M151.64 572.35h.01M144.6 568.66h.01M129.69 571.03h.01M138.94 574.59h.01M152.06 573.08h.01M134.99 576.59h.01M140.8 573.05h.01M150.73 577.45h.01M132.78 571.07h.01M132.8 569.4h.01M137.16 567.63h.01M137.06 561.77h.01M141.03 563.37h.01M133.7 573.25h.01M138.38 569.17h.01M147.95 575.87h.01M133.7 569.93h.01M129.21 571.97h.01M141.98 561.98h.01M132.98 562.56h.01" stroke="#222" stroke-opacity="0.23" stroke-width="1.0" stroke-linecap="round" fill="none"/>
<path d="M158.09 554.85h.01M158.11 563.34h.01M159.32 554.99h.01M150.25 559.86h.01M151.66 557.83h.01M144.77 565.64h.01M149.6 572.41h.01M154.06 546.81h.01M162.32 553.95h.01M144.63 551.57h.01M141.85 555.99h.01M156.74 552.15h.01M143.57 563.91h.01M153.5 555.26h.01M153.56 549.88h.01M150.87 554.56h.01M164.89 558.55h.01M149.13 535.66h.01M137.76 538.35h.01M137.74 559.49h.01M157.72 555.74h.01M157.28 562.51h.01M157.27 542.36h.01M152.01 559.16h.01M149.84 560.14h.01M140.76 558.69h.01M153.03 561.88h.01M148.78 558.61h.01M158.91 565.05h.01M133.63 573.91h.01M144.23 564.54h.01M144.63 564.98h.01M154.12 561.63h.01M155.17 564.03h.01M157.35 565.96h.01M154.18 562.92h.01M147.41 541.27h.01M151.23 573.24h.01M153.36 556.65h.01M151.57 571.19h.01M143.06 577.25h.01M164.24 547.49h.01M146.81 559.33h.01M154.04 554.85h.01M139.95 559.79h.01" stroke="#444" stroke-opacity="0.17" stroke-width="1.0" stroke-linecap="round" fill="none"/>
</g>
<rect x="128.1" y="528.8" width="47.3" height="49.5" fill="none" stroke="#a2a2a2" stroke-width="0.9"/>
<line x1="126.4" y1="535.23" x2="128.1" y2="535.23" stroke="#666" stroke-width="0.7"/>
<line x1="134.25" y1="578.3" x2="134.25" y2="580" stroke="#666" stroke-width="0.7"/>
<line x1="126.4" y1="547.12" x2="128.1" y2="547.12" stroke="#666" stroke-width="0.7"/>
<line x1="145.6" y1="578.3" x2="145.6" y2="580" stroke="#666" stroke-width="0.7"/>
<line x1="126.4" y1="558.5" x2="128.1" y2="558.5" stroke="#666" stroke-width="0.7"/>
<line x1="156.48" y1="578.3" x2="156.48" y2="580" stroke="#666" stroke-width="0.7"/>
<line x1="126.4" y1="570.38" x2="128.1" y2="570.38" stroke="#666" stroke-width="0.7"/>
<line x1="167.83" y1="578.3" x2="167.83" y2="580" stroke="#666" stroke-width="0.7"/>
<rect x="128.3" y="560.4" width="21.5" height="17.6" fill="none" stroke="#000" stroke-width="1.3"/>
<text x="129.9" y="558" font-size="12" text-anchor="start" fill="#000">95%</text>
<clipPath id="cp30"><rect x="184.4" y="409.6" width="46.3" height="48.5"/></clipPath>
<g clip-path="url(#cp30)" filter="url(#bl)">
<ellipse cx="194.15" cy="450" rx="14.59" ry="12.32" fill="url(#rg)" opacity="0.62"/>
<rect x="183.9" y="441" width="22.1" height="17.6" fill="#555" opacity="0.34"/>
<ellipse cx="209" cy="450.8" rx="6" ry="8.8" fill="url(#rg)" opacity="0.3"/>
<path d="M195.68 446.09h.01M191.67 444.25h.01M204.84 447.66h.01M192.87 447.43h.01M187.58 442.69h.01M195.56 454.06h.01M196.01 448.33h.01M200.61 447.49h.01M193.93 449.38h.01M192.15 449.9h.01M202.65 454.51h.01M195.02 453.02h.01M196.88 450.01h.01M197.41 442.5h.01M191.24 452.78h.01M205.54 442.92h.01M186.89 457.33h.01M191.04 447.95h.01M189.42 449.28h.01M200.28 452.55h.01M186.14 448.04h.01M207.76 435.9h.01M192.27 445.24h.01M185.58 441.14h.01M210.57 442.42h.01M195.38 444.9h.01M198.59 452.18h.01M199.65 442.8h.01M199.62 451.84h.01M197.72 446.42h.01M188.45 450.75h.01M193.29 440.99h.01M198.42 450.15h.01M188.17 444.89h.01M193.5 452.1h.01M194.23 451.41h.01M207.03 451.49h.01M199.06 442.63h.01M190.63 447.38h.01M189.73 449.55h.01M195.02 451.37h.01M188.15 449.1h.01M198.37 447.09h.01M194.3 448.9h.01M196.84 452.29h.01M201.45 448.86h.01M196.84 451.24h.01M192.53 446.37h.01M196.93 454h.01M196.06 442.73h.01M197.69 449.71h.01M200.4 455.87h.01M188.83 446.68h.01M195.64 452.62h.01M206.63 445.91h.01M199.36 453.76h.01M194.92 450.2h.01M198.46 455.76h.01M204.63 447.87h.01M202.17 453.82h.01M207.34 443.21h.01M193.32 451.7h.01M186.64 441.97h.01M194.79 443.4h.01M195.5 449.11h.01M197.66 452.27h.01M210.98 449.17h.01M193.49 452.59h.01M201.98 434.7h.01M192.79 451.61h.01M192.74 455.03h.01M200.29 446.38h.01M203.89 439.33h.01M184.81 446.82h.01M202.12 455.53h.01M185.85 449.07h.01M190.75 452.5h.01M198.8 449.24h.01M192.8 448.61h.01M191.42 451.43h.01M199 442.25h.01M191.09 453.47h.01M200.63 440.33h.01M186.46 449.42h.01M190.85 447.67h.01M197.59 446.02h.01M195.77 457h.01M218.51 454.89h.01M188.09 444.02h.01M186.21 446.91h.01M200.31 452.52h.01M196.13 451.24h.01M188.87 448.41h.01M187.66 448.98h.01M189.05 456.47h.01M199.09 449.85h.01M198.48 444.18h.01M195.86 456.09h.01M187.86 444.94h.01M196.87 447.82h.01M192.17 447.93h.01M202.47 456.42h.01M190.93 453.34h.01M210.39 451.04h.01M189.79 449.1h.01M195.38 450.27h.01M189.67 453.75h.01M185.11 451.08h.01M186 450.06h.01M195.88 449.31h.01M193.57 441.26h.01M192.83 453.48h.01M199.45 447.18h.01M193.21 452.1h.01M202.55 451.36h.01M197.42 452.18h.01M208.96 451.98h.01M192.28 445.29h.01M191.23 453.81h.01M195.09 449.41h.01M193.12 454.04h.01M192.79 442.82h.01M206.93 451.73h.01M196.76 445.64h.01M195.11 447.17h.01M201.84 455.03h.01M192.1 454.75h.01M195.84 453.27h.01M188.7 453.59h.01M195.96 450.69h.01M200.04 446.84h.01M202.84 449.7h.01M192.25 455.79h.01M203.59 456.38h.01M186.19 453.46h.01M202.99 456.81h.01M198.53 451.75h.01M206.22 453.17h.01M188.16 448.12h.01M188.39 446.42h.01M190.14 448.86h.01M190.92 447.92h.01M194.86 456.35h.01M199.35 446.89h.01M196.11 454.01h.01M192.47 444.26h.01M192.32 456.48h.01M212.83 450.57h.01M185.96 451.3h.01M197.5 451.92h.01M195.54 449.51h.01M192.18 445.34h.01M195.47 449.79h.01M192.19 447.64h.01M200.39 449.75h.01M201.27 453.96h.01M200.65 439.28h.01M204.81 447.71h.01M200.53 453.58h.01M185.64 452.77h.01M200.79 444.13h.01M199.17 446.7h.01M191.38 454.07h.01M189.35 451.31h.01M193.19 442.56h.01M188.31 450.2h.01M196.08 453.04h.01M185.05 449.99h.01M206.66 442.19h.01M189.73 452.88h.01M195.5 442.84h.01M191.04 448.51h.01M195.78 451.48h.01M192.53 452.85h.01M191.15 448.13h.01M185.88 450.39h.01M199.85 450.35h.01M202.05 448.89h.01M202.06 449.49h.01M197.33 448.69h.01M189.43 454.93h.01M192.08 449.38h.01M204.32 453.99h.01M190.57 449.52h.01M188.43 454.31h.01M193.95 450.44h.01M194.28 443.11h.01M191.77 448.81h.01M200.6 445.93h.01M197.46 452.38h.01M201.61 449.4h.01M192.85 452.9h.01M190.78 446.47h.01M194.85 447.59h.01M188.35 445.44h.01M190.94 447.83h.01M194.01 455.34h.01M193.37 445.18h.01M204.99 447.51h.01M205.05 447.74h.01M195.61 446.3h.01M191.81 454.65h.01M212.67 455.32h.01M191.36 452.69h.01M185.22 449.13h.01M197.34 447.1h.01M192.11 450.21h.01M185.54 451.66h.01M205.05 455.72h.01M192.67 455.48h.01M192.83 455.65h.01M194.93 443.16h.01M205.6 437.14h.01M191.85 452.62h.01M199.52 451.65h.01M194.34 449.68h.01M192.54 450.95h.01M200.89 453.29h.01M194.43 449.08h.01M189.5 442.4h.01M191.27 455.22h.01M200.62 447.18h.01M198.74 449.19h.01M196.58 453.22h.01M194.6 456.34h.01M195.31 456.47h.01M208.3 447.4h.01M201.24 449.15h.01M207.98 454.33h.01M194.43 451.28h.01M204.64 442.97h.01M203.34 448.76h.01M197.09 447.92h.01M194.91 453.58h.01M200.52 446.84h.01M192.15 452.65h.01M201.18 444.49h.01M196.63 448.66h.01M191.05 451.86h.01M194.32 452.22h.01M198.87 445.89h.01M207.71 443.12h.01M199.46 451.27h.01M195.11 451.14h.01M203.22 440.22h.01M198.41 453.31h.01M193.86 451.64h.01M192.29 447.69h.01M196.27 445.38h.01M189.23 451.74h.01M195.58 443.03h.01M196.11 445.21h.01M198.18 444.75h.01M186.74 448.62h.01M187.74 454.86h.01M205.56 453.35h.01M195.25 452.5h.01M202.16 448.31h.01M192.12 443.35h.01M193.39 449.22h.01M191.83 449.42h.01M189.12 448.03h.01M196.34 453.87h.01M186.71 452.35h.01M187.03 453.98h.01M198.3 452.05h.01M195.54 450.01h.01M194.13 448.86h.01M195.35 451.4h.01M195.39 453.83h.01M193.41 444.45h.01M211.75 454.44h.01M191.15 445.65h.01M194.49 444.49h.01M201.16 455.37h.01M192.61 445.77h.01M197.48 449.15h.01M185.87 450.55h.01M194.29 448.88h.01M197.46 451.26h.01M189.77 450.46h.01M198.34 445.84h.01M198.84 453.69h.01M207.83 450.02h.01M188.87 450.61h.01M199.33 444.11h.01M199.86 452.04h.01M196.21 440.84h.01M204.97 442.16h.01M196.86 452.71h.01M187.89 443.68h.01M201.89 439.78h.01M209.89 439.75h.01M195.24 445.85h.01M187.75 451.29h.01M192.08 448.87h.01M201.42 451.39h.01M190.42 450.41h.01M191.44 446.65h.01M199.93 448.65h.01M186.54 454.59h.01M186.17 445.39h.01M199.34 442.06h.01M202.5 448.93h.01M197.97 450.13h.01M199.01 452.85h.01M185.06 450.16h.01M202.5 444.54h.01M208.53 457.64h.01M188.72 447.33h.01M192.52 451h.01M209.44 452.42h.01M190.78 446.09h.01M201.49 448.84h.01M198.34 451.68h.01M191.87 446.5h.01M189.3 439.84h.01M196.56 449.77h.01M195.36 450.05h.01M193.93 451.26h.01M204.41 454.33h.01M188.31 451.68h.01M192.39 449.42h.01M206 450.98h.01M189.76 445.03h.01M191.25 449.63h.01M187.71 446.37h.01M204 448.38h.01M188.43 449.11h.01M189.28 446.71h.01M194.13 447.05h.01M199.7 453.75h.01M197.07 447.29h.01M198.73 439.07h.01M193.57 452.5h.01M189.8 451.45h.01M196.21 456.48h.01M187.01 449.21h.01M196.43 454.33h.01M197.65 450.24h.01M191.46 448.06h.01M195.16 451.44h.01M202.08 442.83h.01M198.36 453.05h.01M195.71 450.25h.01M194.22 454.74h.01M199.42 439.29h.01M197.9 447.83h.01M194.4 454.82h.01M192.82 450.45h.01M200.02 444.98h.01M196.77 449.4h.01M191.4 444.32h.01M200.84 450.67h.01M197.17 454.59h.01M194.24 451.85h.01M186.65 450.6h.01M201.46 446.74h.01M193.08 438.89h.01M198.91 435.3h.01M200.44 449.55h.01M190.84 456.83h.01M189.34 446.91h.01M195.6 448.2h.01M190.66 447.16h.01M195.03 438.57h.01M202.81 445h.01M189.71 444.52h.01M187.82 446.65h.01M191 451.63h.01M188.57 445.74h.01M194.54 448.65h.01M193.11 441.07h.01M194.38 452.18h.01M193.58 451.79h.01M201.12 439.8h.01M196.25 440.98h.01M195.25 454.91h.01M195.28 448.7h.01M187.66 450.84h.01M196.37 450.42h.01M186.51 442.48h.01M191.84 450.41h.01M187.67 442.41h.01M199.24 443.89h.01M196.07 449.95h.01M209.48 448.51h.01M199.08 450.79h.01M192.34 452.52h.01M198.39 455.89h.01M195.49 454.72h.01M185.82 435.8h.01M193.82 448.5h.01M199.43 449.31h.01M202.82 447.43h.01M194.85 436.72h.01M194.96 455.11h.01M187.9 453.83h.01M188.52 442.12h.01M194.36 452.04h.01M202.36 445.71h.01M194.09 446.81h.01M194.22 448.43h.01M191.68 448.37h.01M194.86 447.77h.01M193.43 450.44h.01M193.06 451.5h.01M189.09 454.37h.01M192.53 454.67h.01M201.67 450.38h.01M205.88 446.01h.01M194.85 446.95h.01M191.69 449.8h.01M196.79 450.28h.01M198.64 452.86h.01M199.74 443.49h.01M196.85 442.67h.01M191.08 445.65h.01M189.41 451.72h.01M191.35 449.88h.01M187.07 441.79h.01M200.91 439.08h.01M188.53 453.73h.01M190.81 449.04h.01M200.69 455.52h.01M192.19 449.27h.01M195.22 441.3h.01M203.82 442.06h.01M185.05 449.36h.01M186.68 446.27h.01M208.63 452.85h.01M197.34 448.99h.01M190.94 447.4h.01M200.41 449.95h.01M197.2 453.26h.01M195.1 446.42h.01M196.73 449.96h.01M199.74 443.42h.01M188.24 442.68h.01M198.47 441.64h.01M188.98 448.85h.01M195.06 457.18h.01M202.17 455.96h.01M206.62 448.38h.01M197.23 448.94h.01M190.27 446.41h.01M199.36 445.88h.01M188.39 445.33h.01M192.33 444.65h.01M197.49 444.44h.01M204.09 442.45h.01M191.3 453.31h.01M185.17 454.25h.01M189.55 446.52h.01M195.06 449.45h.01M197.86 453.88h.01M187.66 456.7h.01M192.1 449.87h.01M197.41 453.13h.01M191.23 453.17h.01M200.92 448.65h.01M197.45 447.95h.01M189.08 455.27h.01M190.64 450.25h.01M191.37 446.99h.01M204.23 446.8h.01M185.03 449.58h.01M192.73 450.92h.01M192.68 450.21h.01M199.59 447.71h.01M194.15 447.48h.01M195.68 447.6h.01M199.21 456.96h.01M201.7 453.36h.01M194.97 454.07h.01M190.08 454.12h.01M192.31 443.8h.01M193.23 437.26h.01M205.04 442.56h.01M200.76 445.27h.01M193.89 456.57h.01M194.99 450.15h.01M186.53 443.3h.01M199.94 453.2h.01M200.21 453.15h.01M206.34 451.14h.01M187.87 451.43h.01M186.34 447.87h.01M190.24 451.02h.01M184.96 453.98h.01M194.05 442.75h.01M200.57 449.52h.01M205.05 451.8h.01M191.02 449.42h.01M188.89 449.31h.01M200.06 451.31h.01M185.16 444.24h.01M200.63 451.27h.01M190.23 454.09h.01M188.31 443.34h.01M201.16 449.77h.01M193.04 445.05h.01M199.2 444.26h.01M196.54 451.3h.01M191.46 449.22h.01M189.02 454.92h.01M197.73 453.9h.01M199.3 452.71h.01M210.33 451.4h.01M200.87 443.93h.01M188.31 456.81h.01M203.18 448.53h.01M196.07 443.55h.01M197.95 444.71h.01M202.07 446.47h.01M189.31 454.92h.01M196.71 445.09h.01M192.88 452.67h.01M202 452.26h.01M196.79 434.92h.01M204.86 440.14h.01M205.28 446.58h.01M185.97 455.78h.01M189.78 449.6h.01M186.92 452.95h.01M194.25 457.15h.01M196 457.69h.01M198.9 447.48h.01M195.57 452.12h.01M190.12 454.08h.01M190.47 444.83h.01M191.65 450.35h.01M188.17 446.32h.01M193.76 448.71h.01M196.8 449.71h.01M199.31 448.94h.01M190.81 457.79h.01M208.32 448.64h.01M192.04 455.69h.01M186.03 439.92h.01M193.41 452.21h.01M194.35 443.69h.01M195.99 450.98h.01M192.03 452.06h.01M195.39 442.17h.01M205.51 450.29h.01M192.27 447.29h.01M191.96 450.7h.01M199.73 450.09h.01M199.52 450.76h.01M199.96 444.48h.01M189.69 449.46h.01M189 456.55h.01M195.57 448.65h.01M198.21 439.62h.01M202.53 443.41h.01M188.21 456.15h.01M196.34 446.84h.01M192.09 450.92h.01M194.06 450.73h.01M187.4 449.96h.01M191.48 448.46h.01M191.59 447.6h.01M195.69 449.47h.01M196.14 447.83h.01M193.46 450.35h.01M205.25 448.2h.01M202.28 454.8h.01M187.32 454.97h.01M193.63 444.91h.01M207.31 453.14h.01M196.52 451.57h.01M191.88 452.34h.01M190.67 450.33h.01M190.83 443.33h.01M194.1 440.5h.01M196.35 453.73h.01M187.93 450.82h.01M205.55 446.4h.01M196.27 451.25h.01M187.47 451.11h.01M194.28 448.68h.01M193.59 448.03h.01M191.78 450.17h.01M192.88 448.67h.01M189.92 455.79h.01M194.11 440.13h.01M192.83 447.16h.01M210.87 449.61h.01M195.84 449.09h.01M200.18 448.45h.01M192.79 457.31h.01M187.89 449.59h.01M197.3 451.98h.01M190.99 447.1h.01M196.4 455.15h.01M190.9 451.88h.01M189.87 443.22h.01M187.82 447.8h.01M198.39 456.19h.01M198.73 447.12h.01M196.44 448.09h.01M199.23 454.84h.01M200.22 452.01h.01M197.85 440.2h.01M208.83 449.11h.01M189.87 456.75h.01M204.18 445.55h.01M188.23 456.28h.01M188.76 442.82h.01M194.63 439.75h.01M196.62 453.86h.01M193.3 452.08h.01M202.1 452.33h.01M194.54 453.83h.01M196.57 446.86h.01M195.67 446.71h.01M187.15 450.25h.01M188.6 441.52h.01M188.7 450.1h.01M200.19 456.9h.01M194.74 454.17h.01M198.73 450.97h.01M197.09 453.48h.01M191.42 444.99h.01M190.29 444.49h.01M184.72 452.34h.01M201.58 449.6h.01M198.24 451.78h.01M205.23 454.96h.01M191.37 451.45h.01M197.71 448.29h.01M199.94 454.65h.01M188.93 442.85h.01M194.66 452.17h.01M199.68 448.25h.01M195.02 447.71h.01M201.99 446.8h.01M191.11 455.96h.01M197.81 450.26h.01M191.79 454.12h.01M191.98 451.27h.01M192.94 449.25h.01M200.28 443.84h.01M197.31 451.42h.01M198.32 455.13h.01M195.05 452.75h.01M195.59 450.85h.01M201.7 448.7h.01M193.27 441.2h.01M190.86 450.52h.01M203.18 448.96h.01M186.04 446.18h.01M200.14 447.29h.01M188.18 449.29h.01M187.31 451.91h.01M197.3 448.12h.01M202.04 454.1h.01M196.16 453.8h.01M200.49 452.88h.01M205.51 454.42h.01M196.48 449.82h.01M203.8 454.74h.01M188.45 448.39h.01M197.82 449.33h.01M192.06 447.82h.01M190.42 452.72h.01M202.33 448.65h.01M195.54 455.37h.01M203.24 443.21h.01M201.33 449.71h.01M193.81 446.22h.01M201.41 450.1h.01M197.57 454.52h.01M194.14 447.01h.01M188.34 453.65h.01M193.82 457.25h.01M195.97 446.63h.01M196.71 445.93h.01M194.98 451.94h.01M196.72 455.2h.01M195.97 450.82h.01M195.31 456.58h.01M199.77 447.15h.01M189.47 450.52h.01M192.32 439.68h.01M201.49 452.74h.01M195.34 445.29h.01M199.23 451.72h.01M185.91 444.37h.01M198.25 443.38h.01M194.15 445.98h.01M204.79 446.28h.01M193.57 442.38h.01M188.5 445.48h.01M194.21 442.49h.01M191.47 454.38h.01M206.33 445.52h.01M197.75 441.44h.01M192.84 451.55h.01M197.74 449.09h.01M194.23 447.55h.01M195.49 451.54h.01M199.95 455.57h.01M188.79 448.63h.01M203.12 449.68h.01M194.12 442.62h.01M197.84 454.66h.01M194.97 445.95h.01M198.9 452.32h.01M187.93 441.7h.01M191.26 454.6h.01M187.93 447.68h.01M193.64 447.64h.01M210.96 451.18h.01M204.77 453.93h.01M212.68 456.04h.01M205.08 447.44h.01M211.64 446.01h.01M214.26 448.2h.01M211.41 446.89h.01M207.59 453.19h.01M217.9 451.02h.01M210.72 444.17h.01M213.23 451.87h.01M206.19 448.4h.01M210.5 452.38h.01M204.35 451.55h.01M214.16 453.4h.01M207.61 451.11h.01M214.75 447.29h.01M207.26 454.01h.01M209.58 449.54h.01M207.52 443.15h.01M210.14 449.05h.01M210.85 447.43h.01M205.15 443.18h.01M205.1 446.83h.01M212.26 442.41h.01M211.36 448.8h.01M211.58 445h.01M213.89 450.18h.01M207.44 455.38h.01M200.87 446.45h.01M214.32 448.27h.01M205.35 450.32h.01M209.64 452.85h.01M207.38 453.96h.01M203.87 454.54h.01M205.43 449.14h.01M206.94 452.99h.01M207.57 451.92h.01M208.83 453.69h.01M215.39 440.33h.01M207.19 449.54h.01M210.53 455.42h.01M214.86 451.89h.01M206.34 449.65h.01M208.78 453.46h.01M208.49 451.82h.01M213.01 445.49h.01M210 449.78h.01M207.5 451.35h.01M206.78 443.08h.01M213.54 449.84h.01M204.35 451.49h.01M206.27 447.39h.01M212.7 451.8h.01M207.88 448.87h.01M206.04 456.5h.01M207.77 454.13h.01M207.95 447.21h.01M210.08 451.26h.01M212.17 451.63h.01M213.87 444.06h.01M207.31 450.35h.01M201.02 444.58h.01M208.74 445.6h.01M208.83 448.35h.01M211.82 447.83h.01M212.82 445.33h.01M210.88 444.25h.01M201.24 439.13h.01M204.59 447.96h.01M213.5 446.3h.01M207.77 447.32h.01M210.09 451.95h.01M209.36 451.96h.01M206.07 448.25h.01M211.75 453.88h.01M208.54 446.46h.01M207.93 447.48h.01M206.02 448.35h.01M209.2 456.3h.01M210.26 455.38h.01M209.55 449.04h.01M214.67 449.7h.01M210.4 452.34h.01M211.91 446.3h.01M205.54 455.47h.01M202.55 449.09h.01M209.16 448.31h.01M206.92 448.25h.01M208.27 447.79h.01M210.94 445.86h.01M202.51 446.95h.01M212.3 445.62h.01M205.39 448.22h.01M211.47 448.25h.01M207.22 444.38h.01M209.58 439.69h.01M206.54 448.6h.01M211.31 442.84h.01M213.29 451.21h.01M208.61 451.73h.01M211.58 451.49h.01M204.67 454.06h.01M214.38 455.41h.01M205.09 445.81h.01M214.33 449.66h.01" stroke="#222" stroke-opacity="0.23" stroke-width="1.0" stroke-linecap="round" fill="none"/>
<path d="M230.08 442.79h.01M219.32 431.5h.01M226.13 438.09h.01M205.31 429.82h.01M212.54 434.71h.01M212.77 433.22h.01M196.7 427.42h.01M216 429.54h.01M210.41 442.72h.01M211.78 423.35h.01M214.74 436.93h.01M207.91 447.02h.01M221.33 448.92h.01M223.17 455.52h.01M215.64 441.35h.01M206.27 449.17h.01M206.16 433.83h.01M209.11 440.88h.01M215.76 448.22h.01M219.84 430.59h.01M197.79 430.76h.01M218.37 447.33h.01M204.39 438.33h.01M213.78 446.02h.01M211.87 438.93h.01M209.34 422.57h.01M210.88 434.5h.01M203.3 454.05h.01M222.13 452.78h.01M218.28 425.59h.01M210.01 439.86h.01M226.06 437.52h.01M208.61 445.54h.01M210.8 441.27h.01M209.98 432.75h.01M217.35 441.97h.01M214.73 443.31h.01M220.82 432.87h.01M214.26 448.17h.01M208.94 429.95h.01M213.27 419.92h.01M221.52 427.66h.01M217.71 445.13h.01M210.59 439.14h.01M211.81 435.92h.01" stroke="#444" stroke-opacity="0.17" stroke-width="1.0" stroke-linecap="round" fill="none"/>
</g>
<rect x="183.9" y="409.1" width="47.3" height="49.5" fill="none" stroke="#a2a2a2" stroke-width="0.9"/>
<line x1="182.2" y1="415.54" x2="183.9" y2="415.54" stroke="#666" stroke-width="0.7"/>
<line x1="190.05" y1="458.6" x2="190.05" y2="460.3" stroke="#666" stroke-width="0.7"/>
<line x1="182.2" y1="427.42" x2="183.9" y2="427.42" stroke="#666" stroke-width="0.7"/>
<line x1="201.4" y1="458.6" x2="201.4" y2="460.3" stroke="#666" stroke-width="0.7"/>
<line x1="182.2" y1="438.8" x2="183.9" y2="438.8" stroke="#666" stroke-width="0.7"/>
<line x1="212.28" y1="458.6" x2="212.28" y2="460.3" stroke="#666" stroke-width="0.7"/>
<line x1="182.2" y1="450.68" x2="183.9" y2="450.68" stroke="#666" stroke-width="0.7"/>
<line x1="223.63" y1="458.6" x2="223.63" y2="460.3" stroke="#666" stroke-width="0.7"/>
<rect x="184.1" y="441" width="21.9" height="17.3" fill="none" stroke="#000" stroke-width="1.3"/>
<text x="185.7" y="438.6" font-size="12" text-anchor="start" fill="#000">90%</text>
<clipPath id="cp31"><rect x="184.4" y="469" width="46.3" height="48.5"/></clipPath>
<g clip-path="url(#cp31)" filter="url(#bl)">
<ellipse cx="194.15" cy="509.5" rx="14.59" ry="12.18" fill="url(#rg)" opacity="0.45"/>
<rect x="183.9" y="500.6" width="22.1" height="17.4" fill="#555" opacity="0.34"/>
<ellipse cx="209" cy="510.3" rx="6" ry="8.7" fill="url(#rg)" opacity="0.3"/>
<path d="M191 509.19h.01M184.93 511.1h.01M186.89 514.17h.01M199.16 515.99h.01M194.36 515.87h.01M195.55 509.18h.01M193.75 508.61h.01M194.57 516.54h.01M197.81 509.93h.01M188.49 511.74h.01M198.42 510.38h.01M202.25 507.88h.01M208.15 513.13h.01M194.6 505.6h.01M189.23 513.83h.01M197.31 507.76h.01M205.41 509.97h.01M203.29 507.12h.01M188.22 515.49h.01M196.38 512.41h.01M197.14 512.29h.01M192.34 512.37h.01M193.16 510.74h.01M194.47 515.21h.01M199.99 505.63h.01M201.79 507.62h.01M200.94 507.17h.01M189.95 514.38h.01M201.13 509.24h.01M193.69 500.59h.01M199.23 503.2h.01M188.82 512.86h.01M193.51 507.24h.01M196.37 514.88h.01M189.07 514.68h.01M187.47 505.26h.01M202.67 508.72h.01M201.68 503.41h.01M186.2 509.74h.01M204.89 502.67h.01M191.73 514.59h.01M198.57 515.45h.01M199.11 510.8h.01M188.07 503.05h.01M197.79 496.37h.01M187.69 513.71h.01M185.99 508.51h.01M195.9 507.91h.01M190.06 507.42h.01M185.21 510.63h.01M192.42 504.93h.01M194.81 507.38h.01M198.3 512.26h.01M188.02 507.1h.01M193.16 502.79h.01M191.02 512.76h.01M198.25 508.84h.01M202.92 500.68h.01M196.44 513.89h.01M190.08 504.54h.01M200.5 508.2h.01M198.68 515.71h.01M189.4 503.9h.01M194.22 511.83h.01M199.59 508.06h.01M195.31 507.32h.01M195.69 507.21h.01M189.17 507.87h.01M198.14 509.49h.01M198.78 513.69h.01M189.51 505.26h.01M192.54 516.03h.01M191.65 513.17h.01M194.29 509.3h.01M189.71 499.52h.01M200.2 510.81h.01M192.1 505.65h.01M187.29 510.51h.01M195.93 498.38h.01M191.84 506.11h.01M202.16 512.74h.01M190.63 507.88h.01M199.67 513.48h.01M195.68 516.51h.01M202.2 509.23h.01M189.54 506.25h.01M187.69 504.73h.01M191.41 503.59h.01M190.83 507.47h.01M199.71 513.2h.01M201.89 511.06h.01M189.98 505.24h.01M190.78 510.26h.01M196.59 512.24h.01M198.04 506.16h.01M193.88 504.5h.01M190.62 510.77h.01M203.67 501.59h.01M203.67 504.81h.01M188.31 513.71h.01M195.4 508.11h.01M195 517.14h.01M201.12 514.45h.01M199.43 509.95h.01M201.97 506.41h.01M197.32 505.58h.01M195.53 514.77h.01M191.72 515.3h.01M201.7 513.77h.01M203.23 511.29h.01M192.91 511.89h.01M185.8 509.34h.01M187.86 502.94h.01M203.15 513.91h.01M188.86 507.97h.01M188.66 508.84h.01M199.39 507.3h.01M187.57 509.98h.01M197.7 510.7h.01M190.27 512.46h.01M201.09 514.34h.01M196.34 512.39h.01M206.29 503.95h.01M191.65 508.55h.01M194.39 516.24h.01M194.57 511.72h.01M190.5 511.64h.01M193.51 503.11h.01M200.95 513.91h.01M193.59 505.25h.01M195.55 510.76h.01M200.75 508.11h.01M201.36 504.86h.01M191.32 505.16h.01M190.48 503.68h.01M194.24 515.4h.01M188.66 508.53h.01M197.77 508.41h.01M197.37 510.59h.01M190.64 515.4h.01M202.21 506.97h.01M189.89 511.96h.01M192.83 505.92h.01M200.68 507.63h.01M191.35 508.32h.01M205.07 515.11h.01M188.78 512.15h.01M191.73 503.93h.01M200.43 513.14h.01M200.76 513.8h.01M195.03 515.22h.01M196.61 514.7h.01M200.85 501.8h.01M200.53 502.61h.01M211.65 511.03h.01M195.95 503.54h.01M194.15 510.16h.01M192.92 511.1h.01M198.51 500.93h.01M198.94 507.58h.01M190.11 502.94h.01M201.24 507.24h.01M193.09 508.78h.01M195.24 505.98h.01M195.43 508.05h.01M199.69 510.89h.01M192.15 511.77h.01M195.96 504.65h.01M197.14 516.87h.01M189.8 509.19h.01M197.53 500.39h.01M190.55 510.86h.01M204.92 501.17h.01M206.29 512.5h.01M193.06 511.82h.01M186.11 504.87h.01M199.18 514.29h.01M190.04 504.08h.01M202.55 516.03h.01M194.52 509.25h.01M203.88 503.6h.01M186.62 515.86h.01M197.24 497.98h.01M195.57 506.76h.01M196.8 505.16h.01M199.67 500.17h.01M197.55 513.13h.01M197.7 516.72h.01M202.48 502.99h.01M197.01 514.66h.01M196.32 503.49h.01M200.62 510.76h.01M212.57 506.61h.01M200.91 504.95h.01M195.23 510.84h.01M184.93 507.46h.01M191.9 511.04h.01M199.43 514.01h.01M195.39 508.6h.01M199.73 512.88h.01M187.17 513.82h.01M198.79 508.22h.01M202.63 516.04h.01M200.15 507.2h.01M186.4 505.28h.01M189.41 504.32h.01M197.26 501.89h.01M186.37 506.19h.01M201.16 507.12h.01M196.66 509.34h.01M193.45 510.66h.01M192.74 513.56h.01M203.41 505.6h.01M196.32 497.86h.01M195.25 506.6h.01M189.33 513.08h.01M192.62 516.3h.01M200 512.43h.01M200 510.48h.01M189.71 515.52h.01M191.41 508.32h.01M188.26 500.28h.01M202.99 509.15h.01M186.89 513.92h.01M204.25 513.9h.01M198.51 514.86h.01M194.65 511.27h.01M200.33 505.87h.01M199.57 506.12h.01M196.53 514.46h.01M186.21 508.41h.01M199.13 509.65h.01M191.34 512.32h.01M193.96 511.71h.01M204.62 512h.01M192.18 515.09h.01M191.3 513.99h.01M199.84 510.35h.01M203.34 502.86h.01M188.01 505.78h.01M184.93 516.03h.01M185.18 497.51h.01M194.55 512.75h.01M193.13 511.16h.01M202.74 504.43h.01M192.26 506.05h.01M194.2 503.62h.01M198.41 509.63h.01M196.8 500.87h.01M195.33 508.15h.01M204.5 510.06h.01M199.55 511.47h.01M190.73 512.95h.01M187.33 515.11h.01M195.31 506.98h.01M193.31 505.44h.01M199.44 498.28h.01M196.55 501.37h.01M203.07 507.29h.01M204.37 513.25h.01M201.18 509.32h.01M197.53 516.93h.01M207.89 506.17h.01M205.98 517.07h.01M210.31 506.03h.01M193.09 517.18h.01M188.39 508.63h.01M187.47 510.33h.01M203.2 514.29h.01M185.62 509.06h.01M191.92 505.43h.01M195.39 502.17h.01M192.13 509.2h.01M193.87 508.05h.01M199.07 505.86h.01M196.63 510.77h.01M198.4 499.08h.01M194.9 512.17h.01M210.12 503.96h.01M187.07 512.36h.01M192.02 506.26h.01M189.7 511.51h.01M198.61 507.86h.01M201.69 510h.01M192.67 509.63h.01M194.64 495.27h.01M190.4 513.32h.01M201.02 501.92h.01M197.93 502.56h.01M205.09 510.03h.01M194.9 510.3h.01M187.96 515.93h.01M190.22 508.04h.01M194.01 504.59h.01M194.75 505.22h.01M196.44 512.32h.01M189.15 512.65h.01M196.93 512.64h.01M187.53 503.41h.01M204.72 514.71h.01M193.49 512.35h.01M202.58 508.44h.01M188.67 503.7h.01M194.02 502.45h.01M196.49 503.7h.01M196.91 504.51h.01M195.91 504.96h.01M191.3 508.01h.01M200.52 510.06h.01M190.5 505.89h.01M194.94 510.08h.01M193.79 501.98h.01M207.63 508.61h.01M189.59 508.95h.01M186.62 511.47h.01M195.82 513.48h.01M195.59 498.18h.01M203.29 514.4h.01M188.96 506h.01M186.41 511.36h.01M188.46 507.4h.01M190.54 510.07h.01M199.15 506.02h.01M197.2 508.32h.01M193.09 506.73h.01M202.14 511.96h.01M196.49 504.99h.01M198.25 506.58h.01M205.9 509.69h.01M190.39 512.86h.01M193.31 513.82h.01M200.27 497.9h.01M198.16 508.5h.01M188.69 514.08h.01M202.32 513.62h.01M195.19 513.56h.01M193.62 502.6h.01M191.26 503.51h.01M185.87 515.81h.01M192.16 513.14h.01M192.63 515.04h.01M192.59 509.2h.01M202.01 514.68h.01M196.46 510.98h.01M190.35 512.09h.01M199.17 506.79h.01M198.79 508.64h.01M196.35 505.82h.01M188.35 506.08h.01M190.48 516.65h.01M187.84 504.83h.01M192.01 512.74h.01M188.67 503.83h.01M198.28 515.03h.01M201.33 510.15h.01M190.99 511.29h.01M203.35 504.54h.01M192.39 506.48h.01M196.66 508.12h.01M195.27 512.88h.01M196.07 513.17h.01M194.94 511h.01M199.84 496.51h.01M190.2 509.06h.01M193.54 507.72h.01M196.67 507.62h.01M188.54 506.82h.01M195.65 513.5h.01M193.17 512.61h.01M198.9 508.16h.01M197.93 507.73h.01M195.28 516.83h.01M203.06 515.82h.01M193.49 509.55h.01M193.48 512.21h.01M204.98 508.63h.01M191.11 509.28h.01M196.68 511.37h.01M185.28 505.68h.01M200.86 505.57h.01M194.15 508.89h.01M193.97 507h.01M200.04 503.12h.01M188.76 510.15h.01M188.48 509.56h.01M188.1 510.57h.01M186.64 499.93h.01M188.1 512.12h.01M200.9 508.48h.01M196.02 510.11h.01M189.98 510.88h.01M197.13 510.91h.01M200.69 505.84h.01M200 513.53h.01M195.41 513.78h.01M192.68 507.36h.01M185.66 502.64h.01M196.08 507.29h.01M186.24 510.46h.01M188.87 510.22h.01M201.21 510.9h.01M186.84 515.13h.01M194.4 511.91h.01M191.77 505.79h.01M191.84 501.23h.01M191.31 508.02h.01M197.62 495.82h.01M200.03 513.73h.01M195.06 510.64h.01M201.26 510.96h.01M186.13 506.44h.01M191.76 501.29h.01M191.99 509.01h.01M195.25 515.38h.01M192.71 516.27h.01M192.27 507.79h.01M189.73 508.64h.01M193.59 507.82h.01M200.52 514.28h.01M198.11 506.15h.01M194.96 497.23h.01M191.64 516.06h.01M185.65 508.28h.01M198.55 497.87h.01M196.2 509.97h.01M196.6 509.96h.01M193.36 495.09h.01M192.89 508.89h.01M193.77 506.72h.01M204.23 508.58h.01M191.7 503.89h.01M195.89 510.86h.01M197.06 507.58h.01M200.15 513.8h.01M192.5 510.3h.01M193.33 506.68h.01M194.89 513.39h.01M196.11 507.17h.01M185.91 507.59h.01M204.2 506.63h.01M191.56 512.04h.01M187.62 516.62h.01M203.29 501.36h.01M194.57 512.62h.01M196.38 511.15h.01M192.43 499.88h.01M197.47 504.89h.01M189.02 510.73h.01M194.12 507.46h.01M196.85 516h.01M192.15 508.75h.01M207.02 514.47h.01M190.37 512.85h.01M192.8 503.72h.01M204.06 514.3h.01M200.42 514.03h.01M199.13 512.24h.01M190.05 512.4h.01M190.72 502.2h.01M195.94 514.05h.01M199.16 510.02h.01M189.25 515.11h.01M185.91 505.69h.01M190.98 509.19h.01M191.76 509.16h.01M187.49 509.98h.01M185.64 506.73h.01M198.51 506.78h.01M194.09 509.09h.01M203.27 513.32h.01M207.67 505.13h.01M193.16 511.31h.01M198.76 507.33h.01M196.25 504.82h.01M188.71 516.95h.01M190.99 516.55h.01M192.19 506.91h.01M196.24 502h.01M187.63 502.33h.01M194.15 515.77h.01M189.67 503.8h.01M203.69 506.28h.01M195.95 513.68h.01M188.7 508.74h.01M206.43 505.69h.01M185.93 510.01h.01M192.8 512.25h.01M195.68 512.1h.01M190.41 498.13h.01M190.99 511.56h.01M198.94 512.96h.01M188.88 510.27h.01M190.62 512.72h.01M192.49 507.29h.01M203.16 512.42h.01M187.67 507.35h.01M187.63 505.91h.01M191.55 512.59h.01M206.5 505.31h.01M192.29 508.22h.01M199.73 506.56h.01M193.73 505.03h.01M195.96 505.85h.01M197.86 506.76h.01M204.2 514.15h.01M192.03 505.09h.01M201.98 515.33h.01M191.37 508.04h.01M191.71 507.37h.01M200.67 506.67h.01M189 508.77h.01M201.99 513.07h.01M197.49 501.14h.01M188.48 512.69h.01M204.92 504.5h.01M197.26 514.86h.01M202.87 507.9h.01M193.28 506.78h.01M197 510.19h.01M188.39 512.12h.01M190.19 512.35h.01M189.39 505.78h.01M191.2 508.22h.01M192.62 506.43h.01M198.7 501.86h.01M187.91 497.07h.01M194.8 514.12h.01M202.76 506.72h.01M196.82 507.03h.01M199.5 503.66h.01M194.74 511.83h.01M200.61 508.4h.01M193.18 514.42h.01M193.09 506.12h.01M193.71 502.8h.01M195.95 509.84h.01M196.46 501.88h.01M194.47 500.33h.01M193.98 506.67h.01M200.16 506.37h.01M190.11 514.36h.01M192.75 503.38h.01M194.05 512.62h.01M197.12 503.12h.01M196.38 504.33h.01M193.75 509.23h.01M198.07 508.85h.01M196.19 509.14h.01M196.42 514.79h.01M187.82 505.05h.01M194.28 507.5h.01M188.87 514.62h.01M201.85 500.07h.01M208.02 509.63h.01M195.94 511.5h.01M209.23 503.51h.01M205.94 503.25h.01M209.83 505.18h.01M211.19 505.44h.01M204.88 515.39h.01M207.85 510.93h.01M207.81 512.47h.01M216.27 514.07h.01M210.91 510.03h.01M213.51 506.82h.01M216.07 516.08h.01M213.09 513.92h.01M208.6 511.79h.01M205.33 510.58h.01M213.33 512.33h.01M211.47 512.17h.01M210.41 513.56h.01M206.98 512.89h.01M206.84 508.07h.01M212.96 502.47h.01M216.15 512.52h.01M209.97 510.75h.01M213.24 508.17h.01M210.55 503.11h.01M205.28 506.14h.01M208.67 506.64h.01M209.51 513.25h.01M210.23 504.42h.01M213.22 502.6h.01M213.02 512.48h.01M211.38 513.1h.01M214.55 512.51h.01M213.06 502.97h.01M209.33 506.38h.01M209.08 514.38h.01M208.33 512.51h.01M212.94 507.93h.01M209.37 514.56h.01M210.45 508.98h.01M206.54 507.78h.01M207.56 508.7h.01M203.87 500.59h.01M207.99 506.37h.01M211.2 513.88h.01M209.69 510.44h.01M204.02 505.68h.01M210.98 508.7h.01M208.83 501.74h.01M208.65 510.98h.01M210.42 504.03h.01M209.6 506.66h.01M205.49 512.36h.01M209.27 508.4h.01M211.77 514.66h.01M207.07 508.12h.01M209.03 513.05h.01M201.1 510.26h.01M209.95 510.03h.01M211.44 514.13h.01M206.02 506.86h.01M210.32 513.5h.01M208.7 509.35h.01M204.94 501.18h.01M215.09 507h.01M210.75 509.96h.01M210.35 500.55h.01M211.74 509.3h.01M206.57 507.34h.01M214.96 511.39h.01M207.01 509.79h.01M212 511.62h.01M206.13 506.91h.01M205.22 511.4h.01M205.69 515.91h.01M210.24 510.23h.01M215.78 504.26h.01M207.04 506.62h.01M203.74 513.63h.01M202.97 511.27h.01M207.32 509.69h.01M206.52 509.9h.01M205.42 508.14h.01M208.86 510.71h.01M211.03 516.69h.01M213.23 513.09h.01M207.91 504.53h.01M210.66 509.2h.01M208.23 510.83h.01M209.36 514.88h.01M212.86 506.95h.01M213.52 505.32h.01M208.17 502.14h.01M208.84 503.88h.01M212.56 502.39h.01M205.98 512.57h.01M211.16 510.81h.01M209.61 505.33h.01M208.56 510.8h.01M211.2 512.51h.01M215.91 505.76h.01M208.26 505.73h.01M208.08 508.16h.01M209.56 515.34h.01M209.07 508.35h.01M202.72 511h.01M210.16 510.22h.01M211.43 511.22h.01M212.51 512.52h.01M205.75 508.91h.01" stroke="#222" stroke-opacity="0.23" stroke-width="1.0" stroke-linecap="round" fill="none"/>
<path d="M205.81 513h.01M207.37 505.75h.01M221.53 512.37h.01M210.01 487.92h.01M211.66 502.57h.01M216.87 499.38h.01M215.34 498.36h.01M205.74 487h.01M222.08 488.15h.01M227.99 497.21h.01M218.52 500.6h.01M210.78 498.63h.01M213.11 493.3h.01M206.55 498.25h.01M223.22 498.28h.01M222.34 496.22h.01M206.58 512.06h.01M205.31 499.05h.01M218.28 504.87h.01M214.35 503.31h.01M216.6 503.97h.01M219.43 495.52h.01M229.87 498.94h.01M207.62 492.81h.01M213.23 511.92h.01M218.77 503.85h.01M217.41 497.01h.01M218.69 497.81h.01M218.73 502.6h.01M211.79 492.59h.01M209.7 513.81h.01M207.67 474.86h.01M212.84 493.55h.01M199.16 492.89h.01M213.5 511.82h.01M220.05 505.58h.01M212.11 511.43h.01M204.04 490.5h.01M224.75 498.89h.01M203.67 496.84h.01M216.17 492.99h.01M218.72 488.18h.01M212.99 490.16h.01M217.46 501.24h.01" stroke="#444" stroke-opacity="0.17" stroke-width="1.0" stroke-linecap="round" fill="none"/>
</g>
<rect x="183.9" y="468.5" width="47.3" height="49.5" fill="none" stroke="#a2a2a2" stroke-width="0.9"/>
<line x1="182.2" y1="474.94" x2="183.9" y2="474.94" stroke="#666" stroke-width="0.7"/>
<line x1="190.05" y1="518" x2="190.05" y2="519.7" stroke="#666" stroke-width="0.7"/>
<line x1="182.2" y1="486.81" x2="183.9" y2="486.81" stroke="#666" stroke-width="0.7"/>
<line x1="201.4" y1="518" x2="201.4" y2="519.7" stroke="#666" stroke-width="0.7"/>
<line x1="182.2" y1="498.2" x2="183.9" y2="498.2" stroke="#666" stroke-width="0.7"/>
<line x1="212.28" y1="518" x2="212.28" y2="519.7" stroke="#666" stroke-width="0.7"/>
<line x1="182.2" y1="510.08" x2="183.9" y2="510.08" stroke="#666" stroke-width="0.7"/>
<line x1="223.63" y1="518" x2="223.63" y2="519.7" stroke="#666" stroke-width="0.7"/>
<rect x="184.1" y="500.6" width="21.9" height="17.1" fill="none" stroke="#000" stroke-width="1.3"/>
<text x="185.7" y="498.2" font-size="12" text-anchor="start" fill="#000">93%</text>
<clipPath id="cp32"><rect x="184.4" y="529.3" width="46.3" height="48.5"/></clipPath>
<g clip-path="url(#cp32)" filter="url(#bl)">
<ellipse cx="194.15" cy="569.75" rx="14.59" ry="12.25" fill="url(#rg)" opacity="0.62"/>
<rect x="183.9" y="560.8" width="22.1" height="17.5" fill="#555" opacity="0.34"/>
<ellipse cx="209" cy="570.55" rx="6" ry="8.75" fill="url(#rg)" opacity="0.3"/>
<path d="M198.1 567.68h.01M186.12 565.63h.01M195.5 563.7h.01M190.12 570.12h.01M196.12 573.59h.01M192.32 562.98h.01M200.96 567.67h.01M204.06 574.91h.01M196.17 567.67h.01M205.6 569.84h.01M191.04 566.98h.01M204.99 567.62h.01M188.02 571.83h.01M197.03 566.32h.01M200.22 563.9h.01M186.53 562.87h.01M192.59 571.19h.01M194.76 564.57h.01M192.3 572.21h.01M190.67 567.52h.01M198.14 564.56h.01M197.87 566.23h.01M190.34 568.73h.01M187.25 572.29h.01M191.39 575.73h.01M191.7 566.97h.01M199.19 572.05h.01M191.48 565.57h.01M197.31 561.72h.01M192.11 573.38h.01M195.04 574.89h.01M197.83 564.39h.01M185.16 569.29h.01M190.38 570.66h.01M194.1 572.2h.01M202.65 566.66h.01M189.11 567.41h.01M187.78 568.05h.01M199.28 567.56h.01M195.48 569.06h.01M190.35 559.55h.01M187.1 573.37h.01M204.8 573.37h.01M194.52 568.55h.01M203.68 573.24h.01M193.65 565.58h.01M194.19 569.63h.01M193.23 573.32h.01M191.15 573.89h.01M204.93 568.56h.01M189.29 561.61h.01M199 565.96h.01M194.32 565.64h.01M189.64 570.55h.01M191.82 564.52h.01M191.9 573.76h.01M194.59 570.47h.01M198.05 572.42h.01M190.36 566.83h.01M185.44 568.39h.01M192.24 571.73h.01M205.82 566.45h.01M197.62 568.4h.01M194.2 567.62h.01M192.99 565.36h.01M188.65 575.85h.01M191.93 563.64h.01M190.85 571.72h.01M200.04 560.83h.01M193.89 565.41h.01M191.94 571.77h.01M193.68 571.83h.01M199.47 575.4h.01M193.23 562.08h.01M201.12 570.81h.01M205.57 575.8h.01M198.1 576.16h.01M190.92 569.89h.01M198.58 571.11h.01M189.41 574.62h.01M191.26 576.38h.01M200.24 569.21h.01M194.54 558.51h.01M195 574.22h.01M197.96 565.54h.01M201.39 565.5h.01M195.81 563.43h.01M194.97 574.06h.01M195.57 569.69h.01M199.31 567.21h.01M198.18 564.59h.01M201.38 571.03h.01M209.9 573.49h.01M196.67 568.65h.01M184.92 568.33h.01M199.07 568.66h.01M188.08 573.53h.01M201.96 570.44h.01M202.38 575.46h.01M188.59 573.04h.01M190.05 568.38h.01M201.97 565.81h.01M200.17 569.68h.01M198.53 567.83h.01M192.18 570.03h.01M196.92 568.65h.01M190.66 568.26h.01M206.65 564.11h.01M193.18 566.87h.01M200.97 570.55h.01M188.18 571.85h.01M197.26 567.99h.01M187.18 572.99h.01M192.23 568.61h.01M187.95 568.14h.01M204.13 568.22h.01M198.25 564.68h.01M203.54 565.87h.01M197.76 571.75h.01M196.74 570.54h.01M196.4 562.77h.01M191.38 572.08h.01M190.12 572.57h.01M195.66 572.82h.01M206.52 569.71h.01M191.84 569.9h.01M197.96 566.01h.01M189.92 568.85h.01M199.13 564.57h.01M194.09 570.67h.01M190.12 574.28h.01M187.81 559.34h.01M204.54 564.7h.01M191.07 575.21h.01M193.42 571.22h.01M188.78 566.77h.01M204.54 573.53h.01M198.42 565.86h.01M191.71 576.37h.01M194.7 564.12h.01M187.94 570.72h.01M196.27 575.86h.01M196.39 573.08h.01M195.16 564.82h.01M194.2 568.67h.01M190.99 564.46h.01M193.46 573.47h.01M187.32 569.74h.01M195.57 566.19h.01M198.54 571.97h.01M186.52 563.05h.01M188.64 560.44h.01M192.58 561.96h.01M190.5 575.55h.01M194.65 574.58h.01M189.96 567.52h.01M186.78 571.59h.01M193.09 569.13h.01M199.06 569.9h.01M202.89 568.77h.01M189.39 572.34h.01M187.93 564.91h.01M194.26 568.48h.01M198.25 568.61h.01M199.93 574.08h.01M201.26 563.83h.01M199.62 568.96h.01M197.33 571.42h.01M204.88 562.49h.01M191.82 568.92h.01M185.86 568.34h.01M190.35 571.94h.01M200.44 571.71h.01M190.32 571.46h.01M191.09 576.12h.01M202.59 569.96h.01M195.5 562.97h.01M189.18 573.32h.01M185.06 565.81h.01M190.68 573.34h.01M191.9 567.39h.01M195.06 562.88h.01M189.67 564.86h.01M193.52 576.67h.01M197.01 562.29h.01M185.54 565.18h.01M184.97 567.39h.01M209.08 564.27h.01M189.99 562.46h.01M202.37 565.4h.01M188.14 562.99h.01M186.83 573.11h.01M193.86 573.77h.01M192.88 562.17h.01M198.31 571.53h.01M188.74 567.54h.01M201.52 564.64h.01M194.97 569.51h.01M195.08 574.04h.01M191.69 575.87h.01M189.54 572.2h.01M196.71 567.39h.01M197.16 576.6h.01M200.82 566.84h.01M194.34 562.12h.01M193.19 572.55h.01M188.28 570.08h.01M195.88 564.5h.01M189.95 573.58h.01M193.98 575.63h.01M196.76 568.49h.01M189.74 569.23h.01M198.24 573.47h.01M187.21 569.01h.01M200.13 569.72h.01M195.53 573.99h.01M199.55 573.35h.01M192.03 566.39h.01M204.73 563.96h.01M210.44 571.69h.01M197.28 568.21h.01M188.59 560.12h.01M197.56 571.7h.01M198.01 566.99h.01M191.01 566.35h.01M195.48 564.86h.01M197.54 573.71h.01M192.07 570.74h.01M187.81 567.92h.01M196.44 551.01h.01M197.24 561.75h.01M187.29 566.66h.01M188.82 565.99h.01M194.52 559.82h.01M204.47 575.9h.01M189.95 568.54h.01M188.69 563h.01M202.18 570.47h.01M195.88 574.87h.01M195.09 569.49h.01M190.33 575.42h.01M202.71 571.63h.01M197.69 565.23h.01M202.1 575.16h.01M197.36 567.59h.01M196.51 557.75h.01M197.79 564.78h.01M203.88 572.38h.01M186.35 559.8h.01M198.13 565.28h.01M194.76 572.54h.01M191.03 574.54h.01M191.59 576.59h.01M189.3 568.34h.01M191.48 572.03h.01M202.61 557.16h.01M201.71 574.09h.01M198.64 565.87h.01M190.42 568.75h.01M196.65 565.37h.01M192.82 570.28h.01M191.24 567.8h.01M201.2 573.95h.01M187.5 562.84h.01M196.33 574.23h.01M191.58 572.19h.01M201.5 572.27h.01M197.74 566.74h.01M188.26 569.88h.01M192.02 565.48h.01M187.97 556.52h.01M193.24 565.3h.01M186.64 573.04h.01M192.07 563.18h.01M194.46 566.69h.01M201.79 559.77h.01M186.9 564.7h.01M195.69 569.39h.01M194 570.95h.01M194.43 577.12h.01M185.24 569.92h.01M189.18 567.57h.01M191.74 563.73h.01M192.26 568.61h.01M191.22 575.82h.01M190.36 571.99h.01M194.13 568.37h.01M193.95 564.8h.01M206.16 568.98h.01M191.19 566.4h.01M190.81 570.48h.01M191.27 568.87h.01M187.76 571.86h.01M198.26 573.49h.01M193.76 575.03h.01M188.1 568.65h.01M195.3 568.45h.01M186.38 571.08h.01M201.57 574.46h.01M185.59 572.93h.01M193.97 557.18h.01M195.73 575.71h.01M188.92 574.3h.01M198.95 563.79h.01M191.55 568.92h.01M198.57 568.52h.01M198.72 572.75h.01M193.24 573.64h.01M211.68 570.66h.01M195.35 564.7h.01M199.27 564.15h.01M193.6 570.88h.01M189.87 562.45h.01M186.55 574.34h.01M199.69 574.48h.01M191.39 564.22h.01M185.74 568.15h.01M196.46 569.38h.01M192.87 574.98h.01M190.92 567.1h.01M192.98 564.43h.01M192.59 568.46h.01M191.83 568.29h.01M201.94 570.82h.01M196.69 564.04h.01M192.96 567.27h.01M197.95 563.78h.01M193.76 574.38h.01M200.72 571.5h.01M190.79 565.07h.01M188.81 572.09h.01M206.43 575.49h.01M200.16 568.66h.01M203.95 565.85h.01M185.92 570.29h.01M189.1 563.42h.01M197.27 568.52h.01M187.76 565.41h.01M201.26 575.04h.01M198.53 563.5h.01M199.83 568.94h.01M196.08 568.29h.01M188.83 571.12h.01M194.98 575.46h.01M191.8 570.93h.01M195.94 564.69h.01M191.71 575.83h.01M196.44 563.07h.01M193.73 570.18h.01M194.59 569.52h.01M193.86 564.72h.01M193.78 573.9h.01M188.28 571.46h.01M197.02 571.32h.01M189.96 565.85h.01M190.79 568.1h.01M199.91 566.24h.01M190.01 567.3h.01M201.21 562.7h.01M194.56 561.82h.01M193.39 564.16h.01M209.82 572.09h.01M200.95 573.47h.01M200.06 575.54h.01M202.49 568.05h.01M193.68 575.59h.01M192.98 576.65h.01M190.55 567.2h.01M187.35 569.86h.01M194.45 570.74h.01M186.44 572.16h.01M189.27 568.06h.01M205.19 574.6h.01M188.71 562.85h.01M192.58 565.66h.01M198.48 575.87h.01M197.75 571.34h.01M188.52 567.3h.01M190.49 563.25h.01M197.06 570.52h.01M193.26 572.4h.01M196.67 570.53h.01M190.54 565.55h.01M192.95 567.89h.01M187.81 568.85h.01M186.13 561.89h.01M191.95 576.82h.01M189.5 563.32h.01M186.75 574.75h.01M199.61 569.31h.01M201.67 573.33h.01M196.84 560.5h.01M191.92 563.09h.01M186.05 567.76h.01M196.22 567.05h.01M203.15 567.46h.01M192.95 571.35h.01M203.7 574.88h.01M191.61 559.03h.01M192.58 569.29h.01M191.03 568.98h.01M196.04 572.58h.01M203.08 564.29h.01M195.78 572.28h.01M195.87 572.54h.01M184.75 564.11h.01M190.79 564.22h.01M203.03 571.9h.01M193.77 568.92h.01M205.13 566.47h.01M199.12 568.68h.01M194.4 566.97h.01M192.57 561.09h.01M202.35 569.67h.01M188.06 576.16h.01M199.62 554.35h.01M203.13 562.87h.01M195.8 568.23h.01M197.23 566.74h.01M196.58 565.91h.01M193.98 568.18h.01M197.69 558.52h.01M204.42 574.84h.01M200.24 572.48h.01M189.84 566.67h.01M195.79 562.05h.01M194.54 560.2h.01M194.99 568.5h.01M198.55 564.69h.01M195.75 568.19h.01M197.63 570.75h.01M194.38 571.84h.01M197.59 573.53h.01M185.97 567.92h.01M193.22 564.83h.01M185.73 565.06h.01M201.3 569.73h.01M203.34 563.14h.01M192.39 573.23h.01M195.68 568.51h.01M201.73 567.91h.01M199.92 563.22h.01M194.34 566.81h.01M198.74 563.36h.01M190.2 569.31h.01M185.14 573.2h.01M198.28 564.61h.01M186.38 576.6h.01M188.39 564.07h.01M189.05 568.96h.01M202.47 566.71h.01M198.46 572.02h.01M209.93 574h.01M193.04 567.85h.01M193.93 571.64h.01M189.69 571.96h.01M190.4 562.01h.01M193.33 560.64h.01M186.25 569.18h.01M186.86 565.81h.01M198.23 560.64h.01M197.52 573.99h.01M195.16 568.98h.01M191.23 571.2h.01M188.46 572.53h.01M191.01 571.14h.01M201.49 571.67h.01M200.95 564.51h.01M188.34 575.06h.01M199.18 575.3h.01M190.3 571.58h.01M199.14 574.2h.01M190.53 573.35h.01M196.77 567.02h.01M192.47 563.93h.01M194.56 567.65h.01M189.72 571.89h.01M200.79 572.45h.01M201.62 561.98h.01M201.91 572.23h.01M201.37 569.26h.01M197.59 574.03h.01M200.32 562.76h.01M193.08 568.89h.01M191.35 569.56h.01M198.04 570.34h.01M191.56 566.99h.01M189.88 572.41h.01M193.39 567.12h.01M194.34 575.32h.01M201.5 570.44h.01M190.53 572.64h.01M193.99 568.66h.01M198.8 569.57h.01M195.01 574.85h.01M191.41 569.11h.01M197.44 576.06h.01M190.56 567.88h.01M199.73 562.88h.01M195.64 565.9h.01M194.14 566.73h.01M199.68 574.3h.01M197.67 572.02h.01M191.23 566.3h.01M193.64 575.05h.01M199.9 573.96h.01M190.25 573.65h.01M191.31 565.33h.01M203.47 568.74h.01M200.46 576.46h.01M204.88 568.51h.01M200.43 572.7h.01M188.75 563.77h.01M190.19 571.08h.01M187.36 572.48h.01M191.08 570.51h.01M194.11 572.14h.01M187.02 571.88h.01M191.5 577.1h.01M200.05 566.25h.01M196.81 573.64h.01M187.02 571.45h.01M202.28 568.45h.01M192.96 562.97h.01M192.91 573.93h.01M206.78 565.14h.01M199.95 567.55h.01M200.38 574.69h.01M193.35 565.93h.01M195.17 566.29h.01M190.51 575.11h.01M202.82 575.68h.01M188.25 573.51h.01M192.27 577.34h.01M188.37 567.37h.01M187.68 567.78h.01M195.5 568.54h.01M186.69 572.46h.01M194.07 568.1h.01M195.14 569.01h.01M191.12 572.39h.01M196.92 575.18h.01M205.17 576.67h.01M189.38 568.08h.01M187.67 570.71h.01M198.16 571.67h.01M195.52 568.45h.01M202.11 575.64h.01M197.69 565.42h.01M194.19 574.29h.01M197.24 574.69h.01M185.7 568.68h.01M188.89 573.9h.01M203.82 574.6h.01M197.81 567.65h.01M197.38 573.84h.01M195.85 564.38h.01M190.84 572.6h.01M185.74 573.28h.01M193.09 568.19h.01M199.78 572.3h.01M198.24 564.72h.01M194.13 567.47h.01M204.88 568.22h.01M191.85 560.29h.01M185.84 565.01h.01M205.18 561.08h.01M193.68 570.64h.01M188.96 565.11h.01M190.25 572.31h.01M199.56 574.17h.01M192.49 575.02h.01M201.3 562.89h.01M195.66 574.05h.01M199.76 563.48h.01M196.81 563.39h.01M195.44 572.25h.01M193.94 574.2h.01M196.1 570.72h.01M195.29 569.67h.01M194.3 570.94h.01M200.24 571.8h.01M194.01 564.99h.01M199.2 571.13h.01M199.7 567.58h.01M184.84 571.98h.01M197.14 577.23h.01M195.13 572.02h.01M190.18 575.04h.01M196.2 572.99h.01M197.61 570.4h.01M186.25 567.64h.01M202.78 565.44h.01M188.15 574.07h.01M199.35 576.39h.01M189.41 574.45h.01M196.76 574.31h.01M185.69 564.17h.01M194.59 565.95h.01M197.98 566.26h.01M199.88 567.28h.01M192.15 573.23h.01M202.06 564.49h.01M190.82 565.04h.01M193.38 574.02h.01M194.07 565.56h.01M193.07 566.28h.01M190.88 568.33h.01M195.09 566.76h.01M200.1 563.24h.01M186.8 574h.01M195.92 570.02h.01M185.98 567.82h.01M194.11 575.14h.01M201.85 569.12h.01M202.26 570.44h.01M201.78 561.48h.01M202.17 561.18h.01M192.58 569.47h.01M201.74 565.44h.01M193.18 568.86h.01M194.82 572.41h.01M198.81 566.91h.01M186.49 569.24h.01M191.43 572.08h.01M208.55 571.8h.01M197.14 564.45h.01M191.7 576.72h.01M185.1 564.95h.01M190.64 555.71h.01M200.66 574.21h.01M198.88 570.39h.01M200.78 577.31h.01M189.52 574.82h.01M206.23 570.31h.01M195.05 567.41h.01M184.78 570.93h.01M186.42 571.02h.01M194.91 564.54h.01M185.53 564.84h.01M203.11 565.7h.01M199.04 566.74h.01M185.13 568.09h.01M191.35 566.46h.01M185.11 566.59h.01M193.69 569.33h.01M203.51 569.84h.01M186.9 568.59h.01M199.94 574.85h.01M203.74 550.56h.01M191.28 573.08h.01M211.83 565.95h.01M187.63 571.22h.01M195.63 567.16h.01M194.21 567.26h.01M190.66 576.2h.01M198.01 568.28h.01M190.08 564.4h.01M200.98 573.76h.01M190.12 574.09h.01M191.54 570.61h.01M191.87 567.46h.01M204.36 564.09h.01M203.97 566.63h.01M201.29 567.91h.01M191.9 573.82h.01M197.13 563.16h.01M190.47 575.33h.01M201.34 571.14h.01M202.16 568.18h.01M186.64 563.47h.01M189.95 574.32h.01M198.61 570.84h.01M193.26 569.26h.01M191.73 566.65h.01M193.29 571.39h.01M195.2 557.54h.01M201.77 573.1h.01M199.62 568.07h.01M199.88 570.73h.01M200.47 572.52h.01M193.71 574.15h.01M196.62 555.02h.01M197.66 572.92h.01M185.72 571.41h.01M193.77 563.36h.01M187.26 575.39h.01M197.64 572.87h.01M185.44 562.88h.01M202.18 572.9h.01M191.79 569.77h.01M206.05 569.92h.01M193.18 565.64h.01M190.63 570.45h.01M194.7 565.53h.01M198.41 572.86h.01M196.48 575.32h.01M186.21 568.23h.01M188.4 570.4h.01M189.49 569.44h.01M194 568.34h.01M197.84 576.02h.01M200.73 565.6h.01M196.13 571.19h.01M185.17 564.72h.01M200.59 577.21h.01M198.65 569.75h.01M192.53 568.68h.01M196.21 572.57h.01M186.16 569.91h.01M188.76 568.92h.01M195.06 567.05h.01M197.83 568.52h.01M188.62 572.1h.01M185.01 568.44h.01M193.7 572.15h.01M201.87 573.47h.01M197.23 569.03h.01M197.78 560.46h.01M193.81 569.49h.01M197.5 567.88h.01M205.76 567.59h.01M199.41 574.54h.01M187.79 561.58h.01M202.03 571.88h.01M197.5 565.37h.01M189.13 566.03h.01M190.5 569.13h.01M189.52 573.27h.01M197.18 565.25h.01M199.19 575.08h.01M212.54 560.77h.01M216.09 562.19h.01M210.27 572.08h.01M205.42 569.13h.01M204.97 571.57h.01M208.87 570.85h.01M212.22 571.52h.01M211.69 574.61h.01M211.95 572.69h.01M207.42 574.36h.01M203.97 562.56h.01M206.64 569.93h.01M213.9 569.82h.01M209.28 573.3h.01M209.3 562.67h.01M208.87 567.89h.01M209.08 566.34h.01M209.62 573.69h.01M209.6 577.05h.01M208.82 573.71h.01M213.2 574.25h.01M211.41 570.99h.01M209.28 559.05h.01M209.43 573.79h.01M211.52 572.6h.01M203.65 564.66h.01M208.58 563.98h.01M208.28 576.16h.01M208.87 570.53h.01M211.8 563.83h.01M209.78 570.97h.01M207.04 570.71h.01M210.79 570.12h.01M208.71 574.57h.01M209.73 574.16h.01M201.05 569.64h.01M212.46 571.79h.01M210.58 572.53h.01M214.86 568.42h.01M204.7 570.48h.01M207.38 575.12h.01M208.73 569.33h.01M215.26 570.06h.01M210.1 570.19h.01M209.16 564.47h.01M216.67 565.63h.01M207.32 568.14h.01M216.22 567.42h.01M207.77 568.71h.01M212 565.38h.01M216.13 564.84h.01M207.4 569.99h.01M208.35 564.21h.01M213.12 569.27h.01M209.53 574.3h.01M208.96 575.44h.01M201.6 573.33h.01M210.04 566.52h.01M209.65 569.1h.01M206.55 565.77h.01M209.95 570.96h.01M205.56 563.63h.01M213.76 557.84h.01M213.2 571.32h.01M210.53 567.15h.01M203.17 573.7h.01M210.42 569.15h.01M204.43 564.03h.01M207.86 573.87h.01M206.46 567.98h.01M211.01 566.16h.01M214.6 572.54h.01M207.13 571.15h.01M218.32 573.97h.01M210.56 564.62h.01M212.22 576.2h.01M210.7 572.82h.01M210.02 563.36h.01M211.44 572.21h.01M213.86 572.47h.01M209.78 569.47h.01M210.7 571.98h.01M205.58 572.29h.01M206.34 569.11h.01M209.23 573.39h.01M208.38 564.92h.01M204.64 566.83h.01M211.12 570.69h.01M203.74 573.66h.01M207.76 567.42h.01M212.72 564.86h.01M206.81 572.87h.01M205.53 569.95h.01M215.02 571.33h.01M203.49 573.5h.01M211.39 572.57h.01M206.95 570.67h.01M210.25 569.76h.01M208.74 567.42h.01M212.43 572.28h.01M212.6 569.9h.01M208.27 567.24h.01M213.74 566.11h.01M206.69 569.22h.01M212.43 574.45h.01M208.01 568.92h.01" stroke="#222" stroke-opacity="0.23" stroke-width="1.0" stroke-linecap="round" fill="none"/>
<path d="M221.57 565.56h.01M219.95 568.97h.01M210.24 574.11h.01M214.25 557.59h.01M215.69 554.85h.01M214.27 555.77h.01M214.43 546.61h.01M196.28 562.04h.01M214.5 563.18h.01M218.35 555.15h.01M215.09 571.74h.01M211.11 554.15h.01M223.55 540.78h.01M215.57 558.17h.01M204.15 544.86h.01M209.78 575.52h.01M216 550.84h.01M214.26 547.7h.01M222.58 558.16h.01M209.13 536.62h.01M227.79 565.1h.01M216.61 570.59h.01M210.69 547.04h.01M212.97 570.41h.01M218.87 554.91h.01M216.22 560.56h.01M213.31 543.2h.01M216.01 548.1h.01M212.06 556.34h.01M208.66 553.98h.01M206.94 574.02h.01M210.96 560.07h.01M228.44 549.08h.01M216.09 560.14h.01M217.38 562.98h.01M215.03 546.4h.01M220.79 568.19h.01M210.02 561.82h.01M209.63 568.39h.01M216.44 539.74h.01M216.53 554.06h.01" stroke="#444" stroke-opacity="0.17" stroke-width="1.0" stroke-linecap="round" fill="none"/>
</g>
<rect x="183.9" y="528.8" width="47.3" height="49.5" fill="none" stroke="#a2a2a2" stroke-width="0.9"/>
<line x1="182.2" y1="535.23" x2="183.9" y2="535.23" stroke="#666" stroke-width="0.7"/>
<line x1="190.05" y1="578.3" x2="190.05" y2="580" stroke="#666" stroke-width="0.7"/>
<line x1="182.2" y1="547.12" x2="183.9" y2="547.12" stroke="#666" stroke-width="0.7"/>
<line x1="201.4" y1="578.3" x2="201.4" y2="580" stroke="#666" stroke-width="0.7"/>
<line x1="182.2" y1="558.5" x2="183.9" y2="558.5" stroke="#666" stroke-width="0.7"/>
<line x1="212.28" y1="578.3" x2="212.28" y2="580" stroke="#666" stroke-width="0.7"/>
<line x1="182.2" y1="570.38" x2="183.9" y2="570.38" stroke="#666" stroke-width="0.7"/>
<line x1="223.63" y1="578.3" x2="223.63" y2="580" stroke="#666" stroke-width="0.7"/>
<rect x="184.1" y="560.8" width="21.9" height="17.2" fill="none" stroke="#000" stroke-width="1.3"/>
<text x="185.7" y="558.4" font-size="12" text-anchor="start" fill="#000">92%</text>
<polyline points="5.5,556.8 5.5,591.7 37.6,591.7" fill="none" stroke="#111" stroke-width="1.5"/>
<text x="5.7" y="537.34" font-size="11" text-anchor="middle" fill="#000" transform="rotate(-90 5.7 533.4)">7-AAD</text>
<text x="42.5" y="594.17" font-size="11.65" text-anchor="start" fill="#000">Annexin-V</text>
<text x="234.9" y="419.54" font-size="12.4" text-anchor="start" fill="#000">PK11195</text>
<line x1="241.4" y1="425.6" x2="241.4" y2="551" stroke="#000" stroke-width="1.6"/>
<polygon points="236.6,549 246.2,549 241.4,565.4" fill="#000"/>
<text x="281.2" y="437.96" font-size="11.9" text-anchor="end" fill="#000">0µM</text>
<text x="284.2" y="492.26" font-size="11.9" text-anchor="end" fill="#000">17.5µM</text>
<text x="283.4" y="543.96" font-size="11.9" text-anchor="end" fill="#000">35µM</text>
<line x1="330.7" y1="398.6" x2="330.7" y2="512.7" stroke="#000" stroke-width="1.4"/>
<line x1="330" y1="512" x2="376.4" y2="512" stroke="#000" stroke-width="1.5"/>
<line x1="326.1" y1="512" x2="330.7" y2="512" stroke="#000" stroke-width="1.2"/>
<text x="326.1" y="515.4" font-size="9.5" text-anchor="end" fill="#000">0</text>
<line x1="326.1" y1="481.56" x2="330.7" y2="481.56" stroke="#000" stroke-width="1.2"/>
<text x="326.1" y="484.96" font-size="9.5" text-anchor="end" fill="#000">20</text>
<line x1="326.1" y1="451.12" x2="330.7" y2="451.12" stroke="#000" stroke-width="1.2"/>
<text x="326.1" y="454.52" font-size="9.5" text-anchor="end" fill="#000">40</text>
<line x1="326.1" y1="420.68" x2="330.7" y2="420.68" stroke="#000" stroke-width="1.2"/>
<text x="326.1" y="424.08" font-size="9.5" text-anchor="end" fill="#000">60</text>
<line x1="351" y1="512" x2="351" y2="515.6" stroke="#000" stroke-width="1.2"/>
<line x1="371.6" y1="512" x2="371.6" y2="515.6" stroke="#000" stroke-width="1.2"/>
<text x="351.2" y="523.49" font-size="9.2" text-anchor="middle" fill="#000">17.5</text>
<text x="371.4" y="523.49" font-size="9.2" text-anchor="middle" fill="#000">35</text>
<text x="354.4" y="537.91" font-size="9.8" text-anchor="middle" fill="#000">PK11195 (µM)</text>
<text x="308" y="459.48" font-size="10.85" text-anchor="middle" fill="#000" transform="rotate(-90 308 455.6)">%specific cell death</text>
<line x1="337" y1="511.6" x2="371.3" y2="511.6" stroke="#000" stroke-width="1"/>
<line x1="337" y1="511" x2="371.3" y2="504.2" stroke="#000" stroke-width="1.1"/>
<polygon points="337,514.1 339.3,510.07 334.7,510.07" fill="#fff" stroke="#000" stroke-width="1"/>
<polygon points="371.3,514.9 373.8,510.52 368.8,510.52" fill="#fff" stroke="#000" stroke-width="1"/>
<polygon points="337,508.5 339.3,512.52 334.7,512.52" fill="#fff" stroke="#000" stroke-width="1"/>
<polygon points="371.3,503.1 373.8,507.48 368.8,507.48" fill="#fff" stroke="#000" stroke-width="1"/>
<line x1="337" y1="504.5" x2="371.3" y2="502" stroke="#000" stroke-width="1.25"/>
<circle cx="337" cy="504.5" r="2.55" fill="#000" stroke="#000" stroke-width="1.2"/>
<circle cx="371.3" cy="502" r="2.55" fill="#000" stroke="#000" stroke-width="1.2"/>
<line x1="337" y1="470" x2="371.3" y2="423" stroke="#000" stroke-width="1.2"/>
<line x1="337" y1="462" x2="337" y2="478.8" stroke="#000" stroke-width="1.25"/>
<line x1="334" y1="462" x2="340" y2="462" stroke="#000" stroke-width="1.25"/>
<line x1="334" y1="478.8" x2="340" y2="478.8" stroke="#000" stroke-width="1.25"/>
<line x1="371.3" y1="413.3" x2="371.3" y2="432.5" stroke="#000" stroke-width="1.25"/>
<line x1="368.3" y1="413.3" x2="374.3" y2="413.3" stroke="#000" stroke-width="1.25"/>
<line x1="368.3" y1="432.5" x2="374.3" y2="432.5" stroke="#000" stroke-width="1.25"/>
<rect x="334.55" y="467.55" width="4.9" height="4.9" fill="#fff" stroke="#000" stroke-width="1.1"/>
<rect x="368.85" y="420.55" width="4.9" height="4.9" fill="#fff" stroke="#000" stroke-width="1.1"/>
<text x="350.7" y="474.58" font-size="10" text-anchor="middle" fill="#000" font-weight="bold" letter-spacing="1.4">***</text>
<text x="384.7" y="428.18" font-size="10" text-anchor="middle" fill="#000" font-weight="bold" letter-spacing="1.4">***</text>
<line x1="323" y1="549.5" x2="337.4" y2="549.5" stroke="#000" stroke-width="1.25"/>
<rect x="327.3" y="547.2" width="5.8" height="4.6" fill="#fff" stroke="#000" stroke-width="1.1"/>
<text x="344.3" y="552.92" font-size="9.55" text-anchor="start" fill="#000">CLL-cells</text>
<line x1="323" y1="560.5" x2="337.4" y2="560.5" stroke="#000" stroke-width="1.25"/>
<circle cx="330.2" cy="560.5" r="2.55" fill="#000" stroke="#000" stroke-width="1.2"/>
<text x="344.3" y="563.92" font-size="9.55" text-anchor="start" fill="#000">B-cells</text>
<line x1="323" y1="571.3" x2="337.4" y2="571.3" stroke="#000" stroke-width="1.25"/>
<polygon points="330.2,568.9 332.5,572.92 327.9,572.92" fill="#fff" stroke="#000" stroke-width="1"/>
<text x="344.3" y="574.72" font-size="9.55" text-anchor="start" fill="#000">T-cells (CLL)</text>
<line x1="323" y1="582" x2="337.4" y2="582" stroke="#000" stroke-width="1.25"/>
<polygon points="330.2,584.4 332.5,580.38 327.9,580.38" fill="#fff" stroke="#000" stroke-width="1"/>
<text x="344.3" y="585.42" font-size="9.55" text-anchor="start" fill="#000">T-cells</text>
<text x="412.4" y="391.01" font-size="16.5" text-anchor="start" fill="#000" font-weight="bold">H</text>
<line x1="442.3" y1="398.1" x2="442.3" y2="512.8" stroke="#000" stroke-width="1.4"/>
<line x1="441.6" y1="512.1" x2="467.2" y2="512.1" stroke="#000" stroke-width="1.5"/>
<line x1="438.5" y1="512.1" x2="442.3" y2="512.1" stroke="#000" stroke-width="1.2"/>
<text x="438.9" y="515.25" font-size="8.8" text-anchor="end" fill="#000">0</text>
<line x1="438.5" y1="474.3" x2="442.3" y2="474.3" stroke="#000" stroke-width="1.2"/>
<text x="438.9" y="477.45" font-size="8.8" text-anchor="end" fill="#000">20</text>
<line x1="438.5" y1="436.5" x2="442.3" y2="436.5" stroke="#000" stroke-width="1.2"/>
<text x="438.9" y="439.65" font-size="8.8" text-anchor="end" fill="#000">40</text>
<line x1="438.5" y1="398.7" x2="442.3" y2="398.7" stroke="#000" stroke-width="1.2"/>
<text x="438.9" y="401.85" font-size="8.8" text-anchor="end" fill="#000">60</text>
<text x="419.8" y="457.87" font-size="10.8" text-anchor="middle" fill="#000" transform="rotate(-90 419.8 454)">% specific cell death</text>
<line x1="448.8" y1="438.96" x2="448.8" y2="427.05" stroke="#222" stroke-width="1"/>
<line x1="446.5" y1="427.05" x2="451.1" y2="427.05" stroke="#222" stroke-width="1"/>
<line x1="461.1" y1="430.83" x2="461.1" y2="407.21" stroke="#222" stroke-width="1"/>
<line x1="458.8" y1="407.21" x2="463.4" y2="407.21" stroke="#222" stroke-width="1"/>
<rect x="444.5" y="438.96" width="8.6" height="73.14" fill="#9c9c9c" stroke="#000" stroke-width="1.1"/>
<rect x="456.8" y="430.83" width="8.6" height="81.27" fill="url(#chk)" stroke="#000" stroke-width="1.1"/>
<text x="449.2" y="521.6" font-size="10.6" font-weight="bold" text-anchor="end" transform="rotate(-45 449.2 521.6)">-HS-5</text>
<text x="465.2" y="521.6" font-size="10.6" font-weight="bold" text-anchor="end" transform="rotate(-45 465.2 521.6)">+HS-5</text>
</svg>
</body>
</html>
